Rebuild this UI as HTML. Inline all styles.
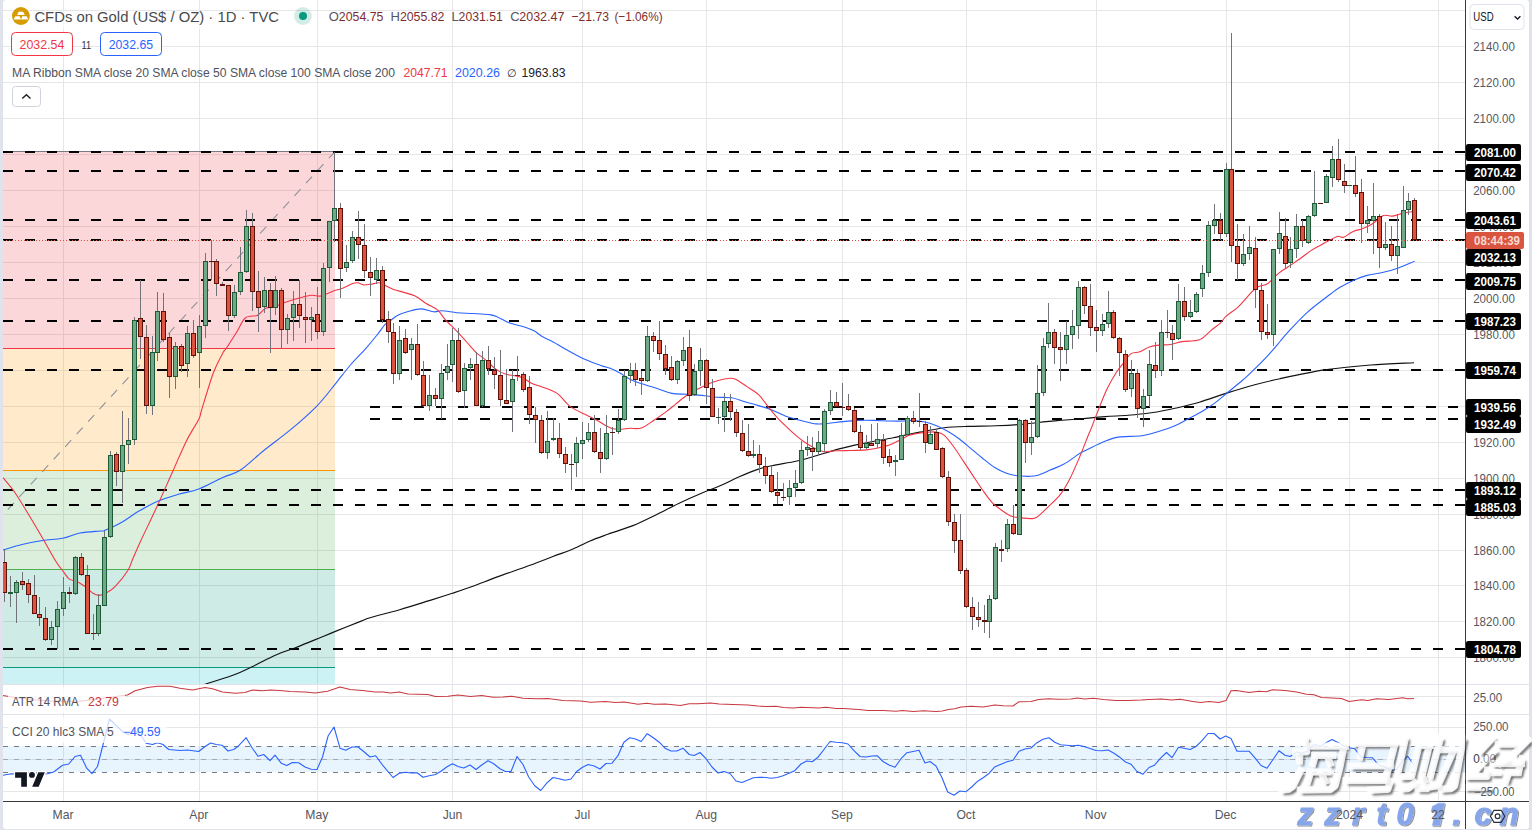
<!DOCTYPE html>
<html><head><meta charset="utf-8"><title>Gold chart</title>
<style>html,body{margin:0;padding:0;background:#fff}body{width:1532px;height:831px;overflow:hidden;position:relative;font-family:"Liberation Sans", sans-serif}</style>
</head><body>
<svg width="1532" height="831" viewBox="0 0 1532 831" style="position:absolute;left:0;top:0;font-family:'Liberation Sans',sans-serif" shape-rendering="crispEdges">
<rect x="0" y="0" width="1532" height="831" fill="#ffffff"/>
<g id="grid"><rect x="3" y="657" width="1462" height="1" fill="#e6e6e6"/><rect x="3" y="621" width="1462" height="1" fill="#e6e6e6"/><rect x="3" y="585" width="1462" height="1" fill="#e6e6e6"/><rect x="3" y="550" width="1462" height="1" fill="#e6e6e6"/><rect x="3" y="514" width="1462" height="1" fill="#e6e6e6"/><rect x="3" y="478" width="1462" height="1" fill="#e6e6e6"/><rect x="3" y="442" width="1462" height="1" fill="#e6e6e6"/><rect x="3" y="406" width="1462" height="1" fill="#e6e6e6"/><rect x="3" y="370" width="1462" height="1" fill="#e6e6e6"/><rect x="3" y="334" width="1462" height="1" fill="#e6e6e6"/><rect x="3" y="298" width="1462" height="1" fill="#e6e6e6"/><rect x="3" y="262" width="1462" height="1" fill="#e6e6e6"/><rect x="3" y="226" width="1462" height="1" fill="#e6e6e6"/><rect x="3" y="190" width="1462" height="1" fill="#e6e6e6"/><rect x="3" y="154" width="1462" height="1" fill="#e6e6e6"/><rect x="3" y="118" width="1462" height="1" fill="#e6e6e6"/><rect x="3" y="82" width="1462" height="1" fill="#e6e6e6"/><rect x="3" y="46" width="1462" height="1" fill="#e6e6e6"/><rect x="3" y="10" width="1462" height="1" fill="#e6e6e6"/><rect x="63" y="0" width="1" height="801" fill="#e6e6e6"/><rect x="199" y="0" width="1" height="801" fill="#e6e6e6"/><rect x="317" y="0" width="1" height="801" fill="#e6e6e6"/><rect x="452" y="0" width="1" height="801" fill="#e6e6e6"/><rect x="582" y="0" width="1" height="801" fill="#e6e6e6"/><rect x="706" y="0" width="1" height="801" fill="#e6e6e6"/><rect x="842" y="0" width="1" height="801" fill="#e6e6e6"/><rect x="966" y="0" width="1" height="801" fill="#e6e6e6"/><rect x="1096" y="0" width="1" height="801" fill="#e6e6e6"/><rect x="1226" y="0" width="1" height="801" fill="#e6e6e6"/><rect x="1349" y="0" width="1" height="801" fill="#e6e6e6"/><rect x="1438" y="0" width="1" height="801" fill="#e6e6e6"/><rect x="3" y="696" width="1462" height="1" fill="#e6e6e6"/><rect x="3" y="727" width="1462" height="1" fill="#e6e6e6"/><rect x="3" y="759" width="1462" height="1" fill="#e6e6e6"/><rect x="3" y="791" width="1462" height="1" fill="#e6e6e6"/></g>
<g id="fib"><rect x="3" y="151.5" width="332" height="196.8" fill="#f23645" fill-opacity="0.2"/><rect x="3" y="348.3" width="332" height="122.1" fill="#ff9800" fill-opacity="0.2"/><rect x="3" y="470.4" width="332" height="98.9" fill="#4caf50" fill-opacity="0.2"/><rect x="3" y="569.3" width="332" height="98.1" fill="#089981" fill-opacity="0.2"/><rect x="3" y="667.4" width="332" height="17.1" fill="#00bcd4" fill-opacity="0.2"/><rect x="3" y="151" width="332" height="1" fill="#787b86"/><rect x="3" y="348" width="332" height="1" fill="#f23645"/><rect x="3" y="470" width="332" height="1" fill="#ff9800"/><rect x="3" y="569" width="332" height="1" fill="#4caf50"/><rect x="3" y="667" width="332" height="1" fill="#089981"/><rect x="334" y="151" width="1" height="58" fill="#787b86"/></g>
<line x1="335" y1="151.5" x2="-10" y2="529" stroke="#8f929b" stroke-width="1.1" stroke-dasharray="9 8" shape-rendering="auto"/>
<g id="levels"><rect x="3" y="151" width="10" height="2" fill="#000"/><rect x="25" y="151" width="10" height="2" fill="#000"/><rect x="47" y="151" width="10" height="2" fill="#000"/><rect x="69" y="151" width="10" height="2" fill="#000"/><rect x="91" y="151" width="10" height="2" fill="#000"/><rect x="113" y="151" width="10" height="2" fill="#000"/><rect x="135" y="151" width="10" height="2" fill="#000"/><rect x="157" y="151" width="10" height="2" fill="#000"/><rect x="179" y="151" width="10" height="2" fill="#000"/><rect x="201" y="151" width="10" height="2" fill="#000"/><rect x="223" y="151" width="10" height="2" fill="#000"/><rect x="245" y="151" width="10" height="2" fill="#000"/><rect x="267" y="151" width="10" height="2" fill="#000"/><rect x="289" y="151" width="10" height="2" fill="#000"/><rect x="311" y="151" width="10" height="2" fill="#000"/><rect x="333" y="151" width="10" height="2" fill="#000"/><rect x="355" y="151" width="10" height="2" fill="#000"/><rect x="377" y="151" width="10" height="2" fill="#000"/><rect x="399" y="151" width="10" height="2" fill="#000"/><rect x="421" y="151" width="10" height="2" fill="#000"/><rect x="443" y="151" width="10" height="2" fill="#000"/><rect x="465" y="151" width="10" height="2" fill="#000"/><rect x="487" y="151" width="10" height="2" fill="#000"/><rect x="509" y="151" width="10" height="2" fill="#000"/><rect x="531" y="151" width="10" height="2" fill="#000"/><rect x="553" y="151" width="10" height="2" fill="#000"/><rect x="575" y="151" width="10" height="2" fill="#000"/><rect x="597" y="151" width="10" height="2" fill="#000"/><rect x="619" y="151" width="10" height="2" fill="#000"/><rect x="641" y="151" width="10" height="2" fill="#000"/><rect x="663" y="151" width="10" height="2" fill="#000"/><rect x="685" y="151" width="10" height="2" fill="#000"/><rect x="707" y="151" width="10" height="2" fill="#000"/><rect x="729" y="151" width="10" height="2" fill="#000"/><rect x="751" y="151" width="10" height="2" fill="#000"/><rect x="773" y="151" width="10" height="2" fill="#000"/><rect x="795" y="151" width="10" height="2" fill="#000"/><rect x="817" y="151" width="10" height="2" fill="#000"/><rect x="839" y="151" width="10" height="2" fill="#000"/><rect x="861" y="151" width="10" height="2" fill="#000"/><rect x="883" y="151" width="10" height="2" fill="#000"/><rect x="905" y="151" width="10" height="2" fill="#000"/><rect x="927" y="151" width="10" height="2" fill="#000"/><rect x="949" y="151" width="10" height="2" fill="#000"/><rect x="971" y="151" width="10" height="2" fill="#000"/><rect x="993" y="151" width="10" height="2" fill="#000"/><rect x="1015" y="151" width="10" height="2" fill="#000"/><rect x="1037" y="151" width="10" height="2" fill="#000"/><rect x="1059" y="151" width="10" height="2" fill="#000"/><rect x="1081" y="151" width="10" height="2" fill="#000"/><rect x="1103" y="151" width="10" height="2" fill="#000"/><rect x="1125" y="151" width="10" height="2" fill="#000"/><rect x="1147" y="151" width="10" height="2" fill="#000"/><rect x="1169" y="151" width="10" height="2" fill="#000"/><rect x="1191" y="151" width="10" height="2" fill="#000"/><rect x="1213" y="151" width="10" height="2" fill="#000"/><rect x="1235" y="151" width="10" height="2" fill="#000"/><rect x="1257" y="151" width="10" height="2" fill="#000"/><rect x="1279" y="151" width="10" height="2" fill="#000"/><rect x="1301" y="151" width="10" height="2" fill="#000"/><rect x="1323" y="151" width="10" height="2" fill="#000"/><rect x="1345" y="151" width="10" height="2" fill="#000"/><rect x="1367" y="151" width="10" height="2" fill="#000"/><rect x="1389" y="151" width="10" height="2" fill="#000"/><rect x="1411" y="151" width="10" height="2" fill="#000"/><rect x="1433" y="151" width="10" height="2" fill="#000"/><rect x="1455" y="151" width="10" height="2" fill="#000"/><rect x="3" y="170" width="10" height="2" fill="#000"/><rect x="25" y="170" width="10" height="2" fill="#000"/><rect x="47" y="170" width="10" height="2" fill="#000"/><rect x="69" y="170" width="10" height="2" fill="#000"/><rect x="91" y="170" width="10" height="2" fill="#000"/><rect x="113" y="170" width="10" height="2" fill="#000"/><rect x="135" y="170" width="10" height="2" fill="#000"/><rect x="157" y="170" width="10" height="2" fill="#000"/><rect x="179" y="170" width="10" height="2" fill="#000"/><rect x="201" y="170" width="10" height="2" fill="#000"/><rect x="223" y="170" width="10" height="2" fill="#000"/><rect x="245" y="170" width="10" height="2" fill="#000"/><rect x="267" y="170" width="10" height="2" fill="#000"/><rect x="289" y="170" width="10" height="2" fill="#000"/><rect x="311" y="170" width="10" height="2" fill="#000"/><rect x="333" y="170" width="10" height="2" fill="#000"/><rect x="355" y="170" width="10" height="2" fill="#000"/><rect x="377" y="170" width="10" height="2" fill="#000"/><rect x="399" y="170" width="10" height="2" fill="#000"/><rect x="421" y="170" width="10" height="2" fill="#000"/><rect x="443" y="170" width="10" height="2" fill="#000"/><rect x="465" y="170" width="10" height="2" fill="#000"/><rect x="487" y="170" width="10" height="2" fill="#000"/><rect x="509" y="170" width="10" height="2" fill="#000"/><rect x="531" y="170" width="10" height="2" fill="#000"/><rect x="553" y="170" width="10" height="2" fill="#000"/><rect x="575" y="170" width="10" height="2" fill="#000"/><rect x="597" y="170" width="10" height="2" fill="#000"/><rect x="619" y="170" width="10" height="2" fill="#000"/><rect x="641" y="170" width="10" height="2" fill="#000"/><rect x="663" y="170" width="10" height="2" fill="#000"/><rect x="685" y="170" width="10" height="2" fill="#000"/><rect x="707" y="170" width="10" height="2" fill="#000"/><rect x="729" y="170" width="10" height="2" fill="#000"/><rect x="751" y="170" width="10" height="2" fill="#000"/><rect x="773" y="170" width="10" height="2" fill="#000"/><rect x="795" y="170" width="10" height="2" fill="#000"/><rect x="817" y="170" width="10" height="2" fill="#000"/><rect x="839" y="170" width="10" height="2" fill="#000"/><rect x="861" y="170" width="10" height="2" fill="#000"/><rect x="883" y="170" width="10" height="2" fill="#000"/><rect x="905" y="170" width="10" height="2" fill="#000"/><rect x="927" y="170" width="10" height="2" fill="#000"/><rect x="949" y="170" width="10" height="2" fill="#000"/><rect x="971" y="170" width="10" height="2" fill="#000"/><rect x="993" y="170" width="10" height="2" fill="#000"/><rect x="1015" y="170" width="10" height="2" fill="#000"/><rect x="1037" y="170" width="10" height="2" fill="#000"/><rect x="1059" y="170" width="10" height="2" fill="#000"/><rect x="1081" y="170" width="10" height="2" fill="#000"/><rect x="1103" y="170" width="10" height="2" fill="#000"/><rect x="1125" y="170" width="10" height="2" fill="#000"/><rect x="1147" y="170" width="10" height="2" fill="#000"/><rect x="1169" y="170" width="10" height="2" fill="#000"/><rect x="1191" y="170" width="10" height="2" fill="#000"/><rect x="1213" y="170" width="10" height="2" fill="#000"/><rect x="1235" y="170" width="10" height="2" fill="#000"/><rect x="1257" y="170" width="10" height="2" fill="#000"/><rect x="1279" y="170" width="10" height="2" fill="#000"/><rect x="1301" y="170" width="10" height="2" fill="#000"/><rect x="1323" y="170" width="10" height="2" fill="#000"/><rect x="1345" y="170" width="10" height="2" fill="#000"/><rect x="1367" y="170" width="10" height="2" fill="#000"/><rect x="1389" y="170" width="10" height="2" fill="#000"/><rect x="1411" y="170" width="10" height="2" fill="#000"/><rect x="1433" y="170" width="10" height="2" fill="#000"/><rect x="1455" y="170" width="10" height="2" fill="#000"/><rect x="3" y="219" width="10" height="2" fill="#000"/><rect x="25" y="219" width="10" height="2" fill="#000"/><rect x="47" y="219" width="10" height="2" fill="#000"/><rect x="69" y="219" width="10" height="2" fill="#000"/><rect x="91" y="219" width="10" height="2" fill="#000"/><rect x="113" y="219" width="10" height="2" fill="#000"/><rect x="135" y="219" width="10" height="2" fill="#000"/><rect x="157" y="219" width="10" height="2" fill="#000"/><rect x="179" y="219" width="10" height="2" fill="#000"/><rect x="201" y="219" width="10" height="2" fill="#000"/><rect x="223" y="219" width="10" height="2" fill="#000"/><rect x="245" y="219" width="10" height="2" fill="#000"/><rect x="267" y="219" width="10" height="2" fill="#000"/><rect x="289" y="219" width="10" height="2" fill="#000"/><rect x="311" y="219" width="10" height="2" fill="#000"/><rect x="333" y="219" width="10" height="2" fill="#000"/><rect x="355" y="219" width="10" height="2" fill="#000"/><rect x="377" y="219" width="10" height="2" fill="#000"/><rect x="399" y="219" width="10" height="2" fill="#000"/><rect x="421" y="219" width="10" height="2" fill="#000"/><rect x="443" y="219" width="10" height="2" fill="#000"/><rect x="465" y="219" width="10" height="2" fill="#000"/><rect x="487" y="219" width="10" height="2" fill="#000"/><rect x="509" y="219" width="10" height="2" fill="#000"/><rect x="531" y="219" width="10" height="2" fill="#000"/><rect x="553" y="219" width="10" height="2" fill="#000"/><rect x="575" y="219" width="10" height="2" fill="#000"/><rect x="597" y="219" width="10" height="2" fill="#000"/><rect x="619" y="219" width="10" height="2" fill="#000"/><rect x="641" y="219" width="10" height="2" fill="#000"/><rect x="663" y="219" width="10" height="2" fill="#000"/><rect x="685" y="219" width="10" height="2" fill="#000"/><rect x="707" y="219" width="10" height="2" fill="#000"/><rect x="729" y="219" width="10" height="2" fill="#000"/><rect x="751" y="219" width="10" height="2" fill="#000"/><rect x="773" y="219" width="10" height="2" fill="#000"/><rect x="795" y="219" width="10" height="2" fill="#000"/><rect x="817" y="219" width="10" height="2" fill="#000"/><rect x="839" y="219" width="10" height="2" fill="#000"/><rect x="861" y="219" width="10" height="2" fill="#000"/><rect x="883" y="219" width="10" height="2" fill="#000"/><rect x="905" y="219" width="10" height="2" fill="#000"/><rect x="927" y="219" width="10" height="2" fill="#000"/><rect x="949" y="219" width="10" height="2" fill="#000"/><rect x="971" y="219" width="10" height="2" fill="#000"/><rect x="993" y="219" width="10" height="2" fill="#000"/><rect x="1015" y="219" width="10" height="2" fill="#000"/><rect x="1037" y="219" width="10" height="2" fill="#000"/><rect x="1059" y="219" width="10" height="2" fill="#000"/><rect x="1081" y="219" width="10" height="2" fill="#000"/><rect x="1103" y="219" width="10" height="2" fill="#000"/><rect x="1125" y="219" width="10" height="2" fill="#000"/><rect x="1147" y="219" width="10" height="2" fill="#000"/><rect x="1169" y="219" width="10" height="2" fill="#000"/><rect x="1191" y="219" width="10" height="2" fill="#000"/><rect x="1213" y="219" width="10" height="2" fill="#000"/><rect x="1235" y="219" width="10" height="2" fill="#000"/><rect x="1257" y="219" width="10" height="2" fill="#000"/><rect x="1279" y="219" width="10" height="2" fill="#000"/><rect x="1301" y="219" width="10" height="2" fill="#000"/><rect x="1323" y="219" width="10" height="2" fill="#000"/><rect x="1345" y="219" width="10" height="2" fill="#000"/><rect x="1367" y="219" width="10" height="2" fill="#000"/><rect x="1389" y="219" width="10" height="2" fill="#000"/><rect x="1411" y="219" width="10" height="2" fill="#000"/><rect x="1433" y="219" width="10" height="2" fill="#000"/><rect x="1455" y="219" width="10" height="2" fill="#000"/><rect x="3" y="239" width="10" height="2" fill="#000"/><rect x="25" y="239" width="10" height="2" fill="#000"/><rect x="47" y="239" width="10" height="2" fill="#000"/><rect x="69" y="239" width="10" height="2" fill="#000"/><rect x="91" y="239" width="10" height="2" fill="#000"/><rect x="113" y="239" width="10" height="2" fill="#000"/><rect x="135" y="239" width="10" height="2" fill="#000"/><rect x="157" y="239" width="10" height="2" fill="#000"/><rect x="179" y="239" width="10" height="2" fill="#000"/><rect x="201" y="239" width="10" height="2" fill="#000"/><rect x="223" y="239" width="10" height="2" fill="#000"/><rect x="245" y="239" width="10" height="2" fill="#000"/><rect x="267" y="239" width="10" height="2" fill="#000"/><rect x="289" y="239" width="10" height="2" fill="#000"/><rect x="311" y="239" width="10" height="2" fill="#000"/><rect x="333" y="239" width="10" height="2" fill="#000"/><rect x="355" y="239" width="10" height="2" fill="#000"/><rect x="377" y="239" width="10" height="2" fill="#000"/><rect x="399" y="239" width="10" height="2" fill="#000"/><rect x="421" y="239" width="10" height="2" fill="#000"/><rect x="443" y="239" width="10" height="2" fill="#000"/><rect x="465" y="239" width="10" height="2" fill="#000"/><rect x="487" y="239" width="10" height="2" fill="#000"/><rect x="509" y="239" width="10" height="2" fill="#000"/><rect x="531" y="239" width="10" height="2" fill="#000"/><rect x="553" y="239" width="10" height="2" fill="#000"/><rect x="575" y="239" width="10" height="2" fill="#000"/><rect x="597" y="239" width="10" height="2" fill="#000"/><rect x="619" y="239" width="10" height="2" fill="#000"/><rect x="641" y="239" width="10" height="2" fill="#000"/><rect x="663" y="239" width="10" height="2" fill="#000"/><rect x="685" y="239" width="10" height="2" fill="#000"/><rect x="707" y="239" width="10" height="2" fill="#000"/><rect x="729" y="239" width="10" height="2" fill="#000"/><rect x="751" y="239" width="10" height="2" fill="#000"/><rect x="773" y="239" width="10" height="2" fill="#000"/><rect x="795" y="239" width="10" height="2" fill="#000"/><rect x="817" y="239" width="10" height="2" fill="#000"/><rect x="839" y="239" width="10" height="2" fill="#000"/><rect x="861" y="239" width="10" height="2" fill="#000"/><rect x="883" y="239" width="10" height="2" fill="#000"/><rect x="905" y="239" width="10" height="2" fill="#000"/><rect x="927" y="239" width="10" height="2" fill="#000"/><rect x="949" y="239" width="10" height="2" fill="#000"/><rect x="971" y="239" width="10" height="2" fill="#000"/><rect x="993" y="239" width="10" height="2" fill="#000"/><rect x="1015" y="239" width="10" height="2" fill="#000"/><rect x="1037" y="239" width="10" height="2" fill="#000"/><rect x="1059" y="239" width="10" height="2" fill="#000"/><rect x="1081" y="239" width="10" height="2" fill="#000"/><rect x="1103" y="239" width="10" height="2" fill="#000"/><rect x="1125" y="239" width="10" height="2" fill="#000"/><rect x="1147" y="239" width="10" height="2" fill="#000"/><rect x="1169" y="239" width="10" height="2" fill="#000"/><rect x="1191" y="239" width="10" height="2" fill="#000"/><rect x="1213" y="239" width="10" height="2" fill="#000"/><rect x="1235" y="239" width="10" height="2" fill="#000"/><rect x="1257" y="239" width="10" height="2" fill="#000"/><rect x="1279" y="239" width="10" height="2" fill="#000"/><rect x="1301" y="239" width="10" height="2" fill="#000"/><rect x="1323" y="239" width="10" height="2" fill="#000"/><rect x="1345" y="239" width="10" height="2" fill="#000"/><rect x="1367" y="239" width="10" height="2" fill="#000"/><rect x="1389" y="239" width="10" height="2" fill="#000"/><rect x="1411" y="239" width="10" height="2" fill="#000"/><rect x="1433" y="239" width="10" height="2" fill="#000"/><rect x="1455" y="239" width="10" height="2" fill="#000"/><rect x="3" y="279" width="10" height="2" fill="#000"/><rect x="25" y="279" width="10" height="2" fill="#000"/><rect x="47" y="279" width="10" height="2" fill="#000"/><rect x="69" y="279" width="10" height="2" fill="#000"/><rect x="91" y="279" width="10" height="2" fill="#000"/><rect x="113" y="279" width="10" height="2" fill="#000"/><rect x="135" y="279" width="10" height="2" fill="#000"/><rect x="157" y="279" width="10" height="2" fill="#000"/><rect x="179" y="279" width="10" height="2" fill="#000"/><rect x="201" y="279" width="10" height="2" fill="#000"/><rect x="223" y="279" width="10" height="2" fill="#000"/><rect x="245" y="279" width="10" height="2" fill="#000"/><rect x="267" y="279" width="10" height="2" fill="#000"/><rect x="289" y="279" width="10" height="2" fill="#000"/><rect x="311" y="279" width="10" height="2" fill="#000"/><rect x="333" y="279" width="10" height="2" fill="#000"/><rect x="355" y="279" width="10" height="2" fill="#000"/><rect x="377" y="279" width="10" height="2" fill="#000"/><rect x="399" y="279" width="10" height="2" fill="#000"/><rect x="421" y="279" width="10" height="2" fill="#000"/><rect x="443" y="279" width="10" height="2" fill="#000"/><rect x="465" y="279" width="10" height="2" fill="#000"/><rect x="487" y="279" width="10" height="2" fill="#000"/><rect x="509" y="279" width="10" height="2" fill="#000"/><rect x="531" y="279" width="10" height="2" fill="#000"/><rect x="553" y="279" width="10" height="2" fill="#000"/><rect x="575" y="279" width="10" height="2" fill="#000"/><rect x="597" y="279" width="10" height="2" fill="#000"/><rect x="619" y="279" width="10" height="2" fill="#000"/><rect x="641" y="279" width="10" height="2" fill="#000"/><rect x="663" y="279" width="10" height="2" fill="#000"/><rect x="685" y="279" width="10" height="2" fill="#000"/><rect x="707" y="279" width="10" height="2" fill="#000"/><rect x="729" y="279" width="10" height="2" fill="#000"/><rect x="751" y="279" width="10" height="2" fill="#000"/><rect x="773" y="279" width="10" height="2" fill="#000"/><rect x="795" y="279" width="10" height="2" fill="#000"/><rect x="817" y="279" width="10" height="2" fill="#000"/><rect x="839" y="279" width="10" height="2" fill="#000"/><rect x="861" y="279" width="10" height="2" fill="#000"/><rect x="883" y="279" width="10" height="2" fill="#000"/><rect x="905" y="279" width="10" height="2" fill="#000"/><rect x="927" y="279" width="10" height="2" fill="#000"/><rect x="949" y="279" width="10" height="2" fill="#000"/><rect x="971" y="279" width="10" height="2" fill="#000"/><rect x="993" y="279" width="10" height="2" fill="#000"/><rect x="1015" y="279" width="10" height="2" fill="#000"/><rect x="1037" y="279" width="10" height="2" fill="#000"/><rect x="1059" y="279" width="10" height="2" fill="#000"/><rect x="1081" y="279" width="10" height="2" fill="#000"/><rect x="1103" y="279" width="10" height="2" fill="#000"/><rect x="1125" y="279" width="10" height="2" fill="#000"/><rect x="1147" y="279" width="10" height="2" fill="#000"/><rect x="1169" y="279" width="10" height="2" fill="#000"/><rect x="1191" y="279" width="10" height="2" fill="#000"/><rect x="1213" y="279" width="10" height="2" fill="#000"/><rect x="1235" y="279" width="10" height="2" fill="#000"/><rect x="1257" y="279" width="10" height="2" fill="#000"/><rect x="1279" y="279" width="10" height="2" fill="#000"/><rect x="1301" y="279" width="10" height="2" fill="#000"/><rect x="1323" y="279" width="10" height="2" fill="#000"/><rect x="1345" y="279" width="10" height="2" fill="#000"/><rect x="1367" y="279" width="10" height="2" fill="#000"/><rect x="1389" y="279" width="10" height="2" fill="#000"/><rect x="1411" y="279" width="10" height="2" fill="#000"/><rect x="1433" y="279" width="10" height="2" fill="#000"/><rect x="1455" y="279" width="10" height="2" fill="#000"/><rect x="3" y="320" width="10" height="2" fill="#000"/><rect x="25" y="320" width="10" height="2" fill="#000"/><rect x="47" y="320" width="10" height="2" fill="#000"/><rect x="69" y="320" width="10" height="2" fill="#000"/><rect x="91" y="320" width="10" height="2" fill="#000"/><rect x="113" y="320" width="10" height="2" fill="#000"/><rect x="135" y="320" width="10" height="2" fill="#000"/><rect x="157" y="320" width="10" height="2" fill="#000"/><rect x="179" y="320" width="10" height="2" fill="#000"/><rect x="201" y="320" width="10" height="2" fill="#000"/><rect x="223" y="320" width="10" height="2" fill="#000"/><rect x="245" y="320" width="10" height="2" fill="#000"/><rect x="267" y="320" width="10" height="2" fill="#000"/><rect x="289" y="320" width="10" height="2" fill="#000"/><rect x="311" y="320" width="10" height="2" fill="#000"/><rect x="333" y="320" width="10" height="2" fill="#000"/><rect x="355" y="320" width="10" height="2" fill="#000"/><rect x="377" y="320" width="10" height="2" fill="#000"/><rect x="399" y="320" width="10" height="2" fill="#000"/><rect x="421" y="320" width="10" height="2" fill="#000"/><rect x="443" y="320" width="10" height="2" fill="#000"/><rect x="465" y="320" width="10" height="2" fill="#000"/><rect x="487" y="320" width="10" height="2" fill="#000"/><rect x="509" y="320" width="10" height="2" fill="#000"/><rect x="531" y="320" width="10" height="2" fill="#000"/><rect x="553" y="320" width="10" height="2" fill="#000"/><rect x="575" y="320" width="10" height="2" fill="#000"/><rect x="597" y="320" width="10" height="2" fill="#000"/><rect x="619" y="320" width="10" height="2" fill="#000"/><rect x="641" y="320" width="10" height="2" fill="#000"/><rect x="663" y="320" width="10" height="2" fill="#000"/><rect x="685" y="320" width="10" height="2" fill="#000"/><rect x="707" y="320" width="10" height="2" fill="#000"/><rect x="729" y="320" width="10" height="2" fill="#000"/><rect x="751" y="320" width="10" height="2" fill="#000"/><rect x="773" y="320" width="10" height="2" fill="#000"/><rect x="795" y="320" width="10" height="2" fill="#000"/><rect x="817" y="320" width="10" height="2" fill="#000"/><rect x="839" y="320" width="10" height="2" fill="#000"/><rect x="861" y="320" width="10" height="2" fill="#000"/><rect x="883" y="320" width="10" height="2" fill="#000"/><rect x="905" y="320" width="10" height="2" fill="#000"/><rect x="927" y="320" width="10" height="2" fill="#000"/><rect x="949" y="320" width="10" height="2" fill="#000"/><rect x="971" y="320" width="10" height="2" fill="#000"/><rect x="993" y="320" width="10" height="2" fill="#000"/><rect x="1015" y="320" width="10" height="2" fill="#000"/><rect x="1037" y="320" width="10" height="2" fill="#000"/><rect x="1059" y="320" width="10" height="2" fill="#000"/><rect x="1081" y="320" width="10" height="2" fill="#000"/><rect x="1103" y="320" width="10" height="2" fill="#000"/><rect x="1125" y="320" width="10" height="2" fill="#000"/><rect x="1147" y="320" width="10" height="2" fill="#000"/><rect x="1169" y="320" width="10" height="2" fill="#000"/><rect x="1191" y="320" width="10" height="2" fill="#000"/><rect x="1213" y="320" width="10" height="2" fill="#000"/><rect x="1235" y="320" width="10" height="2" fill="#000"/><rect x="1257" y="320" width="10" height="2" fill="#000"/><rect x="1279" y="320" width="10" height="2" fill="#000"/><rect x="1301" y="320" width="10" height="2" fill="#000"/><rect x="1323" y="320" width="10" height="2" fill="#000"/><rect x="1345" y="320" width="10" height="2" fill="#000"/><rect x="1367" y="320" width="10" height="2" fill="#000"/><rect x="1389" y="320" width="10" height="2" fill="#000"/><rect x="1411" y="320" width="10" height="2" fill="#000"/><rect x="1433" y="320" width="10" height="2" fill="#000"/><rect x="1455" y="320" width="10" height="2" fill="#000"/><rect x="3" y="369" width="10" height="2" fill="#000"/><rect x="25" y="369" width="10" height="2" fill="#000"/><rect x="47" y="369" width="10" height="2" fill="#000"/><rect x="69" y="369" width="10" height="2" fill="#000"/><rect x="91" y="369" width="10" height="2" fill="#000"/><rect x="113" y="369" width="10" height="2" fill="#000"/><rect x="135" y="369" width="10" height="2" fill="#000"/><rect x="157" y="369" width="10" height="2" fill="#000"/><rect x="179" y="369" width="10" height="2" fill="#000"/><rect x="201" y="369" width="10" height="2" fill="#000"/><rect x="223" y="369" width="10" height="2" fill="#000"/><rect x="245" y="369" width="10" height="2" fill="#000"/><rect x="267" y="369" width="10" height="2" fill="#000"/><rect x="289" y="369" width="10" height="2" fill="#000"/><rect x="311" y="369" width="10" height="2" fill="#000"/><rect x="333" y="369" width="10" height="2" fill="#000"/><rect x="355" y="369" width="10" height="2" fill="#000"/><rect x="377" y="369" width="10" height="2" fill="#000"/><rect x="399" y="369" width="10" height="2" fill="#000"/><rect x="421" y="369" width="10" height="2" fill="#000"/><rect x="443" y="369" width="10" height="2" fill="#000"/><rect x="465" y="369" width="10" height="2" fill="#000"/><rect x="487" y="369" width="10" height="2" fill="#000"/><rect x="509" y="369" width="10" height="2" fill="#000"/><rect x="531" y="369" width="10" height="2" fill="#000"/><rect x="553" y="369" width="10" height="2" fill="#000"/><rect x="575" y="369" width="10" height="2" fill="#000"/><rect x="597" y="369" width="10" height="2" fill="#000"/><rect x="619" y="369" width="10" height="2" fill="#000"/><rect x="641" y="369" width="10" height="2" fill="#000"/><rect x="663" y="369" width="10" height="2" fill="#000"/><rect x="685" y="369" width="10" height="2" fill="#000"/><rect x="707" y="369" width="10" height="2" fill="#000"/><rect x="729" y="369" width="10" height="2" fill="#000"/><rect x="751" y="369" width="10" height="2" fill="#000"/><rect x="773" y="369" width="10" height="2" fill="#000"/><rect x="795" y="369" width="10" height="2" fill="#000"/><rect x="817" y="369" width="10" height="2" fill="#000"/><rect x="839" y="369" width="10" height="2" fill="#000"/><rect x="861" y="369" width="10" height="2" fill="#000"/><rect x="883" y="369" width="10" height="2" fill="#000"/><rect x="905" y="369" width="10" height="2" fill="#000"/><rect x="927" y="369" width="10" height="2" fill="#000"/><rect x="949" y="369" width="10" height="2" fill="#000"/><rect x="971" y="369" width="10" height="2" fill="#000"/><rect x="993" y="369" width="10" height="2" fill="#000"/><rect x="1015" y="369" width="10" height="2" fill="#000"/><rect x="1037" y="369" width="10" height="2" fill="#000"/><rect x="1059" y="369" width="10" height="2" fill="#000"/><rect x="1081" y="369" width="10" height="2" fill="#000"/><rect x="1103" y="369" width="10" height="2" fill="#000"/><rect x="1125" y="369" width="10" height="2" fill="#000"/><rect x="1147" y="369" width="10" height="2" fill="#000"/><rect x="1169" y="369" width="10" height="2" fill="#000"/><rect x="1191" y="369" width="10" height="2" fill="#000"/><rect x="1213" y="369" width="10" height="2" fill="#000"/><rect x="1235" y="369" width="10" height="2" fill="#000"/><rect x="1257" y="369" width="10" height="2" fill="#000"/><rect x="1279" y="369" width="10" height="2" fill="#000"/><rect x="1301" y="369" width="10" height="2" fill="#000"/><rect x="1323" y="369" width="10" height="2" fill="#000"/><rect x="1345" y="369" width="10" height="2" fill="#000"/><rect x="1367" y="369" width="10" height="2" fill="#000"/><rect x="1389" y="369" width="10" height="2" fill="#000"/><rect x="1411" y="369" width="10" height="2" fill="#000"/><rect x="1433" y="369" width="10" height="2" fill="#000"/><rect x="1455" y="369" width="10" height="2" fill="#000"/><rect x="370" y="406" width="10" height="2" fill="#000"/><rect x="392" y="406" width="10" height="2" fill="#000"/><rect x="414" y="406" width="10" height="2" fill="#000"/><rect x="436" y="406" width="10" height="2" fill="#000"/><rect x="458" y="406" width="10" height="2" fill="#000"/><rect x="480" y="406" width="10" height="2" fill="#000"/><rect x="502" y="406" width="10" height="2" fill="#000"/><rect x="524" y="406" width="10" height="2" fill="#000"/><rect x="546" y="406" width="10" height="2" fill="#000"/><rect x="568" y="406" width="10" height="2" fill="#000"/><rect x="590" y="406" width="10" height="2" fill="#000"/><rect x="612" y="406" width="10" height="2" fill="#000"/><rect x="634" y="406" width="10" height="2" fill="#000"/><rect x="656" y="406" width="10" height="2" fill="#000"/><rect x="678" y="406" width="10" height="2" fill="#000"/><rect x="700" y="406" width="10" height="2" fill="#000"/><rect x="722" y="406" width="10" height="2" fill="#000"/><rect x="744" y="406" width="10" height="2" fill="#000"/><rect x="766" y="406" width="10" height="2" fill="#000"/><rect x="788" y="406" width="10" height="2" fill="#000"/><rect x="810" y="406" width="10" height="2" fill="#000"/><rect x="832" y="406" width="10" height="2" fill="#000"/><rect x="854" y="406" width="10" height="2" fill="#000"/><rect x="876" y="406" width="10" height="2" fill="#000"/><rect x="898" y="406" width="10" height="2" fill="#000"/><rect x="920" y="406" width="10" height="2" fill="#000"/><rect x="942" y="406" width="10" height="2" fill="#000"/><rect x="964" y="406" width="10" height="2" fill="#000"/><rect x="986" y="406" width="10" height="2" fill="#000"/><rect x="1008" y="406" width="10" height="2" fill="#000"/><rect x="1030" y="406" width="10" height="2" fill="#000"/><rect x="1052" y="406" width="10" height="2" fill="#000"/><rect x="1074" y="406" width="10" height="2" fill="#000"/><rect x="1096" y="406" width="10" height="2" fill="#000"/><rect x="1118" y="406" width="10" height="2" fill="#000"/><rect x="1140" y="406" width="10" height="2" fill="#000"/><rect x="1162" y="406" width="10" height="2" fill="#000"/><rect x="1184" y="406" width="10" height="2" fill="#000"/><rect x="1206" y="406" width="10" height="2" fill="#000"/><rect x="1228" y="406" width="10" height="2" fill="#000"/><rect x="1250" y="406" width="10" height="2" fill="#000"/><rect x="1272" y="406" width="10" height="2" fill="#000"/><rect x="1294" y="406" width="10" height="2" fill="#000"/><rect x="1316" y="406" width="10" height="2" fill="#000"/><rect x="1338" y="406" width="10" height="2" fill="#000"/><rect x="1360" y="406" width="10" height="2" fill="#000"/><rect x="1382" y="406" width="10" height="2" fill="#000"/><rect x="1404" y="406" width="10" height="2" fill="#000"/><rect x="1426" y="406" width="10" height="2" fill="#000"/><rect x="1448" y="406" width="10" height="2" fill="#000"/><rect x="370" y="418" width="10" height="2" fill="#000"/><rect x="392" y="418" width="10" height="2" fill="#000"/><rect x="414" y="418" width="10" height="2" fill="#000"/><rect x="436" y="418" width="10" height="2" fill="#000"/><rect x="458" y="418" width="10" height="2" fill="#000"/><rect x="480" y="418" width="10" height="2" fill="#000"/><rect x="502" y="418" width="10" height="2" fill="#000"/><rect x="524" y="418" width="10" height="2" fill="#000"/><rect x="546" y="418" width="10" height="2" fill="#000"/><rect x="568" y="418" width="10" height="2" fill="#000"/><rect x="590" y="418" width="10" height="2" fill="#000"/><rect x="612" y="418" width="10" height="2" fill="#000"/><rect x="634" y="418" width="10" height="2" fill="#000"/><rect x="656" y="418" width="10" height="2" fill="#000"/><rect x="678" y="418" width="10" height="2" fill="#000"/><rect x="700" y="418" width="10" height="2" fill="#000"/><rect x="722" y="418" width="10" height="2" fill="#000"/><rect x="744" y="418" width="10" height="2" fill="#000"/><rect x="766" y="418" width="10" height="2" fill="#000"/><rect x="788" y="418" width="10" height="2" fill="#000"/><rect x="810" y="418" width="10" height="2" fill="#000"/><rect x="832" y="418" width="10" height="2" fill="#000"/><rect x="854" y="418" width="10" height="2" fill="#000"/><rect x="876" y="418" width="10" height="2" fill="#000"/><rect x="898" y="418" width="10" height="2" fill="#000"/><rect x="920" y="418" width="10" height="2" fill="#000"/><rect x="942" y="418" width="10" height="2" fill="#000"/><rect x="964" y="418" width="10" height="2" fill="#000"/><rect x="986" y="418" width="10" height="2" fill="#000"/><rect x="1008" y="418" width="10" height="2" fill="#000"/><rect x="1030" y="418" width="10" height="2" fill="#000"/><rect x="1052" y="418" width="10" height="2" fill="#000"/><rect x="1074" y="418" width="10" height="2" fill="#000"/><rect x="1096" y="418" width="10" height="2" fill="#000"/><rect x="1118" y="418" width="10" height="2" fill="#000"/><rect x="1140" y="418" width="10" height="2" fill="#000"/><rect x="1162" y="418" width="10" height="2" fill="#000"/><rect x="1184" y="418" width="10" height="2" fill="#000"/><rect x="1206" y="418" width="10" height="2" fill="#000"/><rect x="1228" y="418" width="10" height="2" fill="#000"/><rect x="1250" y="418" width="10" height="2" fill="#000"/><rect x="1272" y="418" width="10" height="2" fill="#000"/><rect x="1294" y="418" width="10" height="2" fill="#000"/><rect x="1316" y="418" width="10" height="2" fill="#000"/><rect x="1338" y="418" width="10" height="2" fill="#000"/><rect x="1360" y="418" width="10" height="2" fill="#000"/><rect x="1382" y="418" width="10" height="2" fill="#000"/><rect x="1404" y="418" width="10" height="2" fill="#000"/><rect x="1426" y="418" width="10" height="2" fill="#000"/><rect x="1448" y="418" width="10" height="2" fill="#000"/><rect x="3" y="489" width="10" height="2" fill="#000"/><rect x="25" y="489" width="10" height="2" fill="#000"/><rect x="47" y="489" width="10" height="2" fill="#000"/><rect x="69" y="489" width="10" height="2" fill="#000"/><rect x="91" y="489" width="10" height="2" fill="#000"/><rect x="113" y="489" width="10" height="2" fill="#000"/><rect x="135" y="489" width="10" height="2" fill="#000"/><rect x="157" y="489" width="10" height="2" fill="#000"/><rect x="179" y="489" width="10" height="2" fill="#000"/><rect x="201" y="489" width="10" height="2" fill="#000"/><rect x="223" y="489" width="10" height="2" fill="#000"/><rect x="245" y="489" width="10" height="2" fill="#000"/><rect x="267" y="489" width="10" height="2" fill="#000"/><rect x="289" y="489" width="10" height="2" fill="#000"/><rect x="311" y="489" width="10" height="2" fill="#000"/><rect x="333" y="489" width="10" height="2" fill="#000"/><rect x="355" y="489" width="10" height="2" fill="#000"/><rect x="377" y="489" width="10" height="2" fill="#000"/><rect x="399" y="489" width="10" height="2" fill="#000"/><rect x="421" y="489" width="10" height="2" fill="#000"/><rect x="443" y="489" width="10" height="2" fill="#000"/><rect x="465" y="489" width="10" height="2" fill="#000"/><rect x="487" y="489" width="10" height="2" fill="#000"/><rect x="509" y="489" width="10" height="2" fill="#000"/><rect x="531" y="489" width="10" height="2" fill="#000"/><rect x="553" y="489" width="10" height="2" fill="#000"/><rect x="575" y="489" width="10" height="2" fill="#000"/><rect x="597" y="489" width="10" height="2" fill="#000"/><rect x="619" y="489" width="10" height="2" fill="#000"/><rect x="641" y="489" width="10" height="2" fill="#000"/><rect x="663" y="489" width="10" height="2" fill="#000"/><rect x="685" y="489" width="10" height="2" fill="#000"/><rect x="707" y="489" width="10" height="2" fill="#000"/><rect x="729" y="489" width="10" height="2" fill="#000"/><rect x="751" y="489" width="10" height="2" fill="#000"/><rect x="773" y="489" width="10" height="2" fill="#000"/><rect x="795" y="489" width="10" height="2" fill="#000"/><rect x="817" y="489" width="10" height="2" fill="#000"/><rect x="839" y="489" width="10" height="2" fill="#000"/><rect x="861" y="489" width="10" height="2" fill="#000"/><rect x="883" y="489" width="10" height="2" fill="#000"/><rect x="905" y="489" width="10" height="2" fill="#000"/><rect x="927" y="489" width="10" height="2" fill="#000"/><rect x="949" y="489" width="10" height="2" fill="#000"/><rect x="971" y="489" width="10" height="2" fill="#000"/><rect x="993" y="489" width="10" height="2" fill="#000"/><rect x="1015" y="489" width="10" height="2" fill="#000"/><rect x="1037" y="489" width="10" height="2" fill="#000"/><rect x="1059" y="489" width="10" height="2" fill="#000"/><rect x="1081" y="489" width="10" height="2" fill="#000"/><rect x="1103" y="489" width="10" height="2" fill="#000"/><rect x="1125" y="489" width="10" height="2" fill="#000"/><rect x="1147" y="489" width="10" height="2" fill="#000"/><rect x="1169" y="489" width="10" height="2" fill="#000"/><rect x="1191" y="489" width="10" height="2" fill="#000"/><rect x="1213" y="489" width="10" height="2" fill="#000"/><rect x="1235" y="489" width="10" height="2" fill="#000"/><rect x="1257" y="489" width="10" height="2" fill="#000"/><rect x="1279" y="489" width="10" height="2" fill="#000"/><rect x="1301" y="489" width="10" height="2" fill="#000"/><rect x="1323" y="489" width="10" height="2" fill="#000"/><rect x="1345" y="489" width="10" height="2" fill="#000"/><rect x="1367" y="489" width="10" height="2" fill="#000"/><rect x="1389" y="489" width="10" height="2" fill="#000"/><rect x="1411" y="489" width="10" height="2" fill="#000"/><rect x="1433" y="489" width="10" height="2" fill="#000"/><rect x="1455" y="489" width="10" height="2" fill="#000"/><rect x="3" y="504" width="10" height="2" fill="#000"/><rect x="25" y="504" width="10" height="2" fill="#000"/><rect x="47" y="504" width="10" height="2" fill="#000"/><rect x="69" y="504" width="10" height="2" fill="#000"/><rect x="91" y="504" width="10" height="2" fill="#000"/><rect x="113" y="504" width="10" height="2" fill="#000"/><rect x="135" y="504" width="10" height="2" fill="#000"/><rect x="157" y="504" width="10" height="2" fill="#000"/><rect x="179" y="504" width="10" height="2" fill="#000"/><rect x="201" y="504" width="10" height="2" fill="#000"/><rect x="223" y="504" width="10" height="2" fill="#000"/><rect x="245" y="504" width="10" height="2" fill="#000"/><rect x="267" y="504" width="10" height="2" fill="#000"/><rect x="289" y="504" width="10" height="2" fill="#000"/><rect x="311" y="504" width="10" height="2" fill="#000"/><rect x="333" y="504" width="10" height="2" fill="#000"/><rect x="355" y="504" width="10" height="2" fill="#000"/><rect x="377" y="504" width="10" height="2" fill="#000"/><rect x="399" y="504" width="10" height="2" fill="#000"/><rect x="421" y="504" width="10" height="2" fill="#000"/><rect x="443" y="504" width="10" height="2" fill="#000"/><rect x="465" y="504" width="10" height="2" fill="#000"/><rect x="487" y="504" width="10" height="2" fill="#000"/><rect x="509" y="504" width="10" height="2" fill="#000"/><rect x="531" y="504" width="10" height="2" fill="#000"/><rect x="553" y="504" width="10" height="2" fill="#000"/><rect x="575" y="504" width="10" height="2" fill="#000"/><rect x="597" y="504" width="10" height="2" fill="#000"/><rect x="619" y="504" width="10" height="2" fill="#000"/><rect x="641" y="504" width="10" height="2" fill="#000"/><rect x="663" y="504" width="10" height="2" fill="#000"/><rect x="685" y="504" width="10" height="2" fill="#000"/><rect x="707" y="504" width="10" height="2" fill="#000"/><rect x="729" y="504" width="10" height="2" fill="#000"/><rect x="751" y="504" width="10" height="2" fill="#000"/><rect x="773" y="504" width="10" height="2" fill="#000"/><rect x="795" y="504" width="10" height="2" fill="#000"/><rect x="817" y="504" width="10" height="2" fill="#000"/><rect x="839" y="504" width="10" height="2" fill="#000"/><rect x="861" y="504" width="10" height="2" fill="#000"/><rect x="883" y="504" width="10" height="2" fill="#000"/><rect x="905" y="504" width="10" height="2" fill="#000"/><rect x="927" y="504" width="10" height="2" fill="#000"/><rect x="949" y="504" width="10" height="2" fill="#000"/><rect x="971" y="504" width="10" height="2" fill="#000"/><rect x="993" y="504" width="10" height="2" fill="#000"/><rect x="1015" y="504" width="10" height="2" fill="#000"/><rect x="1037" y="504" width="10" height="2" fill="#000"/><rect x="1059" y="504" width="10" height="2" fill="#000"/><rect x="1081" y="504" width="10" height="2" fill="#000"/><rect x="1103" y="504" width="10" height="2" fill="#000"/><rect x="1125" y="504" width="10" height="2" fill="#000"/><rect x="1147" y="504" width="10" height="2" fill="#000"/><rect x="1169" y="504" width="10" height="2" fill="#000"/><rect x="1191" y="504" width="10" height="2" fill="#000"/><rect x="1213" y="504" width="10" height="2" fill="#000"/><rect x="1235" y="504" width="10" height="2" fill="#000"/><rect x="1257" y="504" width="10" height="2" fill="#000"/><rect x="1279" y="504" width="10" height="2" fill="#000"/><rect x="1301" y="504" width="10" height="2" fill="#000"/><rect x="1323" y="504" width="10" height="2" fill="#000"/><rect x="1345" y="504" width="10" height="2" fill="#000"/><rect x="1367" y="504" width="10" height="2" fill="#000"/><rect x="1389" y="504" width="10" height="2" fill="#000"/><rect x="1411" y="504" width="10" height="2" fill="#000"/><rect x="1433" y="504" width="10" height="2" fill="#000"/><rect x="1455" y="504" width="10" height="2" fill="#000"/><rect x="3" y="648" width="10" height="2" fill="#000"/><rect x="25" y="648" width="10" height="2" fill="#000"/><rect x="47" y="648" width="10" height="2" fill="#000"/><rect x="69" y="648" width="10" height="2" fill="#000"/><rect x="91" y="648" width="10" height="2" fill="#000"/><rect x="113" y="648" width="10" height="2" fill="#000"/><rect x="135" y="648" width="10" height="2" fill="#000"/><rect x="157" y="648" width="10" height="2" fill="#000"/><rect x="179" y="648" width="10" height="2" fill="#000"/><rect x="201" y="648" width="10" height="2" fill="#000"/><rect x="223" y="648" width="10" height="2" fill="#000"/><rect x="245" y="648" width="10" height="2" fill="#000"/><rect x="267" y="648" width="10" height="2" fill="#000"/><rect x="289" y="648" width="10" height="2" fill="#000"/><rect x="311" y="648" width="10" height="2" fill="#000"/><rect x="333" y="648" width="10" height="2" fill="#000"/><rect x="355" y="648" width="10" height="2" fill="#000"/><rect x="377" y="648" width="10" height="2" fill="#000"/><rect x="399" y="648" width="10" height="2" fill="#000"/><rect x="421" y="648" width="10" height="2" fill="#000"/><rect x="443" y="648" width="10" height="2" fill="#000"/><rect x="465" y="648" width="10" height="2" fill="#000"/><rect x="487" y="648" width="10" height="2" fill="#000"/><rect x="509" y="648" width="10" height="2" fill="#000"/><rect x="531" y="648" width="10" height="2" fill="#000"/><rect x="553" y="648" width="10" height="2" fill="#000"/><rect x="575" y="648" width="10" height="2" fill="#000"/><rect x="597" y="648" width="10" height="2" fill="#000"/><rect x="619" y="648" width="10" height="2" fill="#000"/><rect x="641" y="648" width="10" height="2" fill="#000"/><rect x="663" y="648" width="10" height="2" fill="#000"/><rect x="685" y="648" width="10" height="2" fill="#000"/><rect x="707" y="648" width="10" height="2" fill="#000"/><rect x="729" y="648" width="10" height="2" fill="#000"/><rect x="751" y="648" width="10" height="2" fill="#000"/><rect x="773" y="648" width="10" height="2" fill="#000"/><rect x="795" y="648" width="10" height="2" fill="#000"/><rect x="817" y="648" width="10" height="2" fill="#000"/><rect x="839" y="648" width="10" height="2" fill="#000"/><rect x="861" y="648" width="10" height="2" fill="#000"/><rect x="883" y="648" width="10" height="2" fill="#000"/><rect x="905" y="648" width="10" height="2" fill="#000"/><rect x="927" y="648" width="10" height="2" fill="#000"/><rect x="949" y="648" width="10" height="2" fill="#000"/><rect x="971" y="648" width="10" height="2" fill="#000"/><rect x="993" y="648" width="10" height="2" fill="#000"/><rect x="1015" y="648" width="10" height="2" fill="#000"/><rect x="1037" y="648" width="10" height="2" fill="#000"/><rect x="1059" y="648" width="10" height="2" fill="#000"/><rect x="1081" y="648" width="10" height="2" fill="#000"/><rect x="1103" y="648" width="10" height="2" fill="#000"/><rect x="1125" y="648" width="10" height="2" fill="#000"/><rect x="1147" y="648" width="10" height="2" fill="#000"/><rect x="1169" y="648" width="10" height="2" fill="#000"/><rect x="1191" y="648" width="10" height="2" fill="#000"/><rect x="1213" y="648" width="10" height="2" fill="#000"/><rect x="1235" y="648" width="10" height="2" fill="#000"/><rect x="1257" y="648" width="10" height="2" fill="#000"/><rect x="1279" y="648" width="10" height="2" fill="#000"/><rect x="1301" y="648" width="10" height="2" fill="#000"/><rect x="1323" y="648" width="10" height="2" fill="#000"/><rect x="1345" y="648" width="10" height="2" fill="#000"/><rect x="1367" y="648" width="10" height="2" fill="#000"/><rect x="1389" y="648" width="10" height="2" fill="#000"/><rect x="1411" y="648" width="10" height="2" fill="#000"/><rect x="1433" y="648" width="10" height="2" fill="#000"/><rect x="1455" y="648" width="10" height="2" fill="#000"/></g>
<path d="M204.0 684.5C208.8 683.0 224.7 678.2 232.8 675.2C240.9 672.2 245.7 669.7 252.8 666.4C259.9 663.1 268.2 658.3 275.3 655.2C282.4 652.1 288.7 650.3 295.4 647.7C302.1 645.1 308.7 642.3 315.4 639.6C322.1 636.9 327.9 634.4 335.4 631.4C342.9 628.4 354.7 623.7 360.5 621.4C366.3 619.1 363.5 619.7 370.0 617.7C376.5 615.8 389.4 612.7 399.7 609.7C410.0 606.7 422.9 602.6 431.7 599.9C440.5 597.2 445.4 595.6 452.3 593.3C459.2 591.0 465.3 589.0 472.9 586.2C480.5 583.4 488.5 580.1 498.0 576.6C507.5 573.1 520.9 568.6 530.0 565.2C539.1 561.9 546.0 559.1 552.9 556.5C559.8 553.9 565.1 552.3 571.2 549.8C577.3 547.2 583.4 543.8 589.5 541.2C595.6 538.6 600.6 536.9 607.8 534.3C615.0 531.7 624.9 528.8 632.9 525.6C640.9 522.4 648.2 518.6 655.8 514.9C663.4 511.2 671.0 507.0 678.6 503.4C686.2 499.8 694.6 496.1 701.5 493.2C708.4 490.3 713.7 488.5 720.0 485.8C726.3 483.1 732.8 479.6 739.2 476.8C745.6 474.0 753.0 471.0 758.5 469.1C764.0 467.2 765.6 467.1 772.0 465.7C778.4 464.3 789.6 462.7 797.0 461.0C804.4 459.3 809.8 457.6 816.2 455.7C822.6 453.8 829.1 451.7 835.5 449.9C841.9 448.1 848.3 446.6 854.7 445.1C861.1 443.7 867.6 442.4 874.0 441.2C880.4 440.0 886.8 439.1 893.2 437.8C899.6 436.5 907.2 434.6 912.5 433.5C917.8 432.4 919.7 432.2 925.0 431.2C930.3 430.2 937.2 428.5 944.3 427.7C951.4 426.9 958.8 426.7 967.4 426.4C976.0 426.1 987.6 426.1 996.2 425.8C1004.9 425.5 1010.9 425.2 1019.3 424.5C1027.6 423.8 1039.7 422.3 1046.3 421.6C1052.9 420.9 1053.3 420.9 1058.9 420.5C1064.5 420.1 1072.3 419.5 1080.0 418.9C1087.7 418.2 1097.0 417.2 1105.0 416.6C1113.0 416.0 1120.4 415.9 1128.1 415.3C1135.8 414.7 1143.2 414.0 1151.2 412.8C1159.2 411.6 1168.2 409.8 1176.2 408.0C1184.2 406.2 1190.6 404.8 1199.3 402.2C1208.0 399.6 1219.2 395.4 1228.2 392.6C1237.2 389.8 1244.6 387.5 1253.2 385.2C1261.8 382.9 1268.1 381.2 1280.0 378.7C1291.9 376.1 1309.4 372.2 1324.5 369.9C1339.6 367.6 1355.8 366.2 1370.7 365.0C1385.6 363.8 1406.8 363.1 1414.0 362.7" fill="none" stroke="#111111" stroke-width="1.15" stroke-linejoin="round" shape-rendering="auto"/>
<path d="M3.0 550.0C6.2 549.1 15.4 546.1 22.0 544.5C28.6 542.9 35.8 541.5 42.6 540.5C49.4 539.5 56.4 539.5 62.6 538.3C68.8 537.0 73.8 534.2 80.1 533.0C86.3 531.8 96.0 531.4 100.1 531.0C104.1 530.6 100.8 532.0 104.4 530.5C108.0 529.0 116.2 525.4 121.8 522.2C127.4 519.1 132.0 515.1 138.1 511.6C144.2 508.1 151.6 504.0 158.3 501.1C165.0 498.2 171.8 496.3 178.5 494.3C185.2 492.3 191.4 491.7 198.8 488.9C206.2 486.1 215.9 480.5 222.8 477.4C229.7 474.3 233.4 474.7 240.1 470.3C246.8 465.9 254.9 457.7 263.2 451.0C271.5 444.3 281.1 437.6 290.0 430.2C298.9 422.8 309.0 414.0 316.6 406.3C324.2 398.6 329.8 390.7 335.4 383.8C341.0 376.9 345.4 370.8 350.4 365.0C355.4 359.2 361.1 353.8 365.5 348.8C369.9 343.8 373.8 339.0 377.0 335.0C380.2 331.0 383.0 326.8 384.8 324.7C386.6 322.6 385.6 324.2 387.7 322.7C389.8 321.2 393.8 317.5 397.3 315.6C400.8 313.7 404.9 312.3 408.9 311.2C412.9 310.1 417.2 308.8 421.4 308.9C425.6 309.0 430.5 311.5 433.9 311.8C437.3 312.1 437.8 310.7 441.6 310.8C445.5 310.9 451.9 312.2 457.0 312.7C462.1 313.1 466.9 313.2 472.4 313.5C477.8 313.8 485.5 314.0 489.7 314.6C493.9 315.2 494.2 315.5 497.4 316.9C500.6 318.2 504.5 321.0 509.0 322.7C513.5 324.4 520.2 325.6 524.4 327.0C528.6 328.4 531.1 329.3 534.0 330.8C536.9 332.3 538.5 334.3 541.7 336.2C544.9 338.1 549.4 339.9 553.2 342.0C557.1 344.1 559.8 345.9 564.8 348.7C569.8 351.5 577.5 355.9 583.5 358.7C589.5 361.5 596.0 363.6 600.8 365.4C605.6 367.1 609.2 367.9 612.4 369.2C615.6 370.5 616.8 371.3 620.0 373.1C623.2 374.9 627.3 378.0 631.5 379.9C635.7 381.8 640.5 383.2 645.0 384.7C649.5 386.2 654.0 387.4 658.5 388.9C663.0 390.3 667.2 392.5 672.0 393.4C676.8 394.3 681.9 393.9 687.4 394.3C692.9 394.7 699.9 395.2 704.7 395.7C709.5 396.2 711.7 396.8 716.2 397.2C720.7 397.6 726.8 397.0 731.6 397.8C736.4 398.6 740.5 400.5 745.0 401.8C749.5 403.1 754.0 404.2 758.5 405.6C763.0 407.0 767.2 408.1 772.0 410.0C776.8 411.9 782.3 415.0 787.4 416.8C792.5 418.6 798.0 419.8 802.8 421.0C807.6 422.2 812.0 423.5 816.2 423.9C820.4 424.3 823.3 423.9 827.8 423.5C832.3 423.1 838.1 422.1 843.2 421.6C848.3 421.1 853.5 420.6 858.6 420.4C863.7 420.2 868.9 420.3 874.0 420.4C879.1 420.5 884.3 420.9 889.4 421.0C894.5 421.1 901.1 421.1 904.8 421.0C908.5 420.9 908.1 420.2 911.5 420.4C914.9 420.6 920.8 421.1 925.0 422.0C929.2 422.9 932.8 424.2 936.6 425.8C940.5 427.4 944.2 429.4 948.1 431.6C952.0 433.9 955.9 436.4 959.7 439.3C963.6 442.2 967.4 445.7 971.2 448.9C975.1 452.1 978.9 455.4 982.8 458.5C986.6 461.6 990.4 464.8 994.3 467.2C998.1 469.6 1002.4 471.6 1005.9 473.0C1009.4 474.4 1011.3 474.9 1015.5 475.5C1019.7 476.1 1027.1 476.4 1030.9 476.3C1034.8 476.2 1035.4 475.9 1038.6 474.9C1041.8 473.9 1045.9 471.9 1050.1 470.1C1054.3 468.3 1059.4 466.6 1063.6 464.3C1067.8 462.1 1072.5 458.5 1075.2 456.6C1077.9 454.8 1077.3 454.7 1080.0 453.2C1082.7 451.7 1087.3 449.4 1091.5 447.4C1095.7 445.4 1100.8 443.0 1105.0 441.3C1109.2 439.6 1112.4 438.2 1116.6 437.4C1120.8 436.6 1125.5 436.7 1130.0 436.4C1134.5 436.1 1139.0 436.2 1143.5 435.5C1148.0 434.8 1152.2 433.4 1157.0 432.0C1161.8 430.6 1167.3 428.9 1172.4 426.8C1177.5 424.7 1182.7 421.8 1187.8 419.1C1192.9 416.4 1198.7 413.5 1203.2 410.8C1207.7 408.1 1210.5 406.2 1214.7 403.1C1218.9 400.0 1223.7 395.7 1228.2 392.0C1232.7 388.3 1237.5 384.6 1241.7 381.0C1245.9 377.4 1249.0 374.4 1253.2 370.4C1257.4 366.4 1262.2 361.7 1266.7 356.9C1271.2 352.1 1276.5 345.6 1280.0 341.5C1283.5 337.4 1283.3 337.2 1287.8 332.4C1292.3 327.6 1299.9 319.0 1307.0 312.6C1314.1 306.2 1324.8 298.4 1330.3 294.2C1335.8 290.0 1336.0 289.6 1340.0 287.2C1344.0 284.8 1349.9 281.9 1354.4 279.9C1358.9 277.9 1362.6 276.6 1367.1 275.4C1371.6 274.2 1376.4 273.9 1381.5 272.7C1386.6 271.5 1392.3 270.1 1397.8 268.2C1403.3 266.3 1411.8 262.4 1414.6 261.3" fill="none" stroke="#2962ff" stroke-width="1.1" stroke-linejoin="round" shape-rendering="auto"/>
<path d="M3.0 477.7C5.0 480.2 10.9 486.9 15.0 492.7C19.1 498.5 22.9 505.2 27.5 512.7C32.1 520.2 37.8 529.9 42.5 538.0C47.2 546.1 52.3 555.6 55.8 561.2C59.3 566.8 61.2 568.8 63.5 571.8C65.8 574.8 67.0 577.5 69.3 579.1C71.5 580.7 74.4 580.2 77.0 581.4C79.6 582.6 82.1 584.3 84.7 586.2C87.3 588.1 90.0 591.4 92.4 592.9C94.8 594.4 96.5 595.5 99.1 595.4C101.7 595.2 105.1 593.5 107.8 592.0C110.5 590.5 112.1 589.8 115.5 586.2C118.9 582.6 125.2 574.6 128.0 570.2C130.8 565.8 130.3 564.6 132.3 560.0C134.3 555.4 136.0 551.1 140.0 542.4C144.0 533.7 150.9 519.7 156.4 507.8C161.9 495.9 167.8 482.3 172.8 471.2C177.8 460.1 181.9 450.1 186.2 441.4C190.5 432.7 196.2 424.4 198.8 419.2C201.4 414.0 199.2 417.7 201.6 410.0C204.0 402.3 209.7 382.7 213.2 373.2C216.7 363.7 220.7 357.1 222.8 353.0C224.9 348.9 223.8 352.2 226.0 348.8C228.2 345.4 233.1 337.9 236.3 332.8C239.5 327.7 241.8 320.9 245.3 318.0C248.9 315.1 254.3 316.8 257.6 315.2C260.9 313.6 262.4 309.8 265.3 308.4C268.2 307.0 271.6 307.8 274.8 306.8C278.0 305.8 280.5 304.1 284.7 302.6C288.9 301.1 295.6 299.0 300.1 297.8C304.6 296.6 308.1 295.6 311.6 295.3C315.1 295.0 317.5 296.7 321.3 295.9C325.1 295.1 331.5 291.6 334.7 290.5C337.9 289.4 337.6 290.2 340.5 289.1C343.4 288.0 349.2 284.8 352.1 283.7C355.0 282.6 355.9 282.6 357.8 282.8C359.7 283.0 361.5 284.6 363.6 284.9C365.7 285.1 367.8 284.6 370.4 284.3C373.0 284.0 376.6 282.6 379.0 282.8C381.4 283.0 382.6 284.2 384.8 285.3C387.1 286.4 390.7 288.3 392.5 289.1C394.3 289.9 391.7 288.9 395.4 290.0C399.1 291.1 409.5 293.6 414.6 295.8C419.7 298.1 422.4 301.1 426.2 303.5C430.0 305.9 434.5 307.5 437.7 310.2C440.9 312.9 442.2 316.3 445.4 319.8C448.6 323.3 453.5 327.7 457.0 331.4C460.5 335.1 463.4 338.5 466.6 342.0C469.8 345.5 473.1 349.7 476.2 352.6C479.2 355.5 481.7 356.6 484.9 359.3C488.1 362.0 492.1 366.4 495.5 368.9C498.9 371.4 501.9 373.0 505.1 374.1C508.3 375.2 511.8 375.1 514.7 375.7C517.6 376.3 519.5 376.3 522.4 377.6C525.3 378.9 528.8 381.9 532.0 383.4C535.2 384.9 538.5 385.6 541.7 386.8C545.0 388.0 548.6 389.1 551.5 390.5C554.4 391.9 555.9 392.2 559.0 394.9C562.1 397.5 565.6 403.1 570.0 406.4C574.4 409.7 580.9 412.2 585.4 414.5C589.9 416.8 592.8 418.1 597.0 420.3C601.2 422.6 606.5 426.5 610.5 428.0C614.5 429.5 617.9 429.2 621.1 429.3C624.3 429.4 626.3 428.5 629.7 428.3C633.1 428.1 637.1 429.4 641.3 428.0C645.5 426.6 650.5 422.4 654.7 419.7C658.9 417.0 662.8 414.2 666.3 411.6C669.8 409.0 672.7 406.5 675.9 403.9C679.1 401.3 682.0 398.6 685.5 396.2C689.0 393.8 693.5 391.4 697.0 389.5C700.5 387.6 703.1 386.2 706.6 384.7C710.1 383.2 714.4 381.6 718.2 380.5C722.1 379.4 726.8 378.5 729.7 378.3C732.6 378.1 732.6 377.9 735.5 379.3C738.4 380.7 743.1 384.0 747.0 386.6C750.9 389.2 755.1 391.4 758.6 394.7C762.1 398.0 764.9 402.7 768.1 406.6C771.3 410.5 774.5 414.6 777.7 418.1C780.9 421.6 784.2 424.6 787.4 427.7C790.6 430.8 794.1 434.0 797.0 436.4C799.9 438.8 801.8 440.3 804.7 442.2C807.6 444.1 811.1 446.4 814.3 448.0C817.5 449.6 820.4 451.3 823.9 451.8C827.4 452.3 831.0 451.0 835.5 450.8C840.0 450.6 845.8 450.6 850.9 450.5C856.0 450.4 861.8 450.3 866.3 449.9C870.8 449.5 873.9 448.8 877.8 448.0C881.6 447.2 885.9 446.3 889.4 445.1C892.9 443.9 896.1 442.1 899.0 440.6C901.9 439.2 904.9 437.3 906.7 436.4C908.5 435.5 906.9 435.7 909.6 435.1C912.3 434.5 918.6 433.1 923.1 432.6C927.6 432.1 933.1 431.5 936.6 432.0C940.1 432.5 941.4 432.9 944.3 435.4C947.2 437.9 950.7 442.7 953.9 447.0C957.1 451.3 960.3 456.6 963.5 461.4C966.7 466.2 969.9 471.1 973.1 475.9C976.3 480.7 979.6 485.8 982.8 490.3C986.0 494.8 989.2 499.4 992.4 502.8C995.6 506.2 998.8 508.2 1002.0 510.5C1005.2 512.8 1008.4 515.1 1011.6 516.3C1014.8 517.5 1018.1 517.4 1021.3 517.8C1024.5 518.2 1028.3 518.7 1030.9 518.6C1033.5 518.5 1034.1 519.0 1036.7 517.3C1039.3 515.6 1042.5 512.3 1046.3 508.6C1050.1 504.9 1055.9 499.9 1059.8 495.1C1063.7 490.3 1066.2 485.8 1069.4 479.7C1072.6 473.6 1075.8 466.0 1079.0 458.5C1082.2 451.0 1086.7 439.2 1088.6 434.5C1090.5 429.8 1089.1 433.7 1090.6 430.0C1092.1 426.3 1094.7 419.2 1097.4 412.4C1100.1 405.6 1103.8 395.7 1107.0 389.0C1110.2 382.3 1113.7 376.5 1116.6 372.0C1119.5 367.5 1121.9 365.1 1124.3 362.0C1126.7 358.9 1128.4 355.3 1131.0 353.6C1133.6 351.9 1136.7 352.9 1139.7 351.8C1142.8 350.7 1146.1 348.1 1149.3 347.0C1152.5 345.9 1155.5 345.5 1159.0 345.1C1162.5 344.7 1166.7 345.1 1170.5 344.5C1174.3 343.9 1178.2 342.2 1182.1 341.6C1185.9 341.0 1190.4 341.2 1193.6 340.8C1196.8 340.4 1198.4 340.6 1201.3 338.9C1204.2 337.2 1207.7 333.3 1210.9 330.6C1214.1 327.9 1218.0 325.3 1220.6 322.9C1223.1 320.5 1223.3 318.7 1226.2 316.1C1229.1 313.5 1234.2 310.6 1237.7 307.4C1241.2 304.2 1244.2 300.2 1247.4 296.8C1250.6 293.4 1253.6 289.4 1257.0 287.2C1260.4 285.0 1264.1 285.9 1267.6 283.7C1271.1 281.4 1274.8 276.5 1278.2 273.7C1281.6 270.9 1284.3 269.4 1287.8 267.0C1291.3 264.6 1295.4 262.0 1299.3 259.3C1303.2 256.6 1307.4 252.9 1310.9 250.6C1314.4 248.2 1317.0 247.1 1320.5 245.2C1324.0 243.3 1329.2 240.6 1332.1 239.1C1335.0 237.6 1335.9 236.5 1337.8 236.2C1339.7 235.9 1341.0 238.0 1343.6 237.2C1346.2 236.4 1350.0 232.8 1353.2 231.4C1356.4 230.0 1359.7 229.8 1362.9 228.5C1366.1 227.2 1369.5 225.6 1372.5 223.7C1375.5 221.8 1378.9 218.4 1380.9 217.0C1383.0 215.6 1382.9 215.3 1384.8 215.2C1386.7 215.0 1389.4 216.4 1392.5 216.1C1395.6 215.8 1399.9 213.8 1403.2 213.1C1406.5 212.4 1410.7 211.9 1412.2 211.7" fill="none" stroke="#f23645" stroke-width="1.1" stroke-linejoin="round" shape-rendering="auto"/>
<g id="candles"><rect x="4" y="550" width="1" height="52" fill="#72727a"/><rect x="2" y="562" width="5" height="31" fill="#5e1109"/><rect x="3" y="563" width="3" height="29" fill="#dc5440"/><rect x="10" y="576" width="1" height="31" fill="#72727a"/><rect x="8" y="592" width="5" height="2" fill="#1d5a38"/><rect x="16" y="580" width="1" height="43" fill="#72727a"/><rect x="14" y="582" width="5" height="11" fill="#1d5a38"/><rect x="15" y="583" width="3" height="9" fill="#6fa988"/><rect x="22" y="572" width="1" height="18" fill="#72727a"/><rect x="20" y="581" width="5" height="4" fill="#5e1109"/><rect x="21" y="582" width="3" height="2" fill="#dc5440"/><rect x="28" y="579" width="1" height="24" fill="#72727a"/><rect x="26" y="583" width="5" height="12" fill="#5e1109"/><rect x="27" y="584" width="3" height="10" fill="#dc5440"/><rect x="34" y="575" width="1" height="39" fill="#72727a"/><rect x="32" y="595" width="5" height="19" fill="#5e1109"/><rect x="33" y="596" width="3" height="17" fill="#dc5440"/><rect x="39" y="597" width="1" height="29" fill="#72727a"/><rect x="37" y="614" width="5" height="4" fill="#5e1109"/><rect x="38" y="615" width="3" height="2" fill="#dc5440"/><rect x="45" y="607" width="1" height="34" fill="#72727a"/><rect x="43" y="618" width="5" height="22" fill="#5e1109"/><rect x="44" y="619" width="3" height="20" fill="#dc5440"/><rect x="51" y="621" width="1" height="24" fill="#72727a"/><rect x="49" y="627" width="5" height="13" fill="#1d5a38"/><rect x="50" y="628" width="3" height="11" fill="#6fa988"/><rect x="57" y="601" width="1" height="48" fill="#72727a"/><rect x="55" y="609" width="5" height="18" fill="#1d5a38"/><rect x="56" y="610" width="3" height="16" fill="#6fa988"/><rect x="63" y="577" width="1" height="39" fill="#72727a"/><rect x="61" y="592" width="5" height="17" fill="#1d5a38"/><rect x="62" y="593" width="3" height="15" fill="#6fa988"/><rect x="69" y="587" width="1" height="16" fill="#72727a"/><rect x="67" y="592" width="5" height="2" fill="#5e1109"/><rect x="75" y="556" width="1" height="39" fill="#72727a"/><rect x="73" y="557" width="5" height="37" fill="#1d5a38"/><rect x="74" y="558" width="3" height="35" fill="#6fa988"/><rect x="81" y="553" width="1" height="23" fill="#72727a"/><rect x="79" y="557" width="5" height="18" fill="#5e1109"/><rect x="80" y="558" width="3" height="16" fill="#dc5440"/><rect x="87" y="565" width="1" height="69" fill="#72727a"/><rect x="85" y="575" width="5" height="59" fill="#5e1109"/><rect x="86" y="576" width="3" height="57" fill="#dc5440"/><rect x="93" y="614" width="1" height="26" fill="#72727a"/><rect x="91" y="633" width="5" height="1" fill="#5e1109"/><rect x="98" y="594" width="1" height="42" fill="#72727a"/><rect x="96" y="605" width="5" height="29" fill="#1d5a38"/><rect x="97" y="606" width="3" height="27" fill="#6fa988"/><rect x="104" y="531" width="1" height="75" fill="#72727a"/><rect x="102" y="537" width="5" height="69" fill="#1d5a38"/><rect x="103" y="538" width="3" height="67" fill="#6fa988"/><rect x="110" y="451" width="1" height="87" fill="#72727a"/><rect x="108" y="455" width="5" height="82" fill="#1d5a38"/><rect x="109" y="456" width="3" height="80" fill="#6fa988"/><rect x="116" y="452" width="1" height="34" fill="#72727a"/><rect x="114" y="454" width="5" height="18" fill="#5e1109"/><rect x="115" y="455" width="3" height="16" fill="#dc5440"/><rect x="122" y="411" width="1" height="92" fill="#72727a"/><rect x="120" y="445" width="5" height="27" fill="#1d5a38"/><rect x="121" y="446" width="3" height="25" fill="#6fa988"/><rect x="128" y="418" width="1" height="46" fill="#72727a"/><rect x="126" y="440" width="5" height="5" fill="#1d5a38"/><rect x="127" y="441" width="3" height="3" fill="#6fa988"/><rect x="134" y="317" width="1" height="128" fill="#72727a"/><rect x="132" y="320" width="5" height="120" fill="#1d5a38"/><rect x="133" y="321" width="3" height="118" fill="#6fa988"/><rect x="140" y="280" width="1" height="79" fill="#72727a"/><rect x="138" y="318" width="5" height="19" fill="#5e1109"/><rect x="139" y="319" width="3" height="17" fill="#dc5440"/><rect x="146" y="325" width="1" height="89" fill="#72727a"/><rect x="144" y="337" width="5" height="69" fill="#5e1109"/><rect x="145" y="338" width="3" height="67" fill="#dc5440"/><rect x="152" y="336" width="1" height="79" fill="#72727a"/><rect x="150" y="352" width="5" height="54" fill="#1d5a38"/><rect x="151" y="353" width="3" height="52" fill="#6fa988"/><rect x="157" y="292" width="1" height="69" fill="#72727a"/><rect x="155" y="311" width="5" height="42" fill="#1d5a38"/><rect x="156" y="312" width="3" height="40" fill="#6fa988"/><rect x="163" y="293" width="1" height="49" fill="#72727a"/><rect x="161" y="311" width="5" height="29" fill="#5e1109"/><rect x="162" y="312" width="3" height="27" fill="#dc5440"/><rect x="169" y="333" width="1" height="65" fill="#72727a"/><rect x="167" y="337" width="5" height="40" fill="#5e1109"/><rect x="168" y="338" width="3" height="38" fill="#dc5440"/><rect x="175" y="342" width="1" height="47" fill="#72727a"/><rect x="173" y="346" width="5" height="31" fill="#1d5a38"/><rect x="174" y="347" width="3" height="29" fill="#6fa988"/><rect x="181" y="344" width="1" height="28" fill="#72727a"/><rect x="179" y="346" width="5" height="20" fill="#5e1109"/><rect x="180" y="347" width="3" height="18" fill="#dc5440"/><rect x="187" y="326" width="1" height="51" fill="#72727a"/><rect x="185" y="333" width="5" height="31" fill="#1d5a38"/><rect x="186" y="334" width="3" height="29" fill="#6fa988"/><rect x="193" y="320" width="1" height="38" fill="#72727a"/><rect x="191" y="333" width="5" height="23" fill="#5e1109"/><rect x="192" y="334" width="3" height="21" fill="#dc5440"/><rect x="199" y="315" width="1" height="73" fill="#72727a"/><rect x="197" y="326" width="5" height="27" fill="#1d5a38"/><rect x="198" y="327" width="3" height="25" fill="#6fa988"/><rect x="205" y="253" width="1" height="85" fill="#72727a"/><rect x="203" y="261" width="5" height="65" fill="#1d5a38"/><rect x="204" y="262" width="3" height="63" fill="#6fa988"/><rect x="211" y="240" width="1" height="40" fill="#72727a"/><rect x="209" y="261" width="5" height="1" fill="#5e1109"/><rect x="216" y="259" width="1" height="37" fill="#72727a"/><rect x="214" y="261" width="5" height="23" fill="#5e1109"/><rect x="215" y="262" width="3" height="21" fill="#dc5440"/><rect x="222" y="282" width="1" height="4" fill="#72727a"/><rect x="220" y="284" width="5" height="2" fill="#5e1109"/><rect x="228" y="285" width="1" height="46" fill="#72727a"/><rect x="226" y="285" width="5" height="31" fill="#5e1109"/><rect x="227" y="286" width="3" height="29" fill="#dc5440"/><rect x="234" y="285" width="1" height="33" fill="#72727a"/><rect x="232" y="292" width="5" height="24" fill="#1d5a38"/><rect x="233" y="293" width="3" height="22" fill="#6fa988"/><rect x="240" y="247" width="1" height="48" fill="#72727a"/><rect x="238" y="272" width="5" height="20" fill="#1d5a38"/><rect x="239" y="273" width="3" height="18" fill="#6fa988"/><rect x="246" y="210" width="1" height="63" fill="#72727a"/><rect x="244" y="226" width="5" height="46" fill="#1d5a38"/><rect x="245" y="227" width="3" height="44" fill="#6fa988"/><rect x="252" y="213" width="1" height="98" fill="#72727a"/><rect x="250" y="226" width="5" height="66" fill="#5e1109"/><rect x="251" y="227" width="3" height="64" fill="#dc5440"/><rect x="258" y="271" width="1" height="61" fill="#72727a"/><rect x="256" y="291" width="5" height="17" fill="#5e1109"/><rect x="257" y="292" width="3" height="15" fill="#dc5440"/><rect x="264" y="277" width="1" height="36" fill="#72727a"/><rect x="262" y="290" width="5" height="17" fill="#1d5a38"/><rect x="263" y="291" width="3" height="15" fill="#6fa988"/><rect x="270" y="283" width="1" height="70" fill="#72727a"/><rect x="268" y="290" width="5" height="18" fill="#5e1109"/><rect x="269" y="291" width="3" height="16" fill="#dc5440"/><rect x="275" y="276" width="1" height="39" fill="#72727a"/><rect x="273" y="290" width="5" height="18" fill="#1d5a38"/><rect x="274" y="291" width="3" height="16" fill="#6fa988"/><rect x="281" y="288" width="1" height="60" fill="#72727a"/><rect x="279" y="290" width="5" height="40" fill="#5e1109"/><rect x="280" y="291" width="3" height="38" fill="#dc5440"/><rect x="287" y="314" width="1" height="30" fill="#72727a"/><rect x="285" y="318" width="5" height="12" fill="#1d5a38"/><rect x="286" y="319" width="3" height="10" fill="#6fa988"/><rect x="293" y="291" width="1" height="50" fill="#72727a"/><rect x="291" y="304" width="5" height="14" fill="#1d5a38"/><rect x="292" y="305" width="3" height="12" fill="#6fa988"/><rect x="299" y="280" width="1" height="48" fill="#72727a"/><rect x="297" y="304" width="5" height="12" fill="#5e1109"/><rect x="298" y="305" width="3" height="10" fill="#dc5440"/><rect x="305" y="292" width="1" height="51" fill="#72727a"/><rect x="303" y="317" width="5" height="3" fill="#5e1109"/><rect x="304" y="318" width="3" height="1" fill="#dc5440"/><rect x="311" y="307" width="1" height="34" fill="#72727a"/><rect x="309" y="317" width="5" height="3" fill="#1d5a38"/><rect x="310" y="318" width="3" height="1" fill="#6fa988"/><rect x="317" y="287" width="1" height="52" fill="#72727a"/><rect x="315" y="314" width="5" height="18" fill="#5e1109"/><rect x="316" y="315" width="3" height="16" fill="#dc5440"/><rect x="323" y="263" width="1" height="73" fill="#72727a"/><rect x="321" y="268" width="5" height="64" fill="#1d5a38"/><rect x="322" y="269" width="3" height="62" fill="#6fa988"/><rect x="329" y="221" width="1" height="61" fill="#72727a"/><rect x="327" y="221" width="5" height="47" fill="#1d5a38"/><rect x="328" y="222" width="3" height="45" fill="#6fa988"/><rect x="334" y="152" width="1" height="90" fill="#72727a"/><rect x="332" y="208" width="5" height="13" fill="#1d5a38"/><rect x="333" y="209" width="3" height="11" fill="#6fa988"/><rect x="340" y="203" width="1" height="95" fill="#72727a"/><rect x="338" y="208" width="5" height="61" fill="#5e1109"/><rect x="339" y="209" width="3" height="59" fill="#dc5440"/><rect x="346" y="245" width="1" height="27" fill="#72727a"/><rect x="344" y="262" width="5" height="6" fill="#1d5a38"/><rect x="345" y="263" width="3" height="4" fill="#6fa988"/><rect x="352" y="231" width="1" height="32" fill="#72727a"/><rect x="350" y="237" width="5" height="24" fill="#1d5a38"/><rect x="351" y="238" width="3" height="22" fill="#6fa988"/><rect x="358" y="211" width="1" height="48" fill="#72727a"/><rect x="356" y="237" width="5" height="8" fill="#5e1109"/><rect x="357" y="238" width="3" height="6" fill="#dc5440"/><rect x="364" y="224" width="1" height="54" fill="#72727a"/><rect x="362" y="245" width="5" height="26" fill="#5e1109"/><rect x="363" y="246" width="3" height="24" fill="#dc5440"/><rect x="370" y="257" width="1" height="39" fill="#72727a"/><rect x="368" y="272" width="5" height="6" fill="#5e1109"/><rect x="369" y="273" width="3" height="4" fill="#dc5440"/><rect x="376" y="258" width="1" height="26" fill="#72727a"/><rect x="374" y="270" width="5" height="10" fill="#1d5a38"/><rect x="375" y="271" width="3" height="8" fill="#6fa988"/><rect x="382" y="266" width="1" height="57" fill="#72727a"/><rect x="380" y="270" width="5" height="50" fill="#5e1109"/><rect x="381" y="271" width="3" height="48" fill="#dc5440"/><rect x="388" y="311" width="1" height="32" fill="#72727a"/><rect x="386" y="319" width="5" height="13" fill="#5e1109"/><rect x="387" y="320" width="3" height="11" fill="#dc5440"/><rect x="393" y="323" width="1" height="61" fill="#72727a"/><rect x="391" y="332" width="5" height="42" fill="#5e1109"/><rect x="392" y="333" width="3" height="40" fill="#dc5440"/><rect x="399" y="326" width="1" height="54" fill="#72727a"/><rect x="397" y="340" width="5" height="34" fill="#1d5a38"/><rect x="398" y="341" width="3" height="32" fill="#6fa988"/><rect x="405" y="329" width="1" height="25" fill="#72727a"/><rect x="403" y="338" width="5" height="15" fill="#5e1109"/><rect x="404" y="339" width="3" height="13" fill="#dc5440"/><rect x="411" y="338" width="1" height="42" fill="#72727a"/><rect x="409" y="344" width="5" height="6" fill="#1d5a38"/><rect x="410" y="345" width="3" height="4" fill="#6fa988"/><rect x="417" y="324" width="1" height="52" fill="#72727a"/><rect x="415" y="344" width="5" height="31" fill="#5e1109"/><rect x="416" y="345" width="3" height="29" fill="#dc5440"/><rect x="423" y="361" width="1" height="46" fill="#72727a"/><rect x="421" y="375" width="5" height="31" fill="#5e1109"/><rect x="422" y="376" width="3" height="29" fill="#dc5440"/><rect x="429" y="375" width="1" height="36" fill="#72727a"/><rect x="427" y="395" width="5" height="11" fill="#1d5a38"/><rect x="428" y="396" width="3" height="9" fill="#6fa988"/><rect x="435" y="388" width="1" height="18" fill="#72727a"/><rect x="433" y="395" width="5" height="4" fill="#5e1109"/><rect x="434" y="396" width="3" height="2" fill="#dc5440"/><rect x="441" y="364" width="1" height="55" fill="#72727a"/><rect x="439" y="373" width="5" height="26" fill="#1d5a38"/><rect x="440" y="374" width="3" height="24" fill="#6fa988"/><rect x="447" y="344" width="1" height="36" fill="#72727a"/><rect x="445" y="366" width="5" height="7" fill="#1d5a38"/><rect x="446" y="367" width="3" height="5" fill="#6fa988"/><rect x="452" y="328" width="1" height="54" fill="#72727a"/><rect x="450" y="340" width="5" height="25" fill="#1d5a38"/><rect x="451" y="341" width="3" height="23" fill="#6fa988"/><rect x="458" y="328" width="1" height="65" fill="#72727a"/><rect x="456" y="340" width="5" height="52" fill="#5e1109"/><rect x="457" y="341" width="3" height="50" fill="#dc5440"/><rect x="464" y="363" width="1" height="45" fill="#72727a"/><rect x="462" y="368" width="5" height="23" fill="#1d5a38"/><rect x="463" y="369" width="3" height="21" fill="#6fa988"/><rect x="470" y="358" width="1" height="22" fill="#72727a"/><rect x="468" y="364" width="5" height="4" fill="#1d5a38"/><rect x="469" y="365" width="3" height="2" fill="#6fa988"/><rect x="476" y="352" width="1" height="54" fill="#72727a"/><rect x="474" y="364" width="5" height="42" fill="#5e1109"/><rect x="475" y="365" width="3" height="40" fill="#dc5440"/><rect x="482" y="351" width="1" height="56" fill="#72727a"/><rect x="480" y="360" width="5" height="46" fill="#1d5a38"/><rect x="481" y="361" width="3" height="44" fill="#6fa988"/><rect x="488" y="346" width="1" height="29" fill="#72727a"/><rect x="486" y="360" width="5" height="9" fill="#5e1109"/><rect x="487" y="361" width="3" height="7" fill="#dc5440"/><rect x="494" y="357" width="1" height="32" fill="#72727a"/><rect x="492" y="370" width="5" height="5" fill="#5e1109"/><rect x="493" y="371" width="3" height="3" fill="#dc5440"/><rect x="500" y="350" width="1" height="56" fill="#72727a"/><rect x="498" y="375" width="5" height="25" fill="#5e1109"/><rect x="499" y="376" width="3" height="23" fill="#dc5440"/><rect x="506" y="369" width="1" height="35" fill="#72727a"/><rect x="504" y="400" width="5" height="4" fill="#5e1109"/><rect x="505" y="401" width="3" height="2" fill="#dc5440"/><rect x="512" y="370" width="1" height="62" fill="#72727a"/><rect x="510" y="379" width="5" height="23" fill="#1d5a38"/><rect x="511" y="380" width="3" height="21" fill="#6fa988"/><rect x="517" y="356" width="1" height="25" fill="#72727a"/><rect x="515" y="375" width="5" height="1" fill="#5e1109"/><rect x="523" y="372" width="1" height="20" fill="#72727a"/><rect x="521" y="374" width="5" height="16" fill="#5e1109"/><rect x="522" y="375" width="3" height="14" fill="#dc5440"/><rect x="529" y="376" width="1" height="48" fill="#72727a"/><rect x="527" y="387" width="5" height="28" fill="#5e1109"/><rect x="528" y="388" width="3" height="26" fill="#dc5440"/><rect x="535" y="407" width="1" height="36" fill="#72727a"/><rect x="533" y="415" width="5" height="5" fill="#5e1109"/><rect x="534" y="416" width="3" height="3" fill="#dc5440"/><rect x="541" y="415" width="1" height="39" fill="#72727a"/><rect x="539" y="420" width="5" height="33" fill="#5e1109"/><rect x="540" y="421" width="3" height="31" fill="#dc5440"/><rect x="547" y="411" width="1" height="48" fill="#72727a"/><rect x="545" y="441" width="5" height="12" fill="#1d5a38"/><rect x="546" y="442" width="3" height="10" fill="#6fa988"/><rect x="553" y="418" width="1" height="23" fill="#72727a"/><rect x="551" y="438" width="5" height="2" fill="#1d5a38"/><rect x="559" y="423" width="1" height="35" fill="#72727a"/><rect x="557" y="438" width="5" height="16" fill="#5e1109"/><rect x="558" y="439" width="3" height="14" fill="#dc5440"/><rect x="565" y="447" width="1" height="26" fill="#72727a"/><rect x="563" y="454" width="5" height="10" fill="#5e1109"/><rect x="564" y="455" width="3" height="8" fill="#dc5440"/><rect x="571" y="454" width="1" height="36" fill="#72727a"/><rect x="569" y="464" width="5" height="1" fill="#5e1109"/><rect x="576" y="437" width="1" height="40" fill="#72727a"/><rect x="574" y="443" width="5" height="20" fill="#1d5a38"/><rect x="575" y="444" width="3" height="18" fill="#6fa988"/><rect x="582" y="422" width="1" height="37" fill="#72727a"/><rect x="580" y="440" width="5" height="4" fill="#1d5a38"/><rect x="581" y="441" width="3" height="2" fill="#6fa988"/><rect x="588" y="423" width="1" height="19" fill="#72727a"/><rect x="586" y="432" width="5" height="8" fill="#1d5a38"/><rect x="587" y="433" width="3" height="6" fill="#6fa988"/><rect x="594" y="415" width="1" height="38" fill="#72727a"/><rect x="592" y="432" width="5" height="20" fill="#5e1109"/><rect x="593" y="433" width="3" height="18" fill="#dc5440"/><rect x="600" y="428" width="1" height="45" fill="#72727a"/><rect x="598" y="452" width="5" height="7" fill="#5e1109"/><rect x="599" y="453" width="3" height="5" fill="#dc5440"/><rect x="606" y="415" width="1" height="45" fill="#72727a"/><rect x="604" y="433" width="5" height="26" fill="#1d5a38"/><rect x="605" y="434" width="3" height="24" fill="#6fa988"/><rect x="612" y="427" width="1" height="28" fill="#72727a"/><rect x="610" y="432" width="5" height="1" fill="#5e1109"/><rect x="618" y="409" width="1" height="25" fill="#72727a"/><rect x="616" y="420" width="5" height="12" fill="#1d5a38"/><rect x="617" y="421" width="3" height="10" fill="#6fa988"/><rect x="624" y="370" width="1" height="51" fill="#72727a"/><rect x="622" y="376" width="5" height="44" fill="#1d5a38"/><rect x="623" y="377" width="3" height="42" fill="#6fa988"/><rect x="630" y="363" width="1" height="20" fill="#72727a"/><rect x="628" y="370" width="5" height="6" fill="#1d5a38"/><rect x="629" y="371" width="3" height="4" fill="#6fa988"/><rect x="635" y="363" width="1" height="23" fill="#72727a"/><rect x="633" y="370" width="5" height="10" fill="#5e1109"/><rect x="634" y="371" width="3" height="8" fill="#dc5440"/><rect x="641" y="371" width="1" height="24" fill="#72727a"/><rect x="639" y="378" width="5" height="3" fill="#5e1109"/><rect x="640" y="379" width="3" height="1" fill="#dc5440"/><rect x="647" y="326" width="1" height="56" fill="#72727a"/><rect x="645" y="336" width="5" height="45" fill="#1d5a38"/><rect x="646" y="337" width="3" height="43" fill="#6fa988"/><rect x="653" y="332" width="1" height="20" fill="#72727a"/><rect x="651" y="336" width="5" height="5" fill="#5e1109"/><rect x="652" y="337" width="3" height="3" fill="#dc5440"/><rect x="659" y="321" width="1" height="39" fill="#72727a"/><rect x="657" y="340" width="5" height="14" fill="#5e1109"/><rect x="658" y="341" width="3" height="12" fill="#dc5440"/><rect x="665" y="345" width="1" height="30" fill="#72727a"/><rect x="663" y="354" width="5" height="15" fill="#5e1109"/><rect x="664" y="355" width="3" height="13" fill="#dc5440"/><rect x="671" y="356" width="1" height="25" fill="#72727a"/><rect x="669" y="367" width="5" height="13" fill="#5e1109"/><rect x="670" y="368" width="3" height="11" fill="#dc5440"/><rect x="677" y="360" width="1" height="24" fill="#72727a"/><rect x="675" y="361" width="5" height="19" fill="#1d5a38"/><rect x="676" y="362" width="3" height="17" fill="#6fa988"/><rect x="683" y="337" width="1" height="29" fill="#72727a"/><rect x="681" y="350" width="5" height="11" fill="#1d5a38"/><rect x="682" y="351" width="3" height="9" fill="#6fa988"/><rect x="689" y="330" width="1" height="71" fill="#72727a"/><rect x="687" y="347" width="5" height="49" fill="#5e1109"/><rect x="688" y="348" width="3" height="47" fill="#dc5440"/><rect x="694" y="364" width="1" height="32" fill="#72727a"/><rect x="692" y="371" width="5" height="24" fill="#1d5a38"/><rect x="693" y="372" width="3" height="22" fill="#6fa988"/><rect x="700" y="348" width="1" height="38" fill="#72727a"/><rect x="698" y="360" width="5" height="11" fill="#1d5a38"/><rect x="699" y="361" width="3" height="9" fill="#6fa988"/><rect x="706" y="359" width="1" height="45" fill="#72727a"/><rect x="704" y="360" width="5" height="28" fill="#5e1109"/><rect x="705" y="361" width="3" height="26" fill="#dc5440"/><rect x="712" y="379" width="1" height="38" fill="#72727a"/><rect x="710" y="388" width="5" height="29" fill="#5e1109"/><rect x="711" y="389" width="3" height="27" fill="#dc5440"/><rect x="718" y="408" width="1" height="16" fill="#72727a"/><rect x="716" y="417" width="5" height="1" fill="#1d5a38"/><rect x="724" y="393" width="1" height="39" fill="#72727a"/><rect x="722" y="401" width="5" height="16" fill="#1d5a38"/><rect x="723" y="402" width="3" height="14" fill="#6fa988"/><rect x="730" y="394" width="1" height="27" fill="#72727a"/><rect x="728" y="401" width="5" height="11" fill="#5e1109"/><rect x="729" y="402" width="3" height="9" fill="#dc5440"/><rect x="736" y="409" width="1" height="28" fill="#72727a"/><rect x="734" y="412" width="5" height="21" fill="#5e1109"/><rect x="735" y="413" width="3" height="19" fill="#dc5440"/><rect x="742" y="420" width="1" height="32" fill="#72727a"/><rect x="740" y="433" width="5" height="18" fill="#5e1109"/><rect x="741" y="434" width="3" height="16" fill="#dc5440"/><rect x="748" y="424" width="1" height="33" fill="#72727a"/><rect x="746" y="451" width="5" height="5" fill="#5e1109"/><rect x="747" y="452" width="3" height="3" fill="#dc5440"/><rect x="753" y="440" width="1" height="18" fill="#72727a"/><rect x="751" y="454" width="5" height="2" fill="#1d5a38"/><rect x="759" y="445" width="1" height="28" fill="#72727a"/><rect x="757" y="454" width="5" height="11" fill="#5e1109"/><rect x="758" y="455" width="3" height="9" fill="#dc5440"/><rect x="765" y="457" width="1" height="27" fill="#72727a"/><rect x="763" y="466" width="5" height="10" fill="#5e1109"/><rect x="764" y="467" width="3" height="8" fill="#dc5440"/><rect x="771" y="466" width="1" height="27" fill="#72727a"/><rect x="769" y="475" width="5" height="17" fill="#5e1109"/><rect x="770" y="476" width="3" height="15" fill="#dc5440"/><rect x="777" y="472" width="1" height="32" fill="#72727a"/><rect x="775" y="492" width="5" height="4" fill="#5e1109"/><rect x="776" y="493" width="3" height="2" fill="#dc5440"/><rect x="783" y="483" width="1" height="18" fill="#72727a"/><rect x="781" y="497" width="5" height="1" fill="#5e1109"/><rect x="789" y="480" width="1" height="25" fill="#72727a"/><rect x="787" y="488" width="5" height="9" fill="#1d5a38"/><rect x="788" y="489" width="3" height="7" fill="#6fa988"/><rect x="795" y="470" width="1" height="27" fill="#72727a"/><rect x="793" y="483" width="5" height="5" fill="#1d5a38"/><rect x="794" y="484" width="3" height="3" fill="#6fa988"/><rect x="801" y="441" width="1" height="43" fill="#72727a"/><rect x="799" y="450" width="5" height="33" fill="#1d5a38"/><rect x="800" y="451" width="3" height="31" fill="#6fa988"/><rect x="807" y="436" width="1" height="20" fill="#72727a"/><rect x="805" y="447" width="5" height="3" fill="#1d5a38"/><rect x="806" y="448" width="3" height="1" fill="#6fa988"/><rect x="812" y="437" width="1" height="34" fill="#72727a"/><rect x="810" y="448" width="5" height="4" fill="#5e1109"/><rect x="811" y="449" width="3" height="2" fill="#dc5440"/><rect x="818" y="431" width="1" height="23" fill="#72727a"/><rect x="816" y="442" width="5" height="10" fill="#1d5a38"/><rect x="817" y="443" width="3" height="8" fill="#6fa988"/><rect x="824" y="409" width="1" height="43" fill="#72727a"/><rect x="822" y="411" width="5" height="33" fill="#1d5a38"/><rect x="823" y="412" width="3" height="31" fill="#6fa988"/><rect x="830" y="390" width="1" height="25" fill="#72727a"/><rect x="828" y="402" width="5" height="9" fill="#1d5a38"/><rect x="829" y="403" width="3" height="7" fill="#6fa988"/><rect x="836" y="392" width="1" height="15" fill="#72727a"/><rect x="834" y="402" width="5" height="5" fill="#5e1109"/><rect x="835" y="403" width="3" height="3" fill="#dc5440"/><rect x="842" y="383" width="1" height="33" fill="#72727a"/><rect x="840" y="407" width="5" height="1" fill="#5e1109"/><rect x="848" y="394" width="1" height="17" fill="#72727a"/><rect x="846" y="406" width="5" height="4" fill="#5e1109"/><rect x="847" y="407" width="3" height="2" fill="#dc5440"/><rect x="854" y="408" width="1" height="25" fill="#72727a"/><rect x="852" y="410" width="5" height="22" fill="#5e1109"/><rect x="853" y="411" width="3" height="20" fill="#dc5440"/><rect x="860" y="425" width="1" height="25" fill="#72727a"/><rect x="858" y="432" width="5" height="16" fill="#5e1109"/><rect x="859" y="433" width="3" height="14" fill="#dc5440"/><rect x="866" y="435" width="1" height="14" fill="#72727a"/><rect x="864" y="443" width="5" height="5" fill="#1d5a38"/><rect x="865" y="444" width="3" height="3" fill="#6fa988"/><rect x="871" y="424" width="1" height="22" fill="#72727a"/><rect x="869" y="443" width="5" height="3" fill="#5e1109"/><rect x="870" y="444" width="3" height="1" fill="#dc5440"/><rect x="877" y="423" width="1" height="25" fill="#72727a"/><rect x="875" y="439" width="5" height="5" fill="#1d5a38"/><rect x="876" y="440" width="3" height="3" fill="#6fa988"/><rect x="883" y="434" width="1" height="30" fill="#72727a"/><rect x="881" y="440" width="5" height="18" fill="#5e1109"/><rect x="882" y="441" width="3" height="16" fill="#dc5440"/><rect x="889" y="449" width="1" height="18" fill="#72727a"/><rect x="887" y="456" width="5" height="7" fill="#5e1109"/><rect x="888" y="457" width="3" height="5" fill="#dc5440"/><rect x="895" y="455" width="1" height="21" fill="#72727a"/><rect x="893" y="460" width="5" height="2" fill="#1d5a38"/><rect x="901" y="423" width="1" height="37" fill="#72727a"/><rect x="899" y="435" width="5" height="25" fill="#1d5a38"/><rect x="900" y="436" width="3" height="23" fill="#6fa988"/><rect x="907" y="416" width="1" height="20" fill="#72727a"/><rect x="905" y="418" width="5" height="17" fill="#1d5a38"/><rect x="906" y="419" width="3" height="15" fill="#6fa988"/><rect x="913" y="411" width="1" height="13" fill="#72727a"/><rect x="911" y="418" width="5" height="4" fill="#5e1109"/><rect x="912" y="419" width="3" height="2" fill="#dc5440"/><rect x="919" y="393" width="1" height="34" fill="#72727a"/><rect x="917" y="421" width="5" height="1" fill="#5e1109"/><rect x="925" y="421" width="1" height="32" fill="#72727a"/><rect x="923" y="424" width="5" height="19" fill="#5e1109"/><rect x="924" y="425" width="3" height="17" fill="#dc5440"/><rect x="930" y="426" width="1" height="18" fill="#72727a"/><rect x="928" y="434" width="5" height="10" fill="#1d5a38"/><rect x="929" y="435" width="3" height="8" fill="#6fa988"/><rect x="936" y="430" width="1" height="20" fill="#72727a"/><rect x="934" y="432" width="5" height="18" fill="#5e1109"/><rect x="935" y="433" width="3" height="16" fill="#dc5440"/><rect x="942" y="447" width="1" height="31" fill="#72727a"/><rect x="940" y="448" width="5" height="29" fill="#5e1109"/><rect x="941" y="449" width="3" height="27" fill="#dc5440"/><rect x="948" y="471" width="1" height="55" fill="#72727a"/><rect x="946" y="477" width="5" height="45" fill="#5e1109"/><rect x="947" y="478" width="3" height="43" fill="#dc5440"/><rect x="954" y="514" width="1" height="39" fill="#72727a"/><rect x="952" y="522" width="5" height="19" fill="#5e1109"/><rect x="953" y="523" width="3" height="17" fill="#dc5440"/><rect x="960" y="514" width="1" height="60" fill="#72727a"/><rect x="958" y="540" width="5" height="31" fill="#5e1109"/><rect x="959" y="541" width="3" height="29" fill="#dc5440"/><rect x="966" y="568" width="1" height="40" fill="#72727a"/><rect x="964" y="570" width="5" height="37" fill="#5e1109"/><rect x="965" y="571" width="3" height="35" fill="#dc5440"/><rect x="972" y="597" width="1" height="33" fill="#72727a"/><rect x="970" y="607" width="5" height="10" fill="#5e1109"/><rect x="971" y="608" width="3" height="8" fill="#dc5440"/><rect x="978" y="602" width="1" height="25" fill="#72727a"/><rect x="976" y="617" width="5" height="3" fill="#5e1109"/><rect x="977" y="618" width="3" height="1" fill="#dc5440"/><rect x="984" y="605" width="1" height="28" fill="#72727a"/><rect x="982" y="620" width="5" height="2" fill="#5e1109"/><rect x="989" y="595" width="1" height="43" fill="#72727a"/><rect x="987" y="599" width="5" height="23" fill="#1d5a38"/><rect x="988" y="600" width="3" height="21" fill="#6fa988"/><rect x="995" y="543" width="1" height="57" fill="#72727a"/><rect x="993" y="547" width="5" height="52" fill="#1d5a38"/><rect x="994" y="548" width="3" height="50" fill="#6fa988"/><rect x="1001" y="540" width="1" height="22" fill="#72727a"/><rect x="999" y="549" width="5" height="2" fill="#5e1109"/><rect x="1007" y="519" width="1" height="33" fill="#72727a"/><rect x="1005" y="524" width="5" height="25" fill="#1d5a38"/><rect x="1006" y="525" width="3" height="23" fill="#6fa988"/><rect x="1013" y="505" width="1" height="30" fill="#72727a"/><rect x="1011" y="524" width="5" height="10" fill="#5e1109"/><rect x="1012" y="525" width="3" height="8" fill="#dc5440"/><rect x="1019" y="419" width="1" height="116" fill="#72727a"/><rect x="1017" y="420" width="5" height="115" fill="#1d5a38"/><rect x="1018" y="421" width="3" height="113" fill="#6fa988"/><rect x="1025" y="419" width="1" height="44" fill="#72727a"/><rect x="1023" y="420" width="5" height="23" fill="#5e1109"/><rect x="1024" y="421" width="3" height="21" fill="#dc5440"/><rect x="1031" y="421" width="1" height="34" fill="#72727a"/><rect x="1029" y="437" width="5" height="6" fill="#1d5a38"/><rect x="1030" y="438" width="3" height="4" fill="#6fa988"/><rect x="1037" y="365" width="1" height="73" fill="#72727a"/><rect x="1035" y="393" width="5" height="44" fill="#1d5a38"/><rect x="1036" y="394" width="3" height="42" fill="#6fa988"/><rect x="1043" y="338" width="1" height="58" fill="#72727a"/><rect x="1041" y="346" width="5" height="47" fill="#1d5a38"/><rect x="1042" y="347" width="3" height="45" fill="#6fa988"/><rect x="1048" y="303" width="1" height="45" fill="#72727a"/><rect x="1046" y="332" width="5" height="12" fill="#1d5a38"/><rect x="1047" y="333" width="3" height="10" fill="#6fa988"/><rect x="1054" y="329" width="1" height="35" fill="#72727a"/><rect x="1052" y="332" width="5" height="16" fill="#5e1109"/><rect x="1053" y="333" width="3" height="14" fill="#dc5440"/><rect x="1060" y="332" width="1" height="49" fill="#72727a"/><rect x="1058" y="347" width="5" height="3" fill="#5e1109"/><rect x="1059" y="348" width="3" height="1" fill="#dc5440"/><rect x="1066" y="321" width="1" height="43" fill="#72727a"/><rect x="1064" y="335" width="5" height="15" fill="#1d5a38"/><rect x="1065" y="336" width="3" height="13" fill="#6fa988"/><rect x="1072" y="310" width="1" height="39" fill="#72727a"/><rect x="1070" y="326" width="5" height="9" fill="#1d5a38"/><rect x="1071" y="327" width="3" height="7" fill="#6fa988"/><rect x="1078" y="281" width="1" height="58" fill="#72727a"/><rect x="1076" y="287" width="5" height="39" fill="#1d5a38"/><rect x="1077" y="288" width="3" height="37" fill="#6fa988"/><rect x="1084" y="286" width="1" height="28" fill="#72727a"/><rect x="1082" y="287" width="5" height="19" fill="#5e1109"/><rect x="1083" y="288" width="3" height="17" fill="#dc5440"/><rect x="1090" y="284" width="1" height="52" fill="#72727a"/><rect x="1088" y="306" width="5" height="22" fill="#5e1109"/><rect x="1089" y="307" width="3" height="20" fill="#dc5440"/><rect x="1096" y="310" width="1" height="42" fill="#72727a"/><rect x="1094" y="327" width="5" height="4" fill="#5e1109"/><rect x="1095" y="328" width="3" height="2" fill="#dc5440"/><rect x="1102" y="314" width="1" height="22" fill="#72727a"/><rect x="1100" y="324" width="5" height="7" fill="#1d5a38"/><rect x="1101" y="325" width="3" height="5" fill="#6fa988"/><rect x="1108" y="291" width="1" height="37" fill="#72727a"/><rect x="1106" y="312" width="5" height="12" fill="#1d5a38"/><rect x="1107" y="313" width="3" height="10" fill="#6fa988"/><rect x="1113" y="310" width="1" height="29" fill="#72727a"/><rect x="1111" y="312" width="5" height="26" fill="#5e1109"/><rect x="1112" y="313" width="3" height="24" fill="#dc5440"/><rect x="1119" y="337" width="1" height="39" fill="#72727a"/><rect x="1117" y="338" width="5" height="15" fill="#5e1109"/><rect x="1118" y="339" width="3" height="13" fill="#dc5440"/><rect x="1125" y="350" width="1" height="42" fill="#72727a"/><rect x="1123" y="354" width="5" height="36" fill="#5e1109"/><rect x="1124" y="355" width="3" height="34" fill="#dc5440"/><rect x="1131" y="360" width="1" height="37" fill="#72727a"/><rect x="1129" y="373" width="5" height="16" fill="#1d5a38"/><rect x="1130" y="374" width="3" height="14" fill="#6fa988"/><rect x="1137" y="369" width="1" height="49" fill="#72727a"/><rect x="1135" y="373" width="5" height="36" fill="#5e1109"/><rect x="1136" y="374" width="3" height="34" fill="#dc5440"/><rect x="1143" y="389" width="1" height="38" fill="#72727a"/><rect x="1141" y="396" width="5" height="13" fill="#1d5a38"/><rect x="1142" y="397" width="3" height="11" fill="#6fa988"/><rect x="1149" y="350" width="1" height="57" fill="#72727a"/><rect x="1147" y="364" width="5" height="32" fill="#1d5a38"/><rect x="1148" y="365" width="3" height="30" fill="#6fa988"/><rect x="1155" y="342" width="1" height="36" fill="#72727a"/><rect x="1153" y="365" width="5" height="6" fill="#5e1109"/><rect x="1154" y="366" width="3" height="4" fill="#dc5440"/><rect x="1161" y="320" width="1" height="56" fill="#72727a"/><rect x="1159" y="332" width="5" height="39" fill="#1d5a38"/><rect x="1160" y="333" width="3" height="37" fill="#6fa988"/><rect x="1167" y="310" width="1" height="28" fill="#72727a"/><rect x="1165" y="332" width="5" height="1" fill="#5e1109"/><rect x="1172" y="325" width="1" height="35" fill="#72727a"/><rect x="1170" y="333" width="5" height="7" fill="#5e1109"/><rect x="1171" y="334" width="3" height="5" fill="#dc5440"/><rect x="1178" y="284" width="1" height="56" fill="#72727a"/><rect x="1176" y="301" width="5" height="38" fill="#1d5a38"/><rect x="1177" y="302" width="3" height="36" fill="#6fa988"/><rect x="1184" y="287" width="1" height="34" fill="#72727a"/><rect x="1182" y="301" width="5" height="16" fill="#5e1109"/><rect x="1183" y="302" width="3" height="14" fill="#dc5440"/><rect x="1190" y="300" width="1" height="18" fill="#72727a"/><rect x="1188" y="312" width="5" height="5" fill="#1d5a38"/><rect x="1189" y="313" width="3" height="3" fill="#6fa988"/><rect x="1196" y="292" width="1" height="21" fill="#72727a"/><rect x="1194" y="294" width="5" height="18" fill="#1d5a38"/><rect x="1195" y="295" width="3" height="16" fill="#6fa988"/><rect x="1202" y="265" width="1" height="32" fill="#72727a"/><rect x="1200" y="273" width="5" height="16" fill="#1d5a38"/><rect x="1201" y="274" width="3" height="14" fill="#6fa988"/><rect x="1208" y="221" width="1" height="56" fill="#72727a"/><rect x="1206" y="225" width="5" height="48" fill="#1d5a38"/><rect x="1207" y="226" width="3" height="46" fill="#6fa988"/><rect x="1214" y="204" width="1" height="30" fill="#72727a"/><rect x="1212" y="220" width="5" height="6" fill="#1d5a38"/><rect x="1213" y="221" width="3" height="4" fill="#6fa988"/><rect x="1220" y="213" width="1" height="27" fill="#72727a"/><rect x="1218" y="220" width="5" height="14" fill="#5e1109"/><rect x="1219" y="221" width="3" height="12" fill="#dc5440"/><rect x="1226" y="163" width="1" height="74" fill="#72727a"/><rect x="1224" y="169" width="5" height="65" fill="#1d5a38"/><rect x="1225" y="170" width="3" height="63" fill="#6fa988"/><rect x="1231" y="33" width="1" height="229" fill="#72727a"/><rect x="1229" y="169" width="5" height="77" fill="#5e1109"/><rect x="1230" y="170" width="3" height="75" fill="#dc5440"/><rect x="1237" y="224" width="1" height="56" fill="#72727a"/><rect x="1235" y="246" width="5" height="18" fill="#5e1109"/><rect x="1236" y="247" width="3" height="16" fill="#dc5440"/><rect x="1243" y="234" width="1" height="32" fill="#72727a"/><rect x="1241" y="254" width="5" height="10" fill="#1d5a38"/><rect x="1242" y="255" width="3" height="8" fill="#6fa988"/><rect x="1249" y="226" width="1" height="34" fill="#72727a"/><rect x="1247" y="247" width="5" height="7" fill="#1d5a38"/><rect x="1248" y="248" width="3" height="5" fill="#6fa988"/><rect x="1255" y="237" width="1" height="71" fill="#72727a"/><rect x="1253" y="248" width="5" height="42" fill="#5e1109"/><rect x="1254" y="249" width="3" height="40" fill="#dc5440"/><rect x="1261" y="283" width="1" height="57" fill="#72727a"/><rect x="1259" y="290" width="5" height="42" fill="#5e1109"/><rect x="1260" y="291" width="3" height="40" fill="#dc5440"/><rect x="1267" y="304" width="1" height="35" fill="#72727a"/><rect x="1265" y="332" width="5" height="3" fill="#5e1109"/><rect x="1266" y="333" width="3" height="1" fill="#dc5440"/><rect x="1273" y="249" width="1" height="97" fill="#72727a"/><rect x="1271" y="249" width="5" height="86" fill="#1d5a38"/><rect x="1272" y="250" width="3" height="84" fill="#6fa988"/><rect x="1279" y="212" width="1" height="42" fill="#72727a"/><rect x="1277" y="233" width="5" height="16" fill="#1d5a38"/><rect x="1278" y="234" width="3" height="14" fill="#6fa988"/><rect x="1285" y="218" width="1" height="51" fill="#72727a"/><rect x="1283" y="236" width="5" height="28" fill="#5e1109"/><rect x="1284" y="237" width="3" height="26" fill="#dc5440"/><rect x="1290" y="237" width="1" height="31" fill="#72727a"/><rect x="1288" y="249" width="5" height="14" fill="#1d5a38"/><rect x="1289" y="250" width="3" height="12" fill="#6fa988"/><rect x="1296" y="214" width="1" height="44" fill="#72727a"/><rect x="1294" y="226" width="5" height="23" fill="#1d5a38"/><rect x="1295" y="227" width="3" height="21" fill="#6fa988"/><rect x="1302" y="220" width="1" height="27" fill="#72727a"/><rect x="1300" y="226" width="5" height="15" fill="#5e1109"/><rect x="1301" y="227" width="3" height="13" fill="#dc5440"/><rect x="1308" y="215" width="1" height="29" fill="#72727a"/><rect x="1306" y="216" width="5" height="27" fill="#1d5a38"/><rect x="1307" y="217" width="3" height="25" fill="#6fa988"/><rect x="1314" y="171" width="1" height="46" fill="#72727a"/><rect x="1312" y="203" width="5" height="13" fill="#1d5a38"/><rect x="1313" y="204" width="3" height="11" fill="#6fa988"/><rect x="1320" y="203" width="1" height="1" fill="#72727a"/><rect x="1318" y="203" width="5" height="1" fill="#5e1109"/><rect x="1326" y="174" width="1" height="29" fill="#72727a"/><rect x="1324" y="176" width="5" height="27" fill="#1d5a38"/><rect x="1325" y="177" width="3" height="25" fill="#6fa988"/><rect x="1332" y="146" width="1" height="41" fill="#72727a"/><rect x="1330" y="159" width="5" height="19" fill="#1d5a38"/><rect x="1331" y="160" width="3" height="17" fill="#6fa988"/><rect x="1338" y="139" width="1" height="43" fill="#72727a"/><rect x="1336" y="159" width="5" height="21" fill="#5e1109"/><rect x="1337" y="160" width="3" height="19" fill="#dc5440"/><rect x="1344" y="164" width="1" height="29" fill="#72727a"/><rect x="1342" y="181" width="5" height="5" fill="#5e1109"/><rect x="1343" y="182" width="3" height="3" fill="#dc5440"/><rect x="1349" y="185" width="1" height="1" fill="#72727a"/><rect x="1347" y="185" width="5" height="1" fill="#1d5a38"/><rect x="1355" y="156" width="1" height="41" fill="#72727a"/><rect x="1353" y="185" width="5" height="9" fill="#5e1109"/><rect x="1354" y="186" width="3" height="7" fill="#dc5440"/><rect x="1361" y="179" width="1" height="64" fill="#72727a"/><rect x="1359" y="192" width="5" height="32" fill="#5e1109"/><rect x="1360" y="193" width="3" height="30" fill="#dc5440"/><rect x="1367" y="206" width="1" height="27" fill="#72727a"/><rect x="1365" y="220" width="5" height="4" fill="#1d5a38"/><rect x="1366" y="221" width="3" height="2" fill="#6fa988"/><rect x="1373" y="183" width="1" height="71" fill="#72727a"/><rect x="1371" y="216" width="5" height="5" fill="#1d5a38"/><rect x="1372" y="217" width="3" height="3" fill="#6fa988"/><rect x="1379" y="214" width="1" height="54" fill="#72727a"/><rect x="1377" y="216" width="5" height="32" fill="#5e1109"/><rect x="1378" y="217" width="3" height="30" fill="#dc5440"/><rect x="1385" y="222" width="1" height="28" fill="#72727a"/><rect x="1383" y="244" width="5" height="4" fill="#1d5a38"/><rect x="1384" y="245" width="3" height="2" fill="#6fa988"/><rect x="1391" y="226" width="1" height="35" fill="#72727a"/><rect x="1389" y="244" width="5" height="12" fill="#5e1109"/><rect x="1390" y="245" width="3" height="10" fill="#dc5440"/><rect x="1397" y="214" width="1" height="60" fill="#72727a"/><rect x="1395" y="246" width="5" height="10" fill="#1d5a38"/><rect x="1396" y="247" width="3" height="8" fill="#6fa988"/><rect x="1403" y="186" width="1" height="62" fill="#72727a"/><rect x="1401" y="210" width="5" height="38" fill="#1d5a38"/><rect x="1402" y="211" width="3" height="36" fill="#6fa988"/><rect x="1408" y="193" width="1" height="22" fill="#72727a"/><rect x="1406" y="201" width="5" height="9" fill="#1d5a38"/><rect x="1407" y="202" width="3" height="7" fill="#6fa988"/><rect x="1414" y="198" width="1" height="42" fill="#72727a"/><rect x="1412" y="200" width="5" height="40" fill="#5e1109"/><rect x="1413" y="201" width="3" height="38" fill="#dc5440"/></g>
<g id="priceline"><rect x="3" y="240" width="1" height="1" fill="#dc5440"/><rect x="6" y="240" width="1" height="1" fill="#dc5440"/><rect x="9" y="240" width="1" height="1" fill="#dc5440"/><rect x="12" y="240" width="1" height="1" fill="#dc5440"/><rect x="15" y="240" width="1" height="1" fill="#dc5440"/><rect x="18" y="240" width="1" height="1" fill="#dc5440"/><rect x="21" y="240" width="1" height="1" fill="#dc5440"/><rect x="24" y="240" width="1" height="1" fill="#dc5440"/><rect x="27" y="240" width="1" height="1" fill="#dc5440"/><rect x="30" y="240" width="1" height="1" fill="#dc5440"/><rect x="33" y="240" width="1" height="1" fill="#dc5440"/><rect x="36" y="240" width="1" height="1" fill="#dc5440"/><rect x="39" y="240" width="1" height="1" fill="#dc5440"/><rect x="42" y="240" width="1" height="1" fill="#dc5440"/><rect x="45" y="240" width="1" height="1" fill="#dc5440"/><rect x="48" y="240" width="1" height="1" fill="#dc5440"/><rect x="51" y="240" width="1" height="1" fill="#dc5440"/><rect x="54" y="240" width="1" height="1" fill="#dc5440"/><rect x="57" y="240" width="1" height="1" fill="#dc5440"/><rect x="60" y="240" width="1" height="1" fill="#dc5440"/><rect x="63" y="240" width="1" height="1" fill="#dc5440"/><rect x="66" y="240" width="1" height="1" fill="#dc5440"/><rect x="69" y="240" width="1" height="1" fill="#dc5440"/><rect x="72" y="240" width="1" height="1" fill="#dc5440"/><rect x="75" y="240" width="1" height="1" fill="#dc5440"/><rect x="78" y="240" width="1" height="1" fill="#dc5440"/><rect x="81" y="240" width="1" height="1" fill="#dc5440"/><rect x="84" y="240" width="1" height="1" fill="#dc5440"/><rect x="87" y="240" width="1" height="1" fill="#dc5440"/><rect x="90" y="240" width="1" height="1" fill="#dc5440"/><rect x="93" y="240" width="1" height="1" fill="#dc5440"/><rect x="96" y="240" width="1" height="1" fill="#dc5440"/><rect x="99" y="240" width="1" height="1" fill="#dc5440"/><rect x="102" y="240" width="1" height="1" fill="#dc5440"/><rect x="105" y="240" width="1" height="1" fill="#dc5440"/><rect x="108" y="240" width="1" height="1" fill="#dc5440"/><rect x="111" y="240" width="1" height="1" fill="#dc5440"/><rect x="114" y="240" width="1" height="1" fill="#dc5440"/><rect x="117" y="240" width="1" height="1" fill="#dc5440"/><rect x="120" y="240" width="1" height="1" fill="#dc5440"/><rect x="123" y="240" width="1" height="1" fill="#dc5440"/><rect x="126" y="240" width="1" height="1" fill="#dc5440"/><rect x="129" y="240" width="1" height="1" fill="#dc5440"/><rect x="132" y="240" width="1" height="1" fill="#dc5440"/><rect x="135" y="240" width="1" height="1" fill="#dc5440"/><rect x="138" y="240" width="1" height="1" fill="#dc5440"/><rect x="141" y="240" width="1" height="1" fill="#dc5440"/><rect x="144" y="240" width="1" height="1" fill="#dc5440"/><rect x="147" y="240" width="1" height="1" fill="#dc5440"/><rect x="150" y="240" width="1" height="1" fill="#dc5440"/><rect x="153" y="240" width="1" height="1" fill="#dc5440"/><rect x="156" y="240" width="1" height="1" fill="#dc5440"/><rect x="159" y="240" width="1" height="1" fill="#dc5440"/><rect x="162" y="240" width="1" height="1" fill="#dc5440"/><rect x="165" y="240" width="1" height="1" fill="#dc5440"/><rect x="168" y="240" width="1" height="1" fill="#dc5440"/><rect x="171" y="240" width="1" height="1" fill="#dc5440"/><rect x="174" y="240" width="1" height="1" fill="#dc5440"/><rect x="177" y="240" width="1" height="1" fill="#dc5440"/><rect x="180" y="240" width="1" height="1" fill="#dc5440"/><rect x="183" y="240" width="1" height="1" fill="#dc5440"/><rect x="186" y="240" width="1" height="1" fill="#dc5440"/><rect x="189" y="240" width="1" height="1" fill="#dc5440"/><rect x="192" y="240" width="1" height="1" fill="#dc5440"/><rect x="195" y="240" width="1" height="1" fill="#dc5440"/><rect x="198" y="240" width="1" height="1" fill="#dc5440"/><rect x="201" y="240" width="1" height="1" fill="#dc5440"/><rect x="204" y="240" width="1" height="1" fill="#dc5440"/><rect x="207" y="240" width="1" height="1" fill="#dc5440"/><rect x="210" y="240" width="1" height="1" fill="#dc5440"/><rect x="213" y="240" width="1" height="1" fill="#dc5440"/><rect x="216" y="240" width="1" height="1" fill="#dc5440"/><rect x="219" y="240" width="1" height="1" fill="#dc5440"/><rect x="222" y="240" width="1" height="1" fill="#dc5440"/><rect x="225" y="240" width="1" height="1" fill="#dc5440"/><rect x="228" y="240" width="1" height="1" fill="#dc5440"/><rect x="231" y="240" width="1" height="1" fill="#dc5440"/><rect x="234" y="240" width="1" height="1" fill="#dc5440"/><rect x="237" y="240" width="1" height="1" fill="#dc5440"/><rect x="240" y="240" width="1" height="1" fill="#dc5440"/><rect x="243" y="240" width="1" height="1" fill="#dc5440"/><rect x="246" y="240" width="1" height="1" fill="#dc5440"/><rect x="249" y="240" width="1" height="1" fill="#dc5440"/><rect x="252" y="240" width="1" height="1" fill="#dc5440"/><rect x="255" y="240" width="1" height="1" fill="#dc5440"/><rect x="258" y="240" width="1" height="1" fill="#dc5440"/><rect x="261" y="240" width="1" height="1" fill="#dc5440"/><rect x="264" y="240" width="1" height="1" fill="#dc5440"/><rect x="267" y="240" width="1" height="1" fill="#dc5440"/><rect x="270" y="240" width="1" height="1" fill="#dc5440"/><rect x="273" y="240" width="1" height="1" fill="#dc5440"/><rect x="276" y="240" width="1" height="1" fill="#dc5440"/><rect x="279" y="240" width="1" height="1" fill="#dc5440"/><rect x="282" y="240" width="1" height="1" fill="#dc5440"/><rect x="285" y="240" width="1" height="1" fill="#dc5440"/><rect x="288" y="240" width="1" height="1" fill="#dc5440"/><rect x="291" y="240" width="1" height="1" fill="#dc5440"/><rect x="294" y="240" width="1" height="1" fill="#dc5440"/><rect x="297" y="240" width="1" height="1" fill="#dc5440"/><rect x="300" y="240" width="1" height="1" fill="#dc5440"/><rect x="303" y="240" width="1" height="1" fill="#dc5440"/><rect x="306" y="240" width="1" height="1" fill="#dc5440"/><rect x="309" y="240" width="1" height="1" fill="#dc5440"/><rect x="312" y="240" width="1" height="1" fill="#dc5440"/><rect x="315" y="240" width="1" height="1" fill="#dc5440"/><rect x="318" y="240" width="1" height="1" fill="#dc5440"/><rect x="321" y="240" width="1" height="1" fill="#dc5440"/><rect x="324" y="240" width="1" height="1" fill="#dc5440"/><rect x="327" y="240" width="1" height="1" fill="#dc5440"/><rect x="330" y="240" width="1" height="1" fill="#dc5440"/><rect x="333" y="240" width="1" height="1" fill="#dc5440"/><rect x="336" y="240" width="1" height="1" fill="#dc5440"/><rect x="339" y="240" width="1" height="1" fill="#dc5440"/><rect x="342" y="240" width="1" height="1" fill="#dc5440"/><rect x="345" y="240" width="1" height="1" fill="#dc5440"/><rect x="348" y="240" width="1" height="1" fill="#dc5440"/><rect x="351" y="240" width="1" height="1" fill="#dc5440"/><rect x="354" y="240" width="1" height="1" fill="#dc5440"/><rect x="357" y="240" width="1" height="1" fill="#dc5440"/><rect x="360" y="240" width="1" height="1" fill="#dc5440"/><rect x="363" y="240" width="1" height="1" fill="#dc5440"/><rect x="366" y="240" width="1" height="1" fill="#dc5440"/><rect x="369" y="240" width="1" height="1" fill="#dc5440"/><rect x="372" y="240" width="1" height="1" fill="#dc5440"/><rect x="375" y="240" width="1" height="1" fill="#dc5440"/><rect x="378" y="240" width="1" height="1" fill="#dc5440"/><rect x="381" y="240" width="1" height="1" fill="#dc5440"/><rect x="384" y="240" width="1" height="1" fill="#dc5440"/><rect x="387" y="240" width="1" height="1" fill="#dc5440"/><rect x="390" y="240" width="1" height="1" fill="#dc5440"/><rect x="393" y="240" width="1" height="1" fill="#dc5440"/><rect x="396" y="240" width="1" height="1" fill="#dc5440"/><rect x="399" y="240" width="1" height="1" fill="#dc5440"/><rect x="402" y="240" width="1" height="1" fill="#dc5440"/><rect x="405" y="240" width="1" height="1" fill="#dc5440"/><rect x="408" y="240" width="1" height="1" fill="#dc5440"/><rect x="411" y="240" width="1" height="1" fill="#dc5440"/><rect x="414" y="240" width="1" height="1" fill="#dc5440"/><rect x="417" y="240" width="1" height="1" fill="#dc5440"/><rect x="420" y="240" width="1" height="1" fill="#dc5440"/><rect x="423" y="240" width="1" height="1" fill="#dc5440"/><rect x="426" y="240" width="1" height="1" fill="#dc5440"/><rect x="429" y="240" width="1" height="1" fill="#dc5440"/><rect x="432" y="240" width="1" height="1" fill="#dc5440"/><rect x="435" y="240" width="1" height="1" fill="#dc5440"/><rect x="438" y="240" width="1" height="1" fill="#dc5440"/><rect x="441" y="240" width="1" height="1" fill="#dc5440"/><rect x="444" y="240" width="1" height="1" fill="#dc5440"/><rect x="447" y="240" width="1" height="1" fill="#dc5440"/><rect x="450" y="240" width="1" height="1" fill="#dc5440"/><rect x="453" y="240" width="1" height="1" fill="#dc5440"/><rect x="456" y="240" width="1" height="1" fill="#dc5440"/><rect x="459" y="240" width="1" height="1" fill="#dc5440"/><rect x="462" y="240" width="1" height="1" fill="#dc5440"/><rect x="465" y="240" width="1" height="1" fill="#dc5440"/><rect x="468" y="240" width="1" height="1" fill="#dc5440"/><rect x="471" y="240" width="1" height="1" fill="#dc5440"/><rect x="474" y="240" width="1" height="1" fill="#dc5440"/><rect x="477" y="240" width="1" height="1" fill="#dc5440"/><rect x="480" y="240" width="1" height="1" fill="#dc5440"/><rect x="483" y="240" width="1" height="1" fill="#dc5440"/><rect x="486" y="240" width="1" height="1" fill="#dc5440"/><rect x="489" y="240" width="1" height="1" fill="#dc5440"/><rect x="492" y="240" width="1" height="1" fill="#dc5440"/><rect x="495" y="240" width="1" height="1" fill="#dc5440"/><rect x="498" y="240" width="1" height="1" fill="#dc5440"/><rect x="501" y="240" width="1" height="1" fill="#dc5440"/><rect x="504" y="240" width="1" height="1" fill="#dc5440"/><rect x="507" y="240" width="1" height="1" fill="#dc5440"/><rect x="510" y="240" width="1" height="1" fill="#dc5440"/><rect x="513" y="240" width="1" height="1" fill="#dc5440"/><rect x="516" y="240" width="1" height="1" fill="#dc5440"/><rect x="519" y="240" width="1" height="1" fill="#dc5440"/><rect x="522" y="240" width="1" height="1" fill="#dc5440"/><rect x="525" y="240" width="1" height="1" fill="#dc5440"/><rect x="528" y="240" width="1" height="1" fill="#dc5440"/><rect x="531" y="240" width="1" height="1" fill="#dc5440"/><rect x="534" y="240" width="1" height="1" fill="#dc5440"/><rect x="537" y="240" width="1" height="1" fill="#dc5440"/><rect x="540" y="240" width="1" height="1" fill="#dc5440"/><rect x="543" y="240" width="1" height="1" fill="#dc5440"/><rect x="546" y="240" width="1" height="1" fill="#dc5440"/><rect x="549" y="240" width="1" height="1" fill="#dc5440"/><rect x="552" y="240" width="1" height="1" fill="#dc5440"/><rect x="555" y="240" width="1" height="1" fill="#dc5440"/><rect x="558" y="240" width="1" height="1" fill="#dc5440"/><rect x="561" y="240" width="1" height="1" fill="#dc5440"/><rect x="564" y="240" width="1" height="1" fill="#dc5440"/><rect x="567" y="240" width="1" height="1" fill="#dc5440"/><rect x="570" y="240" width="1" height="1" fill="#dc5440"/><rect x="573" y="240" width="1" height="1" fill="#dc5440"/><rect x="576" y="240" width="1" height="1" fill="#dc5440"/><rect x="579" y="240" width="1" height="1" fill="#dc5440"/><rect x="582" y="240" width="1" height="1" fill="#dc5440"/><rect x="585" y="240" width="1" height="1" fill="#dc5440"/><rect x="588" y="240" width="1" height="1" fill="#dc5440"/><rect x="591" y="240" width="1" height="1" fill="#dc5440"/><rect x="594" y="240" width="1" height="1" fill="#dc5440"/><rect x="597" y="240" width="1" height="1" fill="#dc5440"/><rect x="600" y="240" width="1" height="1" fill="#dc5440"/><rect x="603" y="240" width="1" height="1" fill="#dc5440"/><rect x="606" y="240" width="1" height="1" fill="#dc5440"/><rect x="609" y="240" width="1" height="1" fill="#dc5440"/><rect x="612" y="240" width="1" height="1" fill="#dc5440"/><rect x="615" y="240" width="1" height="1" fill="#dc5440"/><rect x="618" y="240" width="1" height="1" fill="#dc5440"/><rect x="621" y="240" width="1" height="1" fill="#dc5440"/><rect x="624" y="240" width="1" height="1" fill="#dc5440"/><rect x="627" y="240" width="1" height="1" fill="#dc5440"/><rect x="630" y="240" width="1" height="1" fill="#dc5440"/><rect x="633" y="240" width="1" height="1" fill="#dc5440"/><rect x="636" y="240" width="1" height="1" fill="#dc5440"/><rect x="639" y="240" width="1" height="1" fill="#dc5440"/><rect x="642" y="240" width="1" height="1" fill="#dc5440"/><rect x="645" y="240" width="1" height="1" fill="#dc5440"/><rect x="648" y="240" width="1" height="1" fill="#dc5440"/><rect x="651" y="240" width="1" height="1" fill="#dc5440"/><rect x="654" y="240" width="1" height="1" fill="#dc5440"/><rect x="657" y="240" width="1" height="1" fill="#dc5440"/><rect x="660" y="240" width="1" height="1" fill="#dc5440"/><rect x="663" y="240" width="1" height="1" fill="#dc5440"/><rect x="666" y="240" width="1" height="1" fill="#dc5440"/><rect x="669" y="240" width="1" height="1" fill="#dc5440"/><rect x="672" y="240" width="1" height="1" fill="#dc5440"/><rect x="675" y="240" width="1" height="1" fill="#dc5440"/><rect x="678" y="240" width="1" height="1" fill="#dc5440"/><rect x="681" y="240" width="1" height="1" fill="#dc5440"/><rect x="684" y="240" width="1" height="1" fill="#dc5440"/><rect x="687" y="240" width="1" height="1" fill="#dc5440"/><rect x="690" y="240" width="1" height="1" fill="#dc5440"/><rect x="693" y="240" width="1" height="1" fill="#dc5440"/><rect x="696" y="240" width="1" height="1" fill="#dc5440"/><rect x="699" y="240" width="1" height="1" fill="#dc5440"/><rect x="702" y="240" width="1" height="1" fill="#dc5440"/><rect x="705" y="240" width="1" height="1" fill="#dc5440"/><rect x="708" y="240" width="1" height="1" fill="#dc5440"/><rect x="711" y="240" width="1" height="1" fill="#dc5440"/><rect x="714" y="240" width="1" height="1" fill="#dc5440"/><rect x="717" y="240" width="1" height="1" fill="#dc5440"/><rect x="720" y="240" width="1" height="1" fill="#dc5440"/><rect x="723" y="240" width="1" height="1" fill="#dc5440"/><rect x="726" y="240" width="1" height="1" fill="#dc5440"/><rect x="729" y="240" width="1" height="1" fill="#dc5440"/><rect x="732" y="240" width="1" height="1" fill="#dc5440"/><rect x="735" y="240" width="1" height="1" fill="#dc5440"/><rect x="738" y="240" width="1" height="1" fill="#dc5440"/><rect x="741" y="240" width="1" height="1" fill="#dc5440"/><rect x="744" y="240" width="1" height="1" fill="#dc5440"/><rect x="747" y="240" width="1" height="1" fill="#dc5440"/><rect x="750" y="240" width="1" height="1" fill="#dc5440"/><rect x="753" y="240" width="1" height="1" fill="#dc5440"/><rect x="756" y="240" width="1" height="1" fill="#dc5440"/><rect x="759" y="240" width="1" height="1" fill="#dc5440"/><rect x="762" y="240" width="1" height="1" fill="#dc5440"/><rect x="765" y="240" width="1" height="1" fill="#dc5440"/><rect x="768" y="240" width="1" height="1" fill="#dc5440"/><rect x="771" y="240" width="1" height="1" fill="#dc5440"/><rect x="774" y="240" width="1" height="1" fill="#dc5440"/><rect x="777" y="240" width="1" height="1" fill="#dc5440"/><rect x="780" y="240" width="1" height="1" fill="#dc5440"/><rect x="783" y="240" width="1" height="1" fill="#dc5440"/><rect x="786" y="240" width="1" height="1" fill="#dc5440"/><rect x="789" y="240" width="1" height="1" fill="#dc5440"/><rect x="792" y="240" width="1" height="1" fill="#dc5440"/><rect x="795" y="240" width="1" height="1" fill="#dc5440"/><rect x="798" y="240" width="1" height="1" fill="#dc5440"/><rect x="801" y="240" width="1" height="1" fill="#dc5440"/><rect x="804" y="240" width="1" height="1" fill="#dc5440"/><rect x="807" y="240" width="1" height="1" fill="#dc5440"/><rect x="810" y="240" width="1" height="1" fill="#dc5440"/><rect x="813" y="240" width="1" height="1" fill="#dc5440"/><rect x="816" y="240" width="1" height="1" fill="#dc5440"/><rect x="819" y="240" width="1" height="1" fill="#dc5440"/><rect x="822" y="240" width="1" height="1" fill="#dc5440"/><rect x="825" y="240" width="1" height="1" fill="#dc5440"/><rect x="828" y="240" width="1" height="1" fill="#dc5440"/><rect x="831" y="240" width="1" height="1" fill="#dc5440"/><rect x="834" y="240" width="1" height="1" fill="#dc5440"/><rect x="837" y="240" width="1" height="1" fill="#dc5440"/><rect x="840" y="240" width="1" height="1" fill="#dc5440"/><rect x="843" y="240" width="1" height="1" fill="#dc5440"/><rect x="846" y="240" width="1" height="1" fill="#dc5440"/><rect x="849" y="240" width="1" height="1" fill="#dc5440"/><rect x="852" y="240" width="1" height="1" fill="#dc5440"/><rect x="855" y="240" width="1" height="1" fill="#dc5440"/><rect x="858" y="240" width="1" height="1" fill="#dc5440"/><rect x="861" y="240" width="1" height="1" fill="#dc5440"/><rect x="864" y="240" width="1" height="1" fill="#dc5440"/><rect x="867" y="240" width="1" height="1" fill="#dc5440"/><rect x="870" y="240" width="1" height="1" fill="#dc5440"/><rect x="873" y="240" width="1" height="1" fill="#dc5440"/><rect x="876" y="240" width="1" height="1" fill="#dc5440"/><rect x="879" y="240" width="1" height="1" fill="#dc5440"/><rect x="882" y="240" width="1" height="1" fill="#dc5440"/><rect x="885" y="240" width="1" height="1" fill="#dc5440"/><rect x="888" y="240" width="1" height="1" fill="#dc5440"/><rect x="891" y="240" width="1" height="1" fill="#dc5440"/><rect x="894" y="240" width="1" height="1" fill="#dc5440"/><rect x="897" y="240" width="1" height="1" fill="#dc5440"/><rect x="900" y="240" width="1" height="1" fill="#dc5440"/><rect x="903" y="240" width="1" height="1" fill="#dc5440"/><rect x="906" y="240" width="1" height="1" fill="#dc5440"/><rect x="909" y="240" width="1" height="1" fill="#dc5440"/><rect x="912" y="240" width="1" height="1" fill="#dc5440"/><rect x="915" y="240" width="1" height="1" fill="#dc5440"/><rect x="918" y="240" width="1" height="1" fill="#dc5440"/><rect x="921" y="240" width="1" height="1" fill="#dc5440"/><rect x="924" y="240" width="1" height="1" fill="#dc5440"/><rect x="927" y="240" width="1" height="1" fill="#dc5440"/><rect x="930" y="240" width="1" height="1" fill="#dc5440"/><rect x="933" y="240" width="1" height="1" fill="#dc5440"/><rect x="936" y="240" width="1" height="1" fill="#dc5440"/><rect x="939" y="240" width="1" height="1" fill="#dc5440"/><rect x="942" y="240" width="1" height="1" fill="#dc5440"/><rect x="945" y="240" width="1" height="1" fill="#dc5440"/><rect x="948" y="240" width="1" height="1" fill="#dc5440"/><rect x="951" y="240" width="1" height="1" fill="#dc5440"/><rect x="954" y="240" width="1" height="1" fill="#dc5440"/><rect x="957" y="240" width="1" height="1" fill="#dc5440"/><rect x="960" y="240" width="1" height="1" fill="#dc5440"/><rect x="963" y="240" width="1" height="1" fill="#dc5440"/><rect x="966" y="240" width="1" height="1" fill="#dc5440"/><rect x="969" y="240" width="1" height="1" fill="#dc5440"/><rect x="972" y="240" width="1" height="1" fill="#dc5440"/><rect x="975" y="240" width="1" height="1" fill="#dc5440"/><rect x="978" y="240" width="1" height="1" fill="#dc5440"/><rect x="981" y="240" width="1" height="1" fill="#dc5440"/><rect x="984" y="240" width="1" height="1" fill="#dc5440"/><rect x="987" y="240" width="1" height="1" fill="#dc5440"/><rect x="990" y="240" width="1" height="1" fill="#dc5440"/><rect x="993" y="240" width="1" height="1" fill="#dc5440"/><rect x="996" y="240" width="1" height="1" fill="#dc5440"/><rect x="999" y="240" width="1" height="1" fill="#dc5440"/><rect x="1002" y="240" width="1" height="1" fill="#dc5440"/><rect x="1005" y="240" width="1" height="1" fill="#dc5440"/><rect x="1008" y="240" width="1" height="1" fill="#dc5440"/><rect x="1011" y="240" width="1" height="1" fill="#dc5440"/><rect x="1014" y="240" width="1" height="1" fill="#dc5440"/><rect x="1017" y="240" width="1" height="1" fill="#dc5440"/><rect x="1020" y="240" width="1" height="1" fill="#dc5440"/><rect x="1023" y="240" width="1" height="1" fill="#dc5440"/><rect x="1026" y="240" width="1" height="1" fill="#dc5440"/><rect x="1029" y="240" width="1" height="1" fill="#dc5440"/><rect x="1032" y="240" width="1" height="1" fill="#dc5440"/><rect x="1035" y="240" width="1" height="1" fill="#dc5440"/><rect x="1038" y="240" width="1" height="1" fill="#dc5440"/><rect x="1041" y="240" width="1" height="1" fill="#dc5440"/><rect x="1044" y="240" width="1" height="1" fill="#dc5440"/><rect x="1047" y="240" width="1" height="1" fill="#dc5440"/><rect x="1050" y="240" width="1" height="1" fill="#dc5440"/><rect x="1053" y="240" width="1" height="1" fill="#dc5440"/><rect x="1056" y="240" width="1" height="1" fill="#dc5440"/><rect x="1059" y="240" width="1" height="1" fill="#dc5440"/><rect x="1062" y="240" width="1" height="1" fill="#dc5440"/><rect x="1065" y="240" width="1" height="1" fill="#dc5440"/><rect x="1068" y="240" width="1" height="1" fill="#dc5440"/><rect x="1071" y="240" width="1" height="1" fill="#dc5440"/><rect x="1074" y="240" width="1" height="1" fill="#dc5440"/><rect x="1077" y="240" width="1" height="1" fill="#dc5440"/><rect x="1080" y="240" width="1" height="1" fill="#dc5440"/><rect x="1083" y="240" width="1" height="1" fill="#dc5440"/><rect x="1086" y="240" width="1" height="1" fill="#dc5440"/><rect x="1089" y="240" width="1" height="1" fill="#dc5440"/><rect x="1092" y="240" width="1" height="1" fill="#dc5440"/><rect x="1095" y="240" width="1" height="1" fill="#dc5440"/><rect x="1098" y="240" width="1" height="1" fill="#dc5440"/><rect x="1101" y="240" width="1" height="1" fill="#dc5440"/><rect x="1104" y="240" width="1" height="1" fill="#dc5440"/><rect x="1107" y="240" width="1" height="1" fill="#dc5440"/><rect x="1110" y="240" width="1" height="1" fill="#dc5440"/><rect x="1113" y="240" width="1" height="1" fill="#dc5440"/><rect x="1116" y="240" width="1" height="1" fill="#dc5440"/><rect x="1119" y="240" width="1" height="1" fill="#dc5440"/><rect x="1122" y="240" width="1" height="1" fill="#dc5440"/><rect x="1125" y="240" width="1" height="1" fill="#dc5440"/><rect x="1128" y="240" width="1" height="1" fill="#dc5440"/><rect x="1131" y="240" width="1" height="1" fill="#dc5440"/><rect x="1134" y="240" width="1" height="1" fill="#dc5440"/><rect x="1137" y="240" width="1" height="1" fill="#dc5440"/><rect x="1140" y="240" width="1" height="1" fill="#dc5440"/><rect x="1143" y="240" width="1" height="1" fill="#dc5440"/><rect x="1146" y="240" width="1" height="1" fill="#dc5440"/><rect x="1149" y="240" width="1" height="1" fill="#dc5440"/><rect x="1152" y="240" width="1" height="1" fill="#dc5440"/><rect x="1155" y="240" width="1" height="1" fill="#dc5440"/><rect x="1158" y="240" width="1" height="1" fill="#dc5440"/><rect x="1161" y="240" width="1" height="1" fill="#dc5440"/><rect x="1164" y="240" width="1" height="1" fill="#dc5440"/><rect x="1167" y="240" width="1" height="1" fill="#dc5440"/><rect x="1170" y="240" width="1" height="1" fill="#dc5440"/><rect x="1173" y="240" width="1" height="1" fill="#dc5440"/><rect x="1176" y="240" width="1" height="1" fill="#dc5440"/><rect x="1179" y="240" width="1" height="1" fill="#dc5440"/><rect x="1182" y="240" width="1" height="1" fill="#dc5440"/><rect x="1185" y="240" width="1" height="1" fill="#dc5440"/><rect x="1188" y="240" width="1" height="1" fill="#dc5440"/><rect x="1191" y="240" width="1" height="1" fill="#dc5440"/><rect x="1194" y="240" width="1" height="1" fill="#dc5440"/><rect x="1197" y="240" width="1" height="1" fill="#dc5440"/><rect x="1200" y="240" width="1" height="1" fill="#dc5440"/><rect x="1203" y="240" width="1" height="1" fill="#dc5440"/><rect x="1206" y="240" width="1" height="1" fill="#dc5440"/><rect x="1209" y="240" width="1" height="1" fill="#dc5440"/><rect x="1212" y="240" width="1" height="1" fill="#dc5440"/><rect x="1215" y="240" width="1" height="1" fill="#dc5440"/><rect x="1218" y="240" width="1" height="1" fill="#dc5440"/><rect x="1221" y="240" width="1" height="1" fill="#dc5440"/><rect x="1224" y="240" width="1" height="1" fill="#dc5440"/><rect x="1227" y="240" width="1" height="1" fill="#dc5440"/><rect x="1230" y="240" width="1" height="1" fill="#dc5440"/><rect x="1233" y="240" width="1" height="1" fill="#dc5440"/><rect x="1236" y="240" width="1" height="1" fill="#dc5440"/><rect x="1239" y="240" width="1" height="1" fill="#dc5440"/><rect x="1242" y="240" width="1" height="1" fill="#dc5440"/><rect x="1245" y="240" width="1" height="1" fill="#dc5440"/><rect x="1248" y="240" width="1" height="1" fill="#dc5440"/><rect x="1251" y="240" width="1" height="1" fill="#dc5440"/><rect x="1254" y="240" width="1" height="1" fill="#dc5440"/><rect x="1257" y="240" width="1" height="1" fill="#dc5440"/><rect x="1260" y="240" width="1" height="1" fill="#dc5440"/><rect x="1263" y="240" width="1" height="1" fill="#dc5440"/><rect x="1266" y="240" width="1" height="1" fill="#dc5440"/><rect x="1269" y="240" width="1" height="1" fill="#dc5440"/><rect x="1272" y="240" width="1" height="1" fill="#dc5440"/><rect x="1275" y="240" width="1" height="1" fill="#dc5440"/><rect x="1278" y="240" width="1" height="1" fill="#dc5440"/><rect x="1281" y="240" width="1" height="1" fill="#dc5440"/><rect x="1284" y="240" width="1" height="1" fill="#dc5440"/><rect x="1287" y="240" width="1" height="1" fill="#dc5440"/><rect x="1290" y="240" width="1" height="1" fill="#dc5440"/><rect x="1293" y="240" width="1" height="1" fill="#dc5440"/><rect x="1296" y="240" width="1" height="1" fill="#dc5440"/><rect x="1299" y="240" width="1" height="1" fill="#dc5440"/><rect x="1302" y="240" width="1" height="1" fill="#dc5440"/><rect x="1305" y="240" width="1" height="1" fill="#dc5440"/><rect x="1308" y="240" width="1" height="1" fill="#dc5440"/><rect x="1311" y="240" width="1" height="1" fill="#dc5440"/><rect x="1314" y="240" width="1" height="1" fill="#dc5440"/><rect x="1317" y="240" width="1" height="1" fill="#dc5440"/><rect x="1320" y="240" width="1" height="1" fill="#dc5440"/><rect x="1323" y="240" width="1" height="1" fill="#dc5440"/><rect x="1326" y="240" width="1" height="1" fill="#dc5440"/><rect x="1329" y="240" width="1" height="1" fill="#dc5440"/><rect x="1332" y="240" width="1" height="1" fill="#dc5440"/><rect x="1335" y="240" width="1" height="1" fill="#dc5440"/><rect x="1338" y="240" width="1" height="1" fill="#dc5440"/><rect x="1341" y="240" width="1" height="1" fill="#dc5440"/><rect x="1344" y="240" width="1" height="1" fill="#dc5440"/><rect x="1347" y="240" width="1" height="1" fill="#dc5440"/><rect x="1350" y="240" width="1" height="1" fill="#dc5440"/><rect x="1353" y="240" width="1" height="1" fill="#dc5440"/><rect x="1356" y="240" width="1" height="1" fill="#dc5440"/><rect x="1359" y="240" width="1" height="1" fill="#dc5440"/><rect x="1362" y="240" width="1" height="1" fill="#dc5440"/><rect x="1365" y="240" width="1" height="1" fill="#dc5440"/><rect x="1368" y="240" width="1" height="1" fill="#dc5440"/><rect x="1371" y="240" width="1" height="1" fill="#dc5440"/><rect x="1374" y="240" width="1" height="1" fill="#dc5440"/><rect x="1377" y="240" width="1" height="1" fill="#dc5440"/><rect x="1380" y="240" width="1" height="1" fill="#dc5440"/><rect x="1383" y="240" width="1" height="1" fill="#dc5440"/><rect x="1386" y="240" width="1" height="1" fill="#dc5440"/><rect x="1389" y="240" width="1" height="1" fill="#dc5440"/><rect x="1392" y="240" width="1" height="1" fill="#dc5440"/><rect x="1395" y="240" width="1" height="1" fill="#dc5440"/><rect x="1398" y="240" width="1" height="1" fill="#dc5440"/><rect x="1401" y="240" width="1" height="1" fill="#dc5440"/><rect x="1404" y="240" width="1" height="1" fill="#dc5440"/><rect x="1407" y="240" width="1" height="1" fill="#dc5440"/><rect x="1410" y="240" width="1" height="1" fill="#dc5440"/><rect x="1413" y="240" width="1" height="1" fill="#dc5440"/><rect x="1416" y="240" width="1" height="1" fill="#dc5440"/><rect x="1419" y="240" width="1" height="1" fill="#dc5440"/><rect x="1422" y="240" width="1" height="1" fill="#dc5440"/><rect x="1425" y="240" width="1" height="1" fill="#dc5440"/><rect x="1428" y="240" width="1" height="1" fill="#dc5440"/><rect x="1431" y="240" width="1" height="1" fill="#dc5440"/><rect x="1434" y="240" width="1" height="1" fill="#dc5440"/><rect x="1437" y="240" width="1" height="1" fill="#dc5440"/><rect x="1440" y="240" width="1" height="1" fill="#dc5440"/><rect x="1443" y="240" width="1" height="1" fill="#dc5440"/><rect x="1446" y="240" width="1" height="1" fill="#dc5440"/><rect x="1449" y="240" width="1" height="1" fill="#dc5440"/><rect x="1452" y="240" width="1" height="1" fill="#dc5440"/><rect x="1455" y="240" width="1" height="1" fill="#dc5440"/><rect x="1458" y="240" width="1" height="1" fill="#dc5440"/><rect x="1461" y="240" width="1" height="1" fill="#dc5440"/><rect x="1464" y="240" width="1" height="1" fill="#dc5440"/></g>
<rect x="3" y="684" width="1526" height="1" fill="#e0e3eb"/>
<rect x="3" y="714" width="1526" height="1" fill="#e0e3eb"/>
<polyline points="3.0,695.5 15.0,697.5 35.0,700.0 55.0,701.2 80.0,701.2 100.0,698.7 117.5,696.2 127.5,695.0 135.0,690.7 147.5,687.5 157.5,686.2 170.0,686.2 180.0,688.2 192.5,690.0 205.0,687.5 212.5,688.7 222.5,692.0 235.0,693.2 245.0,692.5 252.5,690.0 262.5,690.7 270.0,690.0 280.0,690.5 290.0,691.5 305.0,692.0 315.0,693.0 327.5,691.2 340.0,687.0 350.0,689.5 362.5,690.5 375.0,692.0 383.0,692.0 390.5,693.0 399.2,692.0 408.0,694.0 428.0,694.5 435.5,696.5 448.0,696.2 458.0,695.0 470.5,696.5 481.7,695.5 493.0,697.2 503.0,697.0 511.7,696.2 523.0,698.2 538.0,698.7 548.0,698.5 563.0,700.5 580.5,701.0 590.5,702.2 605.5,701.5 615.5,702.5 624.2,702.0 638.0,704.2 646.7,703.2 654.2,704.2 665.5,704.0 680.5,705.5 689.2,703.7 698.0,703.7 710.5,703.0 719.2,704.0 733.0,704.5 748.0,705.0 758.0,706.0 766.0,706.5 776.0,706.2 783.5,707.5 793.5,708.0 801.0,707.2 818.5,708.0 826.0,707.2 836.0,708.5 843.5,708.5 858.5,709.5 868.5,710.5 883.5,710.5 896.0,711.2 902.2,710.5 913.5,711.5 923.5,710.7 936.0,711.5 942.2,711.0 948.5,709.5 954.7,708.7 961.0,707.0 971.0,706.2 983.5,707.0 994.7,705.0 1003.5,705.7 1013.0,706.0 1019.0,701.7 1031.0,701.5 1038.5,699.5 1048.5,698.7 1058.5,699.2 1071.0,699.0 1077.2,698.0 1084.7,699.0 1093.5,698.2 1103.5,699.5 1116.0,700.5 1128.5,700.5 1141.0,700.0 1149.0,699.5 1161.5,699.0 1171.5,700.0 1180.2,699.2 1191.5,701.2 1200.2,702.5 1209.0,701.5 1219.0,702.5 1226.0,700.5 1231.0,690.7 1236.5,690.5 1249.0,692.5 1259.0,691.2 1266.5,691.7 1272.7,689.7 1285.2,690.5 1296.5,692.0 1306.5,694.2 1314.0,694.7 1321.5,697.5 1331.5,698.0 1341.5,698.5 1349.0,701.5 1361.5,699.7 1367.7,700.5 1376.5,698.7 1389.0,699.5 1402.7,697.7 1407.7,698.7 1414.0,698.5" fill="none" stroke="#c8383f" stroke-width="1.05" stroke-linejoin="round" shape-rendering="auto" />
<rect x="3" y="746" width="1462" height="26" fill="#2196f3" fill-opacity="0.1"/>
<g id="ccidash"><rect x="3" y="746" width="5" height="1" fill="#787b86"/><rect x="14" y="746" width="5" height="1" fill="#787b86"/><rect x="25" y="746" width="5" height="1" fill="#787b86"/><rect x="36" y="746" width="5" height="1" fill="#787b86"/><rect x="47" y="746" width="5" height="1" fill="#787b86"/><rect x="58" y="746" width="5" height="1" fill="#787b86"/><rect x="69" y="746" width="5" height="1" fill="#787b86"/><rect x="80" y="746" width="5" height="1" fill="#787b86"/><rect x="91" y="746" width="5" height="1" fill="#787b86"/><rect x="102" y="746" width="5" height="1" fill="#787b86"/><rect x="113" y="746" width="5" height="1" fill="#787b86"/><rect x="124" y="746" width="5" height="1" fill="#787b86"/><rect x="135" y="746" width="5" height="1" fill="#787b86"/><rect x="146" y="746" width="5" height="1" fill="#787b86"/><rect x="157" y="746" width="5" height="1" fill="#787b86"/><rect x="168" y="746" width="5" height="1" fill="#787b86"/><rect x="179" y="746" width="5" height="1" fill="#787b86"/><rect x="190" y="746" width="5" height="1" fill="#787b86"/><rect x="201" y="746" width="5" height="1" fill="#787b86"/><rect x="212" y="746" width="5" height="1" fill="#787b86"/><rect x="223" y="746" width="5" height="1" fill="#787b86"/><rect x="234" y="746" width="5" height="1" fill="#787b86"/><rect x="245" y="746" width="5" height="1" fill="#787b86"/><rect x="256" y="746" width="5" height="1" fill="#787b86"/><rect x="267" y="746" width="5" height="1" fill="#787b86"/><rect x="278" y="746" width="5" height="1" fill="#787b86"/><rect x="289" y="746" width="5" height="1" fill="#787b86"/><rect x="300" y="746" width="5" height="1" fill="#787b86"/><rect x="311" y="746" width="5" height="1" fill="#787b86"/><rect x="322" y="746" width="5" height="1" fill="#787b86"/><rect x="333" y="746" width="5" height="1" fill="#787b86"/><rect x="344" y="746" width="5" height="1" fill="#787b86"/><rect x="355" y="746" width="5" height="1" fill="#787b86"/><rect x="366" y="746" width="5" height="1" fill="#787b86"/><rect x="377" y="746" width="5" height="1" fill="#787b86"/><rect x="388" y="746" width="5" height="1" fill="#787b86"/><rect x="399" y="746" width="5" height="1" fill="#787b86"/><rect x="410" y="746" width="5" height="1" fill="#787b86"/><rect x="421" y="746" width="5" height="1" fill="#787b86"/><rect x="432" y="746" width="5" height="1" fill="#787b86"/><rect x="443" y="746" width="5" height="1" fill="#787b86"/><rect x="454" y="746" width="5" height="1" fill="#787b86"/><rect x="465" y="746" width="5" height="1" fill="#787b86"/><rect x="476" y="746" width="5" height="1" fill="#787b86"/><rect x="487" y="746" width="5" height="1" fill="#787b86"/><rect x="498" y="746" width="5" height="1" fill="#787b86"/><rect x="509" y="746" width="5" height="1" fill="#787b86"/><rect x="520" y="746" width="5" height="1" fill="#787b86"/><rect x="531" y="746" width="5" height="1" fill="#787b86"/><rect x="542" y="746" width="5" height="1" fill="#787b86"/><rect x="553" y="746" width="5" height="1" fill="#787b86"/><rect x="564" y="746" width="5" height="1" fill="#787b86"/><rect x="575" y="746" width="5" height="1" fill="#787b86"/><rect x="586" y="746" width="5" height="1" fill="#787b86"/><rect x="597" y="746" width="5" height="1" fill="#787b86"/><rect x="608" y="746" width="5" height="1" fill="#787b86"/><rect x="619" y="746" width="5" height="1" fill="#787b86"/><rect x="630" y="746" width="5" height="1" fill="#787b86"/><rect x="641" y="746" width="5" height="1" fill="#787b86"/><rect x="652" y="746" width="5" height="1" fill="#787b86"/><rect x="663" y="746" width="5" height="1" fill="#787b86"/><rect x="674" y="746" width="5" height="1" fill="#787b86"/><rect x="685" y="746" width="5" height="1" fill="#787b86"/><rect x="696" y="746" width="5" height="1" fill="#787b86"/><rect x="707" y="746" width="5" height="1" fill="#787b86"/><rect x="718" y="746" width="5" height="1" fill="#787b86"/><rect x="729" y="746" width="5" height="1" fill="#787b86"/><rect x="740" y="746" width="5" height="1" fill="#787b86"/><rect x="751" y="746" width="5" height="1" fill="#787b86"/><rect x="762" y="746" width="5" height="1" fill="#787b86"/><rect x="773" y="746" width="5" height="1" fill="#787b86"/><rect x="784" y="746" width="5" height="1" fill="#787b86"/><rect x="795" y="746" width="5" height="1" fill="#787b86"/><rect x="806" y="746" width="5" height="1" fill="#787b86"/><rect x="817" y="746" width="5" height="1" fill="#787b86"/><rect x="828" y="746" width="5" height="1" fill="#787b86"/><rect x="839" y="746" width="5" height="1" fill="#787b86"/><rect x="850" y="746" width="5" height="1" fill="#787b86"/><rect x="861" y="746" width="5" height="1" fill="#787b86"/><rect x="872" y="746" width="5" height="1" fill="#787b86"/><rect x="883" y="746" width="5" height="1" fill="#787b86"/><rect x="894" y="746" width="5" height="1" fill="#787b86"/><rect x="905" y="746" width="5" height="1" fill="#787b86"/><rect x="916" y="746" width="5" height="1" fill="#787b86"/><rect x="927" y="746" width="5" height="1" fill="#787b86"/><rect x="938" y="746" width="5" height="1" fill="#787b86"/><rect x="949" y="746" width="5" height="1" fill="#787b86"/><rect x="960" y="746" width="5" height="1" fill="#787b86"/><rect x="971" y="746" width="5" height="1" fill="#787b86"/><rect x="982" y="746" width="5" height="1" fill="#787b86"/><rect x="993" y="746" width="5" height="1" fill="#787b86"/><rect x="1004" y="746" width="5" height="1" fill="#787b86"/><rect x="1015" y="746" width="5" height="1" fill="#787b86"/><rect x="1026" y="746" width="5" height="1" fill="#787b86"/><rect x="1037" y="746" width="5" height="1" fill="#787b86"/><rect x="1048" y="746" width="5" height="1" fill="#787b86"/><rect x="1059" y="746" width="5" height="1" fill="#787b86"/><rect x="1070" y="746" width="5" height="1" fill="#787b86"/><rect x="1081" y="746" width="5" height="1" fill="#787b86"/><rect x="1092" y="746" width="5" height="1" fill="#787b86"/><rect x="1103" y="746" width="5" height="1" fill="#787b86"/><rect x="1114" y="746" width="5" height="1" fill="#787b86"/><rect x="1125" y="746" width="5" height="1" fill="#787b86"/><rect x="1136" y="746" width="5" height="1" fill="#787b86"/><rect x="1147" y="746" width="5" height="1" fill="#787b86"/><rect x="1158" y="746" width="5" height="1" fill="#787b86"/><rect x="1169" y="746" width="5" height="1" fill="#787b86"/><rect x="1180" y="746" width="5" height="1" fill="#787b86"/><rect x="1191" y="746" width="5" height="1" fill="#787b86"/><rect x="1202" y="746" width="5" height="1" fill="#787b86"/><rect x="1213" y="746" width="5" height="1" fill="#787b86"/><rect x="1224" y="746" width="5" height="1" fill="#787b86"/><rect x="1235" y="746" width="5" height="1" fill="#787b86"/><rect x="1246" y="746" width="5" height="1" fill="#787b86"/><rect x="1257" y="746" width="5" height="1" fill="#787b86"/><rect x="1268" y="746" width="5" height="1" fill="#787b86"/><rect x="1279" y="746" width="5" height="1" fill="#787b86"/><rect x="1290" y="746" width="5" height="1" fill="#787b86"/><rect x="1301" y="746" width="5" height="1" fill="#787b86"/><rect x="1312" y="746" width="5" height="1" fill="#787b86"/><rect x="1323" y="746" width="5" height="1" fill="#787b86"/><rect x="1334" y="746" width="5" height="1" fill="#787b86"/><rect x="1345" y="746" width="5" height="1" fill="#787b86"/><rect x="1356" y="746" width="5" height="1" fill="#787b86"/><rect x="1367" y="746" width="5" height="1" fill="#787b86"/><rect x="1378" y="746" width="5" height="1" fill="#787b86"/><rect x="1389" y="746" width="5" height="1" fill="#787b86"/><rect x="1400" y="746" width="5" height="1" fill="#787b86"/><rect x="1411" y="746" width="5" height="1" fill="#787b86"/><rect x="1422" y="746" width="5" height="1" fill="#787b86"/><rect x="1433" y="746" width="5" height="1" fill="#787b86"/><rect x="1444" y="746" width="5" height="1" fill="#787b86"/><rect x="1455" y="746" width="5" height="1" fill="#787b86"/><rect x="3" y="759" width="5" height="1" fill="#a6a8b0"/><rect x="14" y="759" width="5" height="1" fill="#a6a8b0"/><rect x="25" y="759" width="5" height="1" fill="#a6a8b0"/><rect x="36" y="759" width="5" height="1" fill="#a6a8b0"/><rect x="47" y="759" width="5" height="1" fill="#a6a8b0"/><rect x="58" y="759" width="5" height="1" fill="#a6a8b0"/><rect x="69" y="759" width="5" height="1" fill="#a6a8b0"/><rect x="80" y="759" width="5" height="1" fill="#a6a8b0"/><rect x="91" y="759" width="5" height="1" fill="#a6a8b0"/><rect x="102" y="759" width="5" height="1" fill="#a6a8b0"/><rect x="113" y="759" width="5" height="1" fill="#a6a8b0"/><rect x="124" y="759" width="5" height="1" fill="#a6a8b0"/><rect x="135" y="759" width="5" height="1" fill="#a6a8b0"/><rect x="146" y="759" width="5" height="1" fill="#a6a8b0"/><rect x="157" y="759" width="5" height="1" fill="#a6a8b0"/><rect x="168" y="759" width="5" height="1" fill="#a6a8b0"/><rect x="179" y="759" width="5" height="1" fill="#a6a8b0"/><rect x="190" y="759" width="5" height="1" fill="#a6a8b0"/><rect x="201" y="759" width="5" height="1" fill="#a6a8b0"/><rect x="212" y="759" width="5" height="1" fill="#a6a8b0"/><rect x="223" y="759" width="5" height="1" fill="#a6a8b0"/><rect x="234" y="759" width="5" height="1" fill="#a6a8b0"/><rect x="245" y="759" width="5" height="1" fill="#a6a8b0"/><rect x="256" y="759" width="5" height="1" fill="#a6a8b0"/><rect x="267" y="759" width="5" height="1" fill="#a6a8b0"/><rect x="278" y="759" width="5" height="1" fill="#a6a8b0"/><rect x="289" y="759" width="5" height="1" fill="#a6a8b0"/><rect x="300" y="759" width="5" height="1" fill="#a6a8b0"/><rect x="311" y="759" width="5" height="1" fill="#a6a8b0"/><rect x="322" y="759" width="5" height="1" fill="#a6a8b0"/><rect x="333" y="759" width="5" height="1" fill="#a6a8b0"/><rect x="344" y="759" width="5" height="1" fill="#a6a8b0"/><rect x="355" y="759" width="5" height="1" fill="#a6a8b0"/><rect x="366" y="759" width="5" height="1" fill="#a6a8b0"/><rect x="377" y="759" width="5" height="1" fill="#a6a8b0"/><rect x="388" y="759" width="5" height="1" fill="#a6a8b0"/><rect x="399" y="759" width="5" height="1" fill="#a6a8b0"/><rect x="410" y="759" width="5" height="1" fill="#a6a8b0"/><rect x="421" y="759" width="5" height="1" fill="#a6a8b0"/><rect x="432" y="759" width="5" height="1" fill="#a6a8b0"/><rect x="443" y="759" width="5" height="1" fill="#a6a8b0"/><rect x="454" y="759" width="5" height="1" fill="#a6a8b0"/><rect x="465" y="759" width="5" height="1" fill="#a6a8b0"/><rect x="476" y="759" width="5" height="1" fill="#a6a8b0"/><rect x="487" y="759" width="5" height="1" fill="#a6a8b0"/><rect x="498" y="759" width="5" height="1" fill="#a6a8b0"/><rect x="509" y="759" width="5" height="1" fill="#a6a8b0"/><rect x="520" y="759" width="5" height="1" fill="#a6a8b0"/><rect x="531" y="759" width="5" height="1" fill="#a6a8b0"/><rect x="542" y="759" width="5" height="1" fill="#a6a8b0"/><rect x="553" y="759" width="5" height="1" fill="#a6a8b0"/><rect x="564" y="759" width="5" height="1" fill="#a6a8b0"/><rect x="575" y="759" width="5" height="1" fill="#a6a8b0"/><rect x="586" y="759" width="5" height="1" fill="#a6a8b0"/><rect x="597" y="759" width="5" height="1" fill="#a6a8b0"/><rect x="608" y="759" width="5" height="1" fill="#a6a8b0"/><rect x="619" y="759" width="5" height="1" fill="#a6a8b0"/><rect x="630" y="759" width="5" height="1" fill="#a6a8b0"/><rect x="641" y="759" width="5" height="1" fill="#a6a8b0"/><rect x="652" y="759" width="5" height="1" fill="#a6a8b0"/><rect x="663" y="759" width="5" height="1" fill="#a6a8b0"/><rect x="674" y="759" width="5" height="1" fill="#a6a8b0"/><rect x="685" y="759" width="5" height="1" fill="#a6a8b0"/><rect x="696" y="759" width="5" height="1" fill="#a6a8b0"/><rect x="707" y="759" width="5" height="1" fill="#a6a8b0"/><rect x="718" y="759" width="5" height="1" fill="#a6a8b0"/><rect x="729" y="759" width="5" height="1" fill="#a6a8b0"/><rect x="740" y="759" width="5" height="1" fill="#a6a8b0"/><rect x="751" y="759" width="5" height="1" fill="#a6a8b0"/><rect x="762" y="759" width="5" height="1" fill="#a6a8b0"/><rect x="773" y="759" width="5" height="1" fill="#a6a8b0"/><rect x="784" y="759" width="5" height="1" fill="#a6a8b0"/><rect x="795" y="759" width="5" height="1" fill="#a6a8b0"/><rect x="806" y="759" width="5" height="1" fill="#a6a8b0"/><rect x="817" y="759" width="5" height="1" fill="#a6a8b0"/><rect x="828" y="759" width="5" height="1" fill="#a6a8b0"/><rect x="839" y="759" width="5" height="1" fill="#a6a8b0"/><rect x="850" y="759" width="5" height="1" fill="#a6a8b0"/><rect x="861" y="759" width="5" height="1" fill="#a6a8b0"/><rect x="872" y="759" width="5" height="1" fill="#a6a8b0"/><rect x="883" y="759" width="5" height="1" fill="#a6a8b0"/><rect x="894" y="759" width="5" height="1" fill="#a6a8b0"/><rect x="905" y="759" width="5" height="1" fill="#a6a8b0"/><rect x="916" y="759" width="5" height="1" fill="#a6a8b0"/><rect x="927" y="759" width="5" height="1" fill="#a6a8b0"/><rect x="938" y="759" width="5" height="1" fill="#a6a8b0"/><rect x="949" y="759" width="5" height="1" fill="#a6a8b0"/><rect x="960" y="759" width="5" height="1" fill="#a6a8b0"/><rect x="971" y="759" width="5" height="1" fill="#a6a8b0"/><rect x="982" y="759" width="5" height="1" fill="#a6a8b0"/><rect x="993" y="759" width="5" height="1" fill="#a6a8b0"/><rect x="1004" y="759" width="5" height="1" fill="#a6a8b0"/><rect x="1015" y="759" width="5" height="1" fill="#a6a8b0"/><rect x="1026" y="759" width="5" height="1" fill="#a6a8b0"/><rect x="1037" y="759" width="5" height="1" fill="#a6a8b0"/><rect x="1048" y="759" width="5" height="1" fill="#a6a8b0"/><rect x="1059" y="759" width="5" height="1" fill="#a6a8b0"/><rect x="1070" y="759" width="5" height="1" fill="#a6a8b0"/><rect x="1081" y="759" width="5" height="1" fill="#a6a8b0"/><rect x="1092" y="759" width="5" height="1" fill="#a6a8b0"/><rect x="1103" y="759" width="5" height="1" fill="#a6a8b0"/><rect x="1114" y="759" width="5" height="1" fill="#a6a8b0"/><rect x="1125" y="759" width="5" height="1" fill="#a6a8b0"/><rect x="1136" y="759" width="5" height="1" fill="#a6a8b0"/><rect x="1147" y="759" width="5" height="1" fill="#a6a8b0"/><rect x="1158" y="759" width="5" height="1" fill="#a6a8b0"/><rect x="1169" y="759" width="5" height="1" fill="#a6a8b0"/><rect x="1180" y="759" width="5" height="1" fill="#a6a8b0"/><rect x="1191" y="759" width="5" height="1" fill="#a6a8b0"/><rect x="1202" y="759" width="5" height="1" fill="#a6a8b0"/><rect x="1213" y="759" width="5" height="1" fill="#a6a8b0"/><rect x="1224" y="759" width="5" height="1" fill="#a6a8b0"/><rect x="1235" y="759" width="5" height="1" fill="#a6a8b0"/><rect x="1246" y="759" width="5" height="1" fill="#a6a8b0"/><rect x="1257" y="759" width="5" height="1" fill="#a6a8b0"/><rect x="1268" y="759" width="5" height="1" fill="#a6a8b0"/><rect x="1279" y="759" width="5" height="1" fill="#a6a8b0"/><rect x="1290" y="759" width="5" height="1" fill="#a6a8b0"/><rect x="1301" y="759" width="5" height="1" fill="#a6a8b0"/><rect x="1312" y="759" width="5" height="1" fill="#a6a8b0"/><rect x="1323" y="759" width="5" height="1" fill="#a6a8b0"/><rect x="1334" y="759" width="5" height="1" fill="#a6a8b0"/><rect x="1345" y="759" width="5" height="1" fill="#a6a8b0"/><rect x="1356" y="759" width="5" height="1" fill="#a6a8b0"/><rect x="1367" y="759" width="5" height="1" fill="#a6a8b0"/><rect x="1378" y="759" width="5" height="1" fill="#a6a8b0"/><rect x="1389" y="759" width="5" height="1" fill="#a6a8b0"/><rect x="1400" y="759" width="5" height="1" fill="#a6a8b0"/><rect x="1411" y="759" width="5" height="1" fill="#a6a8b0"/><rect x="1422" y="759" width="5" height="1" fill="#a6a8b0"/><rect x="1433" y="759" width="5" height="1" fill="#a6a8b0"/><rect x="1444" y="759" width="5" height="1" fill="#a6a8b0"/><rect x="1455" y="759" width="5" height="1" fill="#a6a8b0"/><rect x="3" y="772" width="5" height="1" fill="#787b86"/><rect x="14" y="772" width="5" height="1" fill="#787b86"/><rect x="25" y="772" width="5" height="1" fill="#787b86"/><rect x="36" y="772" width="5" height="1" fill="#787b86"/><rect x="47" y="772" width="5" height="1" fill="#787b86"/><rect x="58" y="772" width="5" height="1" fill="#787b86"/><rect x="69" y="772" width="5" height="1" fill="#787b86"/><rect x="80" y="772" width="5" height="1" fill="#787b86"/><rect x="91" y="772" width="5" height="1" fill="#787b86"/><rect x="102" y="772" width="5" height="1" fill="#787b86"/><rect x="113" y="772" width="5" height="1" fill="#787b86"/><rect x="124" y="772" width="5" height="1" fill="#787b86"/><rect x="135" y="772" width="5" height="1" fill="#787b86"/><rect x="146" y="772" width="5" height="1" fill="#787b86"/><rect x="157" y="772" width="5" height="1" fill="#787b86"/><rect x="168" y="772" width="5" height="1" fill="#787b86"/><rect x="179" y="772" width="5" height="1" fill="#787b86"/><rect x="190" y="772" width="5" height="1" fill="#787b86"/><rect x="201" y="772" width="5" height="1" fill="#787b86"/><rect x="212" y="772" width="5" height="1" fill="#787b86"/><rect x="223" y="772" width="5" height="1" fill="#787b86"/><rect x="234" y="772" width="5" height="1" fill="#787b86"/><rect x="245" y="772" width="5" height="1" fill="#787b86"/><rect x="256" y="772" width="5" height="1" fill="#787b86"/><rect x="267" y="772" width="5" height="1" fill="#787b86"/><rect x="278" y="772" width="5" height="1" fill="#787b86"/><rect x="289" y="772" width="5" height="1" fill="#787b86"/><rect x="300" y="772" width="5" height="1" fill="#787b86"/><rect x="311" y="772" width="5" height="1" fill="#787b86"/><rect x="322" y="772" width="5" height="1" fill="#787b86"/><rect x="333" y="772" width="5" height="1" fill="#787b86"/><rect x="344" y="772" width="5" height="1" fill="#787b86"/><rect x="355" y="772" width="5" height="1" fill="#787b86"/><rect x="366" y="772" width="5" height="1" fill="#787b86"/><rect x="377" y="772" width="5" height="1" fill="#787b86"/><rect x="388" y="772" width="5" height="1" fill="#787b86"/><rect x="399" y="772" width="5" height="1" fill="#787b86"/><rect x="410" y="772" width="5" height="1" fill="#787b86"/><rect x="421" y="772" width="5" height="1" fill="#787b86"/><rect x="432" y="772" width="5" height="1" fill="#787b86"/><rect x="443" y="772" width="5" height="1" fill="#787b86"/><rect x="454" y="772" width="5" height="1" fill="#787b86"/><rect x="465" y="772" width="5" height="1" fill="#787b86"/><rect x="476" y="772" width="5" height="1" fill="#787b86"/><rect x="487" y="772" width="5" height="1" fill="#787b86"/><rect x="498" y="772" width="5" height="1" fill="#787b86"/><rect x="509" y="772" width="5" height="1" fill="#787b86"/><rect x="520" y="772" width="5" height="1" fill="#787b86"/><rect x="531" y="772" width="5" height="1" fill="#787b86"/><rect x="542" y="772" width="5" height="1" fill="#787b86"/><rect x="553" y="772" width="5" height="1" fill="#787b86"/><rect x="564" y="772" width="5" height="1" fill="#787b86"/><rect x="575" y="772" width="5" height="1" fill="#787b86"/><rect x="586" y="772" width="5" height="1" fill="#787b86"/><rect x="597" y="772" width="5" height="1" fill="#787b86"/><rect x="608" y="772" width="5" height="1" fill="#787b86"/><rect x="619" y="772" width="5" height="1" fill="#787b86"/><rect x="630" y="772" width="5" height="1" fill="#787b86"/><rect x="641" y="772" width="5" height="1" fill="#787b86"/><rect x="652" y="772" width="5" height="1" fill="#787b86"/><rect x="663" y="772" width="5" height="1" fill="#787b86"/><rect x="674" y="772" width="5" height="1" fill="#787b86"/><rect x="685" y="772" width="5" height="1" fill="#787b86"/><rect x="696" y="772" width="5" height="1" fill="#787b86"/><rect x="707" y="772" width="5" height="1" fill="#787b86"/><rect x="718" y="772" width="5" height="1" fill="#787b86"/><rect x="729" y="772" width="5" height="1" fill="#787b86"/><rect x="740" y="772" width="5" height="1" fill="#787b86"/><rect x="751" y="772" width="5" height="1" fill="#787b86"/><rect x="762" y="772" width="5" height="1" fill="#787b86"/><rect x="773" y="772" width="5" height="1" fill="#787b86"/><rect x="784" y="772" width="5" height="1" fill="#787b86"/><rect x="795" y="772" width="5" height="1" fill="#787b86"/><rect x="806" y="772" width="5" height="1" fill="#787b86"/><rect x="817" y="772" width="5" height="1" fill="#787b86"/><rect x="828" y="772" width="5" height="1" fill="#787b86"/><rect x="839" y="772" width="5" height="1" fill="#787b86"/><rect x="850" y="772" width="5" height="1" fill="#787b86"/><rect x="861" y="772" width="5" height="1" fill="#787b86"/><rect x="872" y="772" width="5" height="1" fill="#787b86"/><rect x="883" y="772" width="5" height="1" fill="#787b86"/><rect x="894" y="772" width="5" height="1" fill="#787b86"/><rect x="905" y="772" width="5" height="1" fill="#787b86"/><rect x="916" y="772" width="5" height="1" fill="#787b86"/><rect x="927" y="772" width="5" height="1" fill="#787b86"/><rect x="938" y="772" width="5" height="1" fill="#787b86"/><rect x="949" y="772" width="5" height="1" fill="#787b86"/><rect x="960" y="772" width="5" height="1" fill="#787b86"/><rect x="971" y="772" width="5" height="1" fill="#787b86"/><rect x="982" y="772" width="5" height="1" fill="#787b86"/><rect x="993" y="772" width="5" height="1" fill="#787b86"/><rect x="1004" y="772" width="5" height="1" fill="#787b86"/><rect x="1015" y="772" width="5" height="1" fill="#787b86"/><rect x="1026" y="772" width="5" height="1" fill="#787b86"/><rect x="1037" y="772" width="5" height="1" fill="#787b86"/><rect x="1048" y="772" width="5" height="1" fill="#787b86"/><rect x="1059" y="772" width="5" height="1" fill="#787b86"/><rect x="1070" y="772" width="5" height="1" fill="#787b86"/><rect x="1081" y="772" width="5" height="1" fill="#787b86"/><rect x="1092" y="772" width="5" height="1" fill="#787b86"/><rect x="1103" y="772" width="5" height="1" fill="#787b86"/><rect x="1114" y="772" width="5" height="1" fill="#787b86"/><rect x="1125" y="772" width="5" height="1" fill="#787b86"/><rect x="1136" y="772" width="5" height="1" fill="#787b86"/><rect x="1147" y="772" width="5" height="1" fill="#787b86"/><rect x="1158" y="772" width="5" height="1" fill="#787b86"/><rect x="1169" y="772" width="5" height="1" fill="#787b86"/><rect x="1180" y="772" width="5" height="1" fill="#787b86"/><rect x="1191" y="772" width="5" height="1" fill="#787b86"/><rect x="1202" y="772" width="5" height="1" fill="#787b86"/><rect x="1213" y="772" width="5" height="1" fill="#787b86"/><rect x="1224" y="772" width="5" height="1" fill="#787b86"/><rect x="1235" y="772" width="5" height="1" fill="#787b86"/><rect x="1246" y="772" width="5" height="1" fill="#787b86"/><rect x="1257" y="772" width="5" height="1" fill="#787b86"/><rect x="1268" y="772" width="5" height="1" fill="#787b86"/><rect x="1279" y="772" width="5" height="1" fill="#787b86"/><rect x="1290" y="772" width="5" height="1" fill="#787b86"/><rect x="1301" y="772" width="5" height="1" fill="#787b86"/><rect x="1312" y="772" width="5" height="1" fill="#787b86"/><rect x="1323" y="772" width="5" height="1" fill="#787b86"/><rect x="1334" y="772" width="5" height="1" fill="#787b86"/><rect x="1345" y="772" width="5" height="1" fill="#787b86"/><rect x="1356" y="772" width="5" height="1" fill="#787b86"/><rect x="1367" y="772" width="5" height="1" fill="#787b86"/><rect x="1378" y="772" width="5" height="1" fill="#787b86"/><rect x="1389" y="772" width="5" height="1" fill="#787b86"/><rect x="1400" y="772" width="5" height="1" fill="#787b86"/><rect x="1411" y="772" width="5" height="1" fill="#787b86"/><rect x="1422" y="772" width="5" height="1" fill="#787b86"/><rect x="1433" y="772" width="5" height="1" fill="#787b86"/><rect x="1444" y="772" width="5" height="1" fill="#787b86"/><rect x="1455" y="772" width="5" height="1" fill="#787b86"/></g>
<polyline points="3.0,775.2 11.2,773.7 30.0,774.2 47.5,773.7 53.7,772.0 62.5,765.2 68.7,764.0 75.0,756.5 80.5,755.2 86.7,768.2 92.0,773.7 97.5,766.5 103.7,742.0 109.5,719.0 122.5,731.5 128.0,734.5 135.0,730.7 141.2,735.7 146.2,743.2 152.5,744.5 157.5,742.7 163.0,744.5 168.7,749.5 180.0,750.5 187.5,750.0 198.7,751.5 205.0,746.5 210.7,743.0 216.2,744.5 222.0,745.2 228.0,751.0 233.7,749.5 238.7,745.7 246.2,737.7 252.0,747.7 258.0,756.2 263.7,754.5 270.0,760.7 275.0,755.2 281.2,763.2 286.7,765.5 292.5,762.5 298.7,762.7 305.0,767.0 311.2,769.2 317.0,769.5 322.5,757.0 328.2,735.7 334.0,727.0 340.0,748.2 345.7,750.2 352.0,747.0 358.0,747.0 363.7,751.5 370.0,757.0 375.7,755.7 383.0,765.7 393.0,777.5 399.2,773.2 405.5,772.2 411.0,773.0 417.2,772.7 423.0,777.2 429.2,775.7 435.5,774.5 441.0,771.2 446.7,767.0 452.5,763.7 458.0,766.5 463.7,768.0 470.0,765.0 476.0,769.5 481.7,765.0 488.0,760.7 493.7,763.7 500.0,768.7 505.5,771.5 511.0,771.5 517.0,756.5 523.0,764.5 528.7,777.0 534.7,785.7 540.7,790.5 546.7,783.2 553.0,777.5 559.0,778.7 565.0,780.2 571.0,779.0 576.7,771.5 582.2,767.5 588.0,764.5 594.2,766.0 600.0,769.0 606.0,763.5 612.0,763.2 618.0,755.7 623.7,742.5 629.7,737.7 635.5,739.0 641.2,741.5 647.2,733.7 653.0,737.5 659.2,742.2 665.0,748.2 671.0,751.0 676.7,751.0 683.0,748.2 689.2,754.5 694.2,755.5 700.0,752.5 706.0,758.7 712.0,767.0 718.0,773.0 724.0,771.5 730.0,773.5 736.0,781.0 742.0,782.5 748.0,780.0 753.5,777.7 759.2,777.2 766.0,777.5 771.0,778.2 777.2,777.5 783.0,775.7 789.0,773.2 794.7,770.7 801.0,764.0 806.7,761.0 812.2,761.7 818.0,757.2 824.0,749.5 830.0,741.5 836.0,742.2 842.2,742.7 848.0,744.0 854.0,750.7 860.0,756.5 866.0,757.0 872.0,756.0 877.2,755.7 883.0,761.5 889.0,765.0 895.0,767.2 901.0,758.7 907.0,752.7 913.0,751.5 919.0,750.2 925.0,763.0 930.0,761.5 936.0,766.0 942.0,777.7 947.7,792.0 954.0,795.2 959.7,791.0 966.0,791.7 971.7,787.0 977.7,781.2 983.5,777.5 989.2,773.2 995.0,766.7 1001.0,764.2 1007.0,761.7 1013.0,760.2 1019.0,751.2 1025.0,749.0 1031.0,748.0 1037.0,742.7 1043.0,739.2 1049.0,737.7 1054.7,742.2 1060.5,744.7 1066.5,745.2 1072.2,745.7 1078.5,745.2 1084.0,746.5 1090.0,748.5 1096.0,750.5 1102.2,750.7 1108.0,750.0 1114.0,753.2 1119.7,757.2 1125.5,762.0 1131.0,764.2 1137.0,771.5 1143.0,774.2 1149.0,767.5 1154.5,765.2 1160.5,758.2 1166.5,752.5 1172.0,757.7 1178.5,747.2 1184.0,748.2 1190.2,749.5 1196.0,746.5 1202.0,740.7 1208.0,733.5 1214.0,733.5 1220.0,739.0 1225.7,736.0 1231.0,738.5 1237.0,751.2 1249.0,751.2 1255.2,758.2 1261.0,765.5 1267.0,768.2 1273.0,759.5 1279.0,750.7 1285.0,755.2 1290.2,756.5 1296.5,752.0 1302.0,753.2 1308.0,750.7 1314.0,744.0 1320.0,746.5 1326.0,742.7 1332.0,739.5 1338.0,742.5 1344.0,745.7 1349.0,747.7 1354.7,748.7 1361.0,757.0 1366.5,757.5 1372.2,757.7 1379.0,765.2 1385.2,767.0 1391.0,770.2 1396.5,769.5 1402.0,762.0 1407.7,756.2 1414.0,765.0" fill="none" stroke="#2962ff" stroke-width="1.1" stroke-linejoin="round" shape-rendering="auto" />
<rect x="1465" y="0" width="1" height="829" fill="#3a3a3e"/>
<rect x="3" y="801" width="1526" height="1" fill="#3a3a3e"/>
<rect x="0" y="0" width="3" height="831" fill="#e0e3eb"/>
<rect x="1529" y="0" width="3" height="831" fill="#e0e3eb"/>
<path d="M3 0h3a3 3 0 0 0-3 3zM1529 0h-3a3 3 0 0 1 3 3zM3 829h3a3 3 0 0 1-3-3zM1529 829h-3a3 3 0 0 0 3-3z" fill="#e0e3eb" shape-rendering="auto"/>
<rect x="0" y="829" width="1532" height="1" fill="#e0e3eb"/><rect x="0" y="830" width="1532" height="1" fill="#ffffff"/>
<defs><filter id="ws2" x="-5%" y="-15%" width="112%" height="135%" color-interpolation-filters="sRGB"><feGaussianBlur in="SourceAlpha" stdDeviation="0.6" result="b"/><feOffset in="b" dx="1.3" dy="1.4" result="o"/><feFlood flood-color="#444" flood-opacity="0.65" result="f"/><feComposite in="f" in2="o" operator="in" result="s"/><feComposite in="s" in2="SourceAlpha" operator="out" result="so"/><feMerge><feMergeNode in="so"/><feMergeNode in="SourceGraphic"/></feMerge></filter></defs>
<g id="wm2" shape-rendering="auto" filter="url(#ws2)" font-size="31.5" font-weight="bold" font-style="italic" fill="#7d9fe9" stroke="#7d9fe9" stroke-width="1.2" stroke-linejoin="round" opacity="0.92">
<text x="1297.5" y="825.4">z</text>
<text x="1324.5" y="825.4">z</text>
<text x="1352" y="825.4">r</text>
<text x="1376.5" y="825.4">t</text>
<text x="1396.5" y="825.4">0</text>
<path d="M1444.6 803.2L1439.8 825.6L1432.4 825.6L1435.6 810.4L1431.2 811.8L1432.4 806.4L1438.6 803.2Z" stroke-width="0.6"/>
<text x="1452.5" y="825.4">.</text>
<text x="1474.5" y="825.4">c</text>
<text x="1499.5" y="825.4">n</text>
</g>
<g id="txt" shape-rendering="auto"><text x="1473.2" y="662.2" font-size="12" fill="#55575f" font-weight="normal" text-anchor="start" textLength="41.7" lengthAdjust="spacingAndGlyphs">1800.00</text><text x="1473.2" y="626.2" font-size="12" fill="#55575f" font-weight="normal" text-anchor="start" textLength="41.7" lengthAdjust="spacingAndGlyphs">1820.00</text><text x="1473.2" y="590.2" font-size="12" fill="#55575f" font-weight="normal" text-anchor="start" textLength="41.7" lengthAdjust="spacingAndGlyphs">1840.00</text><text x="1473.2" y="555.2" font-size="12" fill="#55575f" font-weight="normal" text-anchor="start" textLength="41.7" lengthAdjust="spacingAndGlyphs">1860.00</text><text x="1473.2" y="519.2" font-size="12" fill="#55575f" font-weight="normal" text-anchor="start" textLength="41.7" lengthAdjust="spacingAndGlyphs">1880.00</text><text x="1473.2" y="483.2" font-size="12" fill="#55575f" font-weight="normal" text-anchor="start" textLength="41.7" lengthAdjust="spacingAndGlyphs">1900.00</text><text x="1473.2" y="447.2" font-size="12" fill="#55575f" font-weight="normal" text-anchor="start" textLength="41.7" lengthAdjust="spacingAndGlyphs">1920.00</text><text x="1473.2" y="411.2" font-size="12" fill="#55575f" font-weight="normal" text-anchor="start" textLength="41.7" lengthAdjust="spacingAndGlyphs">1940.00</text><text x="1473.2" y="375.2" font-size="12" fill="#55575f" font-weight="normal" text-anchor="start" textLength="41.7" lengthAdjust="spacingAndGlyphs">1960.00</text><text x="1473.2" y="339.2" font-size="12" fill="#55575f" font-weight="normal" text-anchor="start" textLength="41.7" lengthAdjust="spacingAndGlyphs">1980.00</text><text x="1473.2" y="303.2" font-size="12" fill="#55575f" font-weight="normal" text-anchor="start" textLength="41.7" lengthAdjust="spacingAndGlyphs">2000.00</text><text x="1473.2" y="267.2" font-size="12" fill="#55575f" font-weight="normal" text-anchor="start" textLength="41.7" lengthAdjust="spacingAndGlyphs">2020.00</text><text x="1473.2" y="231.2" font-size="12" fill="#55575f" font-weight="normal" text-anchor="start" textLength="41.7" lengthAdjust="spacingAndGlyphs">2040.00</text><text x="1473.2" y="195.2" font-size="12" fill="#55575f" font-weight="normal" text-anchor="start" textLength="41.7" lengthAdjust="spacingAndGlyphs">2060.00</text><text x="1473.2" y="159.2" font-size="12" fill="#55575f" font-weight="normal" text-anchor="start" textLength="41.7" lengthAdjust="spacingAndGlyphs">2080.00</text><text x="1473.2" y="123.2" font-size="12" fill="#55575f" font-weight="normal" text-anchor="start" textLength="41.7" lengthAdjust="spacingAndGlyphs">2100.00</text><text x="1473.2" y="87.2" font-size="12" fill="#55575f" font-weight="normal" text-anchor="start" textLength="41.7" lengthAdjust="spacingAndGlyphs">2120.00</text><text x="1473.2" y="51.2" font-size="12" fill="#55575f" font-weight="normal" text-anchor="start" textLength="41.7" lengthAdjust="spacingAndGlyphs">2140.00</text><text x="1473.2" y="702" font-size="12" fill="#55575f" font-weight="normal" text-anchor="start" textLength="29" lengthAdjust="spacingAndGlyphs">25.00</text><text x="1473.2" y="730.8" font-size="12" fill="#55575f" font-weight="normal" text-anchor="start" textLength="35.3" lengthAdjust="spacingAndGlyphs">250.00</text><text x="1473.2" y="763.3" font-size="12" fill="#55575f" font-weight="normal" text-anchor="start" textLength="22.8" lengthAdjust="spacingAndGlyphs">0.00</text><text x="63.03" y="819" font-size="12.2" fill="#55575f" font-weight="normal" text-anchor="middle" >Mar</text><text x="198.75300000000001" y="819" font-size="12.2" fill="#55575f" font-weight="normal" text-anchor="middle" >Apr</text><text x="316.77299999999997" y="819" font-size="12.2" fill="#55575f" font-weight="normal" text-anchor="middle" >May</text><text x="452.496" y="819" font-size="12.2" fill="#55575f" font-weight="normal" text-anchor="middle" >Jun</text><text x="582.318" y="819" font-size="12.2" fill="#55575f" font-weight="normal" text-anchor="middle" >Jul</text><text x="706.2389999999999" y="819" font-size="12.2" fill="#55575f" font-weight="normal" text-anchor="middle" >Aug</text><text x="841.962" y="819" font-size="12.2" fill="#55575f" font-weight="normal" text-anchor="middle" >Sep</text><text x="965.8829999999999" y="819" font-size="12.2" fill="#55575f" font-weight="normal" text-anchor="middle" >Oct</text><text x="1095.705" y="819" font-size="12.2" fill="#55575f" font-weight="normal" text-anchor="middle" >Nov</text><text x="1225.527" y="819" font-size="12.2" fill="#55575f" font-weight="normal" text-anchor="middle" >Dec</text><text x="1349.4479999999999" y="819" font-size="12.2" fill="#55575f" font-weight="normal" text-anchor="middle" >2024</text><text x="1437.963" y="819" font-size="12.2" fill="#55575f" font-weight="normal" text-anchor="middle" >22</text></g>
<g id="labels" shape-rendering="auto"><rect x="1466" y="144" width="55" height="17" rx="2" fill="#000"/><text x="1474" y="156.5" font-size="12.2" font-weight="bold" fill="#fff" textLength="42" lengthAdjust="spacingAndGlyphs">2081.00</text><rect x="1466" y="164" width="55" height="17" rx="2" fill="#000"/><text x="1474" y="176.5" font-size="12.2" font-weight="bold" fill="#fff" textLength="42" lengthAdjust="spacingAndGlyphs">2070.42</text><rect x="1466" y="212" width="55" height="17" rx="2" fill="#000"/><text x="1474" y="224.5" font-size="12.2" font-weight="bold" fill="#fff" textLength="42" lengthAdjust="spacingAndGlyphs">2043.61</text><rect x="1466" y="249" width="55" height="17" rx="2" fill="#000"/><text x="1474" y="261.5" font-size="12.2" font-weight="bold" fill="#fff" textLength="42" lengthAdjust="spacingAndGlyphs">2032.13</text><rect x="1466" y="273" width="55" height="17" rx="2" fill="#000"/><text x="1474" y="285.5" font-size="12.2" font-weight="bold" fill="#fff" textLength="42" lengthAdjust="spacingAndGlyphs">2009.75</text><rect x="1466" y="313" width="55" height="17" rx="2" fill="#000"/><text x="1474" y="325.5" font-size="12.2" font-weight="bold" fill="#fff" textLength="42" lengthAdjust="spacingAndGlyphs">1987.23</text><rect x="1466" y="362" width="55" height="17" rx="2" fill="#000"/><text x="1474" y="374.5" font-size="12.2" font-weight="bold" fill="#fff" textLength="42" lengthAdjust="spacingAndGlyphs">1959.74</text><rect x="1466" y="399" width="55" height="17" rx="2" fill="#000"/><text x="1474" y="411.5" font-size="12.2" font-weight="bold" fill="#fff" textLength="42" lengthAdjust="spacingAndGlyphs">1939.56</text><rect x="1466" y="416" width="55" height="17" rx="2" fill="#000"/><text x="1474" y="428.5" font-size="12.2" font-weight="bold" fill="#fff" textLength="42" lengthAdjust="spacingAndGlyphs">1932.49</text><rect x="1466" y="482" width="55" height="17" rx="2" fill="#000"/><text x="1474" y="494.5" font-size="12.2" font-weight="bold" fill="#fff" textLength="42" lengthAdjust="spacingAndGlyphs">1893.12</text><rect x="1466" y="499" width="55" height="17" rx="2" fill="#000"/><text x="1474" y="511.5" font-size="12.2" font-weight="bold" fill="#fff" textLength="42" lengthAdjust="spacingAndGlyphs">1885.03</text><rect x="1466" y="641" width="55" height="17" rx="2" fill="#000"/><text x="1474" y="653.5" font-size="12.2" font-weight="bold" fill="#fff" textLength="42" lengthAdjust="spacingAndGlyphs">1804.78</text><rect x="1466" y="232" width="58" height="17" rx="2" fill="#d9553f"/><text x="1474" y="245" font-size="12.2" font-weight="bold" fill="#f7d9d2" textLength="46" lengthAdjust="spacingAndGlyphs">08:44:39</text></g>
<g id="legend" shape-rendering="auto">
<!-- legend translucent backgrounds -->
<rect x="10" y="11" width="272" height="18" fill="#fff" fill-opacity="0.6"/>

<rect x="8" y="687" width="117" height="26" fill="#fff" fill-opacity="0.75"/>
<rect x="8" y="717" width="159" height="26" fill="#fff" fill-opacity="0.75"/>
<!-- gold icon -->
<circle cx="20.9" cy="16" r="8.9" fill="#d59b00"/>
<path d="M18.6 11.8h4.6l1.5 3.1h-7.6zM15.2 16.3h4.5l1.3 3.1h-7.3zM22.2 16.3h4.5l1.6 3.1h-7.3z" fill="#fff"/>
<text x="34.4" y="21.7" font-size="15" fill="#4a4a4e" textLength="244.6" lengthAdjust="spacingAndGlyphs">CFDs on Gold (US$ / OZ) · 1D · TVC</text>
<!-- status dot -->
<circle cx="303" cy="16" r="8.9" fill="#089981" fill-opacity="0.18"/>
<circle cx="303" cy="16" r="4" fill="#089981"/>
<!-- OHLC -->
<g font-size="13">
<text x="328.7" y="21.1" fill="#55575f">O</text><text x="338.8" y="21.1" fill="#7d2d2d" textLength="44.6" lengthAdjust="spacingAndGlyphs">2054.75</text>
<text x="390.5" y="21.1" fill="#55575f">H</text><text x="399.9" y="21.1" fill="#7d2d2d" textLength="44.6" lengthAdjust="spacingAndGlyphs">2055.82</text>
<text x="451.6" y="21.1" fill="#55575f">L</text><text x="458.6" y="21.1" fill="#7d2d2d" textLength="44.2" lengthAdjust="spacingAndGlyphs">2031.51</text>
<text x="510.3" y="21.1" fill="#55575f">C</text><text x="519.3" y="21.1" fill="#7d2d2d" textLength="45.1" lengthAdjust="spacingAndGlyphs">2032.47</text>
<text x="571.4" y="21.1" fill="#7d2d2d" textLength="37.6" lengthAdjust="spacingAndGlyphs">−21.73</text>
<text x="614.4" y="21.1" fill="#7d2d2d" textLength="48.2" lengthAdjust="spacingAndGlyphs">(−1.06%)</text>
</g>
<!-- bid / ask -->
<rect x="11.5" y="32.5" width="61" height="23" rx="4" fill="#fff" stroke="#f23645" stroke-width="1"/>
<text x="19.5" y="48.8" font-size="13" fill="#f23645" textLength="44.9" lengthAdjust="spacingAndGlyphs">2032.54</text>
<text x="81.6" y="48.6" font-size="10.5" fill="#2a2e39" textLength="9.6" lengthAdjust="spacingAndGlyphs">11</text>
<rect x="100.5" y="32.5" width="61" height="23" rx="4" fill="#fff" stroke="#2962ff" stroke-width="1"/>
<text x="108.7" y="48.8" font-size="13" fill="#2962ff" textLength="44.4" lengthAdjust="spacingAndGlyphs">2032.65</text>
<!-- MA ribbon -->
<text x="12.1" y="76.5" font-size="12" fill="#4f525c" textLength="383" lengthAdjust="spacingAndGlyphs">MA Ribbon SMA close 20 SMA close 50 SMA close 100 SMA close 200</text>
<text x="403.5" y="76.5" font-size="12" fill="#f23645" textLength="44" lengthAdjust="spacingAndGlyphs">2047.71</text>
<text x="455" y="76.5" font-size="12" fill="#2962ff" textLength="45" lengthAdjust="spacingAndGlyphs">2020.26</text>
<text x="506.8" y="76.5" font-size="11" fill="#2a2e39">∅</text>
<text x="521.5" y="76.5" font-size="12" fill="#1e2027" textLength="44" lengthAdjust="spacingAndGlyphs">1963.83</text>
<!-- collapse button -->
<rect x="12.5" y="86.5" width="28" height="20" rx="3" fill="#fff" stroke="#d1d4dc" stroke-width="1"/>
<path d="M22.3 98.6l4.1-3.9 4.1 3.9" fill="none" stroke="#1e2027" stroke-width="1.4"/>
<!-- ATR / CCI legends -->
<text x="12.1" y="705.8" font-size="12" fill="#4f525c" textLength="66.5" lengthAdjust="spacingAndGlyphs">ATR 14 RMA</text>
<text x="88" y="705.8" font-size="12" fill="#c8383f" textLength="31" lengthAdjust="spacingAndGlyphs">23.79</text>
<text x="12.1" y="735.7" font-size="12" fill="#4f525c" textLength="101.5" lengthAdjust="spacingAndGlyphs">CCI 20 hlc3 SMA 5</text>
<text x="123" y="735.7" font-size="12" fill="#2962ff" textLength="37.5" lengthAdjust="spacingAndGlyphs">−49.59</text>
<!-- USD box -->
<rect x="1470" y="4.5" width="54" height="25" rx="4" fill="#fff" stroke="#e0e3eb" stroke-width="1"/>
<text x="1473.3" y="20.7" font-size="12" fill="#131722" textLength="20.3" lengthAdjust="spacingAndGlyphs">USD</text>
<path d="M1514.6 16.2l2.9 2.8 2.9-2.8" fill="none" stroke="#131722" stroke-width="1.3"/>
<!-- hex settings icon -->
<path d="M1494 810.3h7.2l3.6 6-3.6 6h-7.2l-3.6-6z" fill="none" stroke="#2a2e39" stroke-width="1.2"/>
<circle cx="1497.6" cy="816.3" r="2.4" fill="none" stroke="#2a2e39" stroke-width="1.2"/>
<!-- TV logo -->
<g>
<path d="M15.1 772.2h11.8v14.5h-5.7v-9h-6.1zM38.3 772.2h6.5l-6.1 14.5h-6.5z" fill="#131722" stroke="#fff" stroke-width="2.6" stroke-linejoin="round"/>
<circle cx="31.95" cy="774.9" r="2.95" fill="#131722" stroke="#fff" stroke-width="2.6"/>
<path d="M15.1 772.2h11.8v14.5h-5.7v-9h-6.1zM38.3 772.2h6.5l-6.1 14.5h-6.5z" fill="#131722"/>
<circle cx="31.95" cy="774.9" r="2.95" fill="#131722"/>
</g>
</g>

<defs><filter id="wb" x="-5%" y="-20%" width="110%" height="140%"><feGaussianBlur stdDeviation="0.8"/></filter></defs>
<g id="wm" shape-rendering="auto">
<g fill="none" stroke="#2e2e2e" stroke-opacity="0.7" stroke-linecap="round" stroke-linejoin="round" filter="url(#wb)" transform="translate(0.6,0.7)"><polyline points="1308.0,740.2 1308.0,746.1" stroke-width="3.0"/><polyline points="1309.3,749.1 1347.9,749.1" stroke-width="3.0"/><polyline points="1298.2,754.8 1309.3,754.8 1309.3,749.9" stroke-width="3.0"/><polyline points="1302.5,755.5 1302.2,763.9" stroke-width="3.0"/><polyline points="1317.3,758.4 1335.2,758.4" stroke-width="3.0"/><polyline points="1317.8,758.9 1315.6,766.5" stroke-width="3.0"/><polyline points="1330.1,759.7 1332.6,766.5" stroke-width="3.0"/><polyline points="1345.8,752.9 1342.4,770.7 1337.7,788.6 1332.6,792.6 1302.9,793.0" stroke-width="3.0"/><polyline points="1312.7,775.0 1330.5,775.0" stroke-width="3.0"/><polyline points="1313.1,775.4 1310.5,784.3" stroke-width="3.0"/><polyline points="1324.5,776.7 1327.5,784.3" stroke-width="3.0"/><polyline points="1302.9,774.1 1295.3,789.4 1291.0,792.4 1284.2,793.0" stroke-width="3.0"/><polyline points="1356.4,746.3 1397.1,746.3" stroke-width="3.0"/><polyline points="1364.9,749.5 1362.7,759.7" stroke-width="3.0"/><polyline points="1353.8,769.0 1392.9,769.0" stroke-width="3.0"/><polyline points="1397.5,747.0 1389.5,777.5 1388.6,783.5 1348.7,783.6" stroke-width="3.0"/><polyline points="1392.9,784.3 1390.3,792.4 1373.3,793.2" stroke-width="3.0"/><polyline points="1408.2,740.3 1401.3,772.2" stroke-width="3.0"/><polyline points="1420.7,748.5 1432.7,748.5" stroke-width="3.0"/><polyline points="1421.5,748.5 1415.1,775.7 1414.2,779.5 1403.4,779.8" stroke-width="3.0"/><polyline points="1431.9,748.5 1424.6,779.1 1426.7,783.9" stroke-width="3.0"/><polyline points="1417.2,786.0 1410.3,791.6 1404.3,791.9" stroke-width="3.0"/><polyline points="1420.7,791.6 1428.4,791.6" stroke-width="3.0"/><polyline points="1443.1,740.8 1433.2,778.3" stroke-width="3.0"/><polyline points="1441.4,752.8 1456.9,752.8" stroke-width="3.0"/><polyline points="1455.1,755.8 1440.5,788.6 1430.2,790.3" stroke-width="3.0"/><polyline points="1465.9,740.8 1457.3,788.6 1453.4,791.6 1443.9,792.2" stroke-width="3.0"/><polyline points="1495.6,740.3 1482.7,754.1" stroke-width="3.0"/><polyline points="1497.4,753.3 1480.1,771.4" stroke-width="3.0"/><polyline points="1468.9,779.5 1489.6,779.5 1490.0,773.1" stroke-width="3.0"/><polyline points="1500.8,747.2 1515.5,747.2" stroke-width="3.0"/><polyline points="1530.5,742.9 1518.0,755.4" stroke-width="3.0"/><polyline points="1510.3,762.3 1503.4,766.2" stroke-width="3.0"/><polyline points="1495.6,766.6 1524.1,766.6" stroke-width="3.0"/><polyline points="1524.5,761.9 1521.1,774.8" stroke-width="3.0"/><polyline points="1493.9,775.7 1500.8,775.7" stroke-width="3.0"/><polyline points="1511.1,775.7 1520.6,775.7" stroke-width="3.0"/><polyline points="1511.1,776.5 1508.6,783.4" stroke-width="3.0"/><polyline points="1468.1,790.3 1491.3,790.3" stroke-width="3.0"/></g>
<g opacity="0.86" transform="translate(-2.6,-3.0)"><g fill="none" stroke="#ffffff" stroke-linecap="square" stroke-linejoin="round"><polyline points="1308.0,740.2 1308.0,746.1" stroke-width="7.2"/><polyline points="1309.3,749.1 1347.9,749.1" stroke-width="7.2"/><polyline points="1298.2,754.8 1309.3,754.8 1309.3,749.9" stroke-width="7.2"/><polyline points="1302.5,755.5 1302.2,763.9" stroke-width="7.2"/><polyline points="1317.3,758.4 1335.2,758.4" stroke-width="7.2"/><polyline points="1317.8,758.9 1315.6,766.5" stroke-width="7.2"/><polyline points="1330.1,759.7 1332.6,766.5" stroke-width="7.2"/><polyline points="1345.8,752.9 1342.4,770.7 1337.7,788.6 1332.6,792.6 1302.9,793.0" stroke-width="7.2"/><polyline points="1312.7,775.0 1330.5,775.0" stroke-width="7.2"/><polyline points="1313.1,775.4 1310.5,784.3" stroke-width="7.2"/><polyline points="1324.5,776.7 1327.5,784.3" stroke-width="7.2"/><polyline points="1302.9,774.1 1295.3,789.4 1291.0,792.4 1284.2,793.0" stroke-width="7.2"/><polyline points="1356.4,746.3 1397.1,746.3" stroke-width="7.2"/><polyline points="1364.9,749.5 1362.7,759.7" stroke-width="7.2"/><polyline points="1353.8,769.0 1392.9,769.0" stroke-width="7.2"/><polyline points="1397.5,747.0 1389.5,777.5 1388.6,783.5 1348.7,783.6" stroke-width="7.2"/><polyline points="1392.9,784.3 1390.3,792.4 1373.3,793.2" stroke-width="7.2"/><polyline points="1408.2,740.3 1401.3,772.2" stroke-width="7.2"/><polyline points="1420.7,748.5 1432.7,748.5" stroke-width="7.2"/><polyline points="1421.5,748.5 1415.1,775.7 1414.2,779.5 1403.4,779.8" stroke-width="7.2"/><polyline points="1431.9,748.5 1424.6,779.1 1426.7,783.9" stroke-width="7.2"/><polyline points="1417.2,786.0 1410.3,791.6 1404.3,791.9" stroke-width="7.2"/><polyline points="1420.7,791.6 1428.4,791.6" stroke-width="7.2"/><polyline points="1443.1,740.8 1433.2,778.3" stroke-width="7.2"/><polyline points="1441.4,752.8 1456.9,752.8" stroke-width="7.2"/><polyline points="1455.1,755.8 1440.5,788.6 1430.2,790.3" stroke-width="7.2"/><polyline points="1465.9,740.8 1457.3,788.6 1453.4,791.6 1443.9,792.2" stroke-width="7.2"/><polyline points="1495.6,740.3 1482.7,754.1" stroke-width="7.2"/><polyline points="1497.4,753.3 1480.1,771.4" stroke-width="7.2"/><polyline points="1468.9,779.5 1489.6,779.5 1490.0,773.1" stroke-width="7.2"/><polyline points="1500.8,747.2 1515.5,747.2" stroke-width="7.2"/><polyline points="1530.5,742.9 1518.0,755.4" stroke-width="7.2"/><polyline points="1510.3,762.3 1503.4,766.2" stroke-width="7.2"/><polyline points="1495.6,766.6 1524.1,766.6" stroke-width="7.2"/><polyline points="1524.5,761.9 1521.1,774.8" stroke-width="7.2"/><polyline points="1493.9,775.7 1500.8,775.7" stroke-width="7.2"/><polyline points="1511.1,775.7 1520.6,775.7" stroke-width="7.2"/><polyline points="1511.1,776.5 1508.6,783.4" stroke-width="7.2"/><polyline points="1468.1,790.3 1491.3,790.3" stroke-width="7.2"/></g></g>
</g>
<rect x="1465" y="730" width="1" height="72" fill="#3a3a3e" fill-opacity="0.8"/>
<text x="1474" y="795.8" font-size="12" fill="#55575f" shape-rendering="auto" textLength="40.5" lengthAdjust="spacingAndGlyphs">−250.00</text>
<text x="1473.2" y="763.3" font-size="12" fill="#55575f" fill-opacity="0.55" shape-rendering="auto" textLength="22.8" lengthAdjust="spacingAndGlyphs">0.00</text>
</svg>
</body></html>
